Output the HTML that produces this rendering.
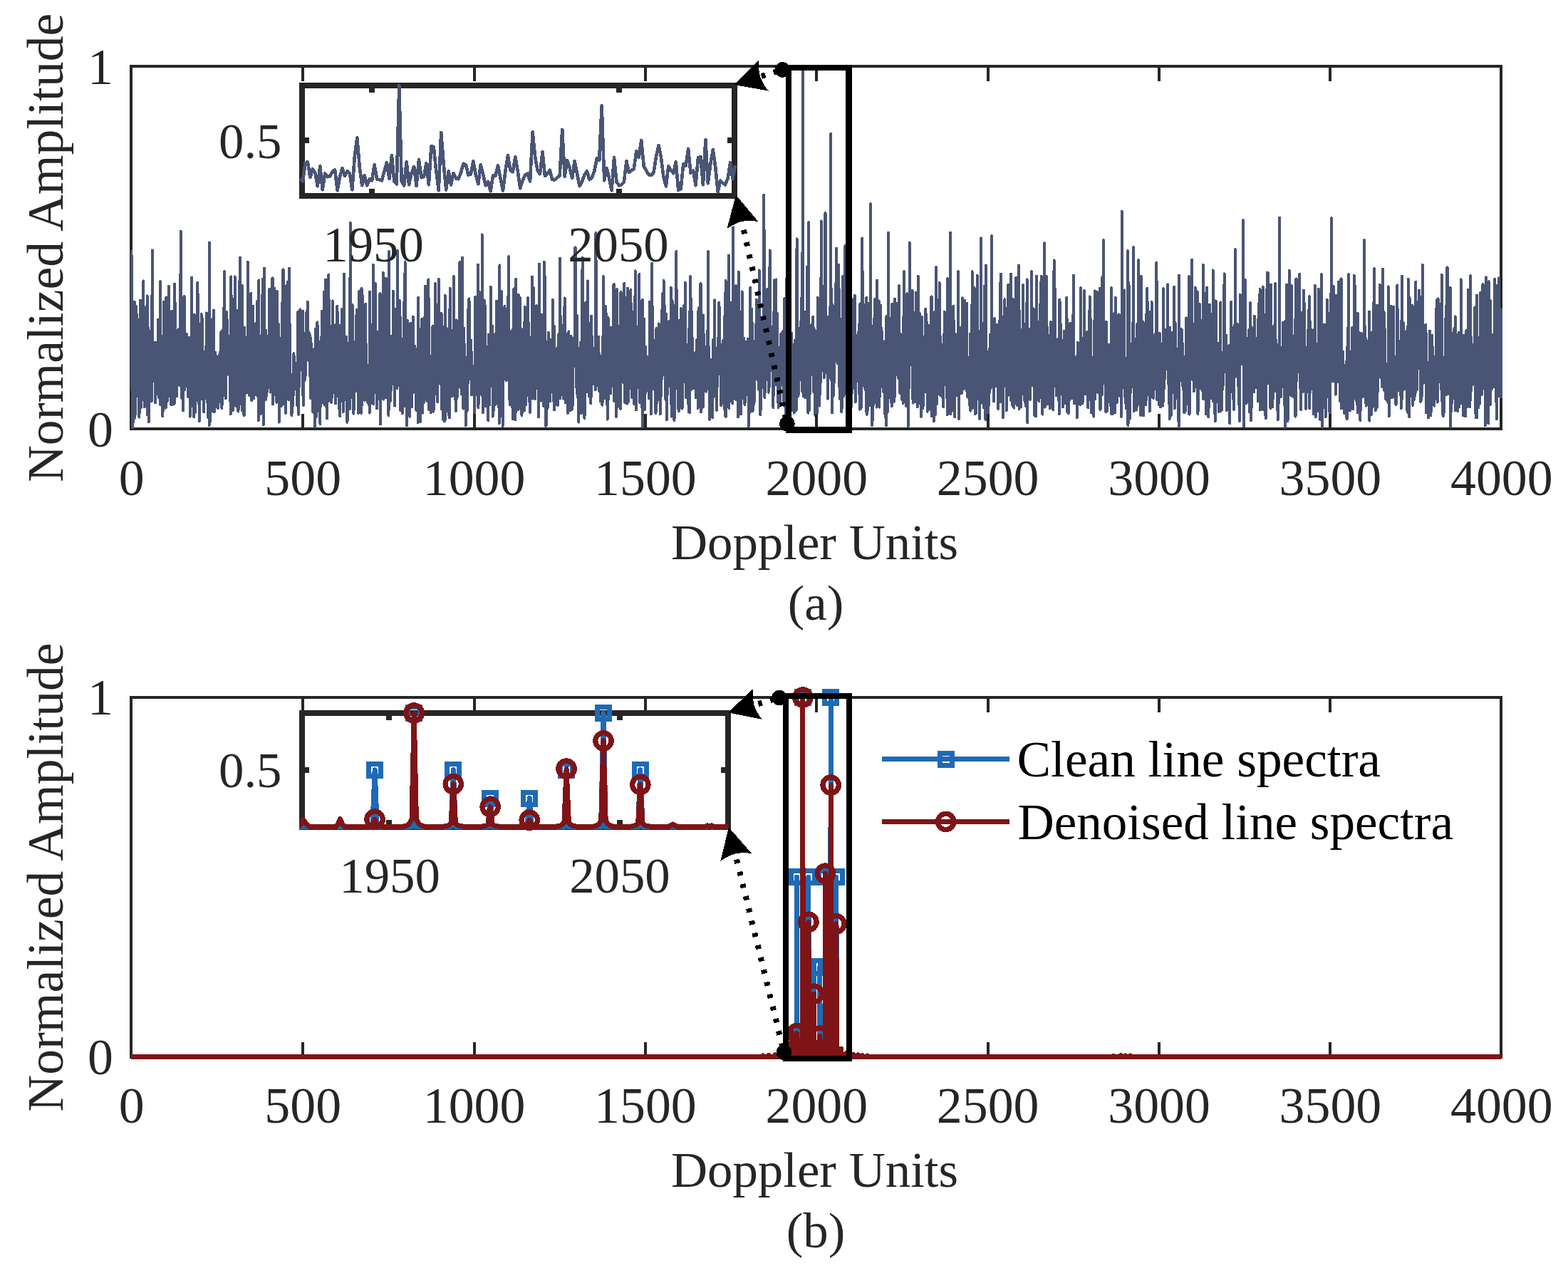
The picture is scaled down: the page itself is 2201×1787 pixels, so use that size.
<!DOCTYPE html>
<html lang="en"><head><meta charset="utf-8"><title>Line spectra denoising</title>
<style>html,body{margin:0;padding:0;background:#fff;overflow:hidden}svg{display:block}</style></head>
<body>
<svg width="2201" height="1787" viewBox="0 0 2201 1787" font-family="'Liberation Serif', 'Times New Roman', serif" font-size="70.8">
<rect x="0" y="0" width="2201" height="1787" fill="#fff"/>
<defs>
<clipPath id="ca"><rect x="182.0" y="71.0" width="1927.0" height="533.0"/></clipPath>
<clipPath id="cb"><rect x="182.0" y="957.0" width="1927.0" height="529.0"/></clipPath>
<clipPath id="cia"><rect x="420.0" y="96.0" width="615.0" height="183.0"/></clipPath>
<clipPath id="cib"><rect x="420.0" y="977.0" width="606.0" height="187.5"/></clipPath>
</defs>
<g id="plot-a" shape-rendering="crispEdges">
<rect x="184.0" y="93.0" width="1923.0" height="509.0" fill="none" stroke="#262626" stroke-width="4"/>
<path d="M184.0 352.2L184.5 352.2L185.0 525.2L185.4 548.9L185.9 519.8L186.4 600.2L186.9 574.4L187.4 473.3L187.8 458.1L188.3 552.5L188.8 423.6L189.3 586.8L189.8 540.0L190.2 581.0L190.7 429.7L191.2 497.9L191.7 548.1L192.2 441.4L192.7 555.7L193.1 456.1L193.6 484.1L194.1 504.6L194.6 569.2L195.1 448.7L195.5 585.7L196.0 495.9L196.5 567.0L197.0 421.6L197.5 526.9L197.9 572.3L198.4 515.7L198.9 459.8L199.4 484.0L199.9 561.7L200.3 453.7L200.8 514.5L201.3 394.3L201.8 480.4L202.3 474.9L202.7 571.4L203.2 539.5L203.7 441.1L204.2 531.7L204.7 547.9L205.2 469.2L205.6 471.5L206.1 498.4L206.6 415.3L207.1 582.5L207.6 551.8L208.0 460.9L208.5 551.0L209.0 592.1L209.5 555.6L210.0 559.2L210.4 542.5L210.9 499.1L211.4 552.7L211.9 464.5L212.4 509.4L212.8 563.0L213.3 461.7L213.8 351.3L214.3 476.3L214.8 488.7L215.2 535.6L215.7 508.3L216.2 510.2L216.7 501.2L217.2 516.7L217.7 480.6L218.1 565.5L218.6 540.4L219.1 480.7L219.6 487.0L220.1 480.7L220.5 553.3L221.0 505.2L221.5 514.1L222.0 448.4L222.5 555.1L222.9 511.1L223.4 558.2L223.9 493.9L224.4 525.7L224.9 395.2L225.3 568.5L225.8 473.0L226.3 479.8L226.8 479.5L227.3 560.3L227.7 549.3L228.2 584.0L228.7 574.3L229.2 553.1L229.7 423.7L230.2 440.3L230.6 539.8L231.1 572.2L231.6 555.7L232.1 521.6L232.6 572.7L233.0 494.5L233.5 417.4L234.0 563.3L234.5 552.7L235.0 462.6L235.4 562.4L235.9 423.6L236.4 481.9L236.9 401.8L237.4 556.1L237.8 514.1L238.3 525.3L238.8 482.0L239.3 549.1L239.8 526.3L240.2 568.2L240.7 554.2L241.2 437.0L241.7 568.2L242.2 477.1L242.7 528.0L243.1 543.2L243.6 515.4L244.1 438.5L244.6 567.2L245.1 398.7L245.5 509.5L246.0 425.5L246.5 537.0L247.0 548.6L247.5 526.2L247.9 556.4L248.4 517.0L248.9 470.5L249.4 492.5L249.9 506.7L250.3 462.4L250.8 519.9L251.3 512.2L251.8 512.6L252.3 541.3L252.7 517.8L253.2 492.9L253.7 324.7L254.2 503.0L254.7 459.4L255.2 559.0L255.6 482.8L256.1 508.5L256.6 444.7L257.1 576.5L257.6 539.5L258.0 461.2L258.5 415.8L259.0 431.9L259.5 547.0L260.0 486.9L260.4 519.8L260.9 535.8L261.4 528.6L261.9 469.1L262.4 480.1L262.8 498.5L263.3 522.2L263.8 548.5L264.3 557.5L264.8 506.7L265.2 540.8L265.7 473.7L266.2 499.8L266.7 584.7L267.2 522.7L267.7 519.5L268.1 550.6L268.6 480.0L269.1 389.6L269.6 474.6L270.1 540.8L270.5 523.8L271.0 570.1L271.5 554.1L272.0 510.9L272.5 585.5L272.9 441.7L273.4 459.6L273.9 452.9L274.4 578.8L274.9 517.8L275.3 458.2L275.8 517.7L276.3 518.5L276.8 543.0L277.3 397.0L277.7 424.0L278.2 462.7L278.7 556.1L279.2 525.8L279.7 591.4L280.1 474.4L280.6 510.0L281.1 492.9L281.6 480.1L282.1 518.3L282.6 441.1L283.0 560.1L283.5 526.9L284.0 447.3L284.5 559.0L285.0 494.8L285.4 527.2L285.9 537.9L286.4 578.3L286.9 509.1L287.4 547.0L287.8 531.8L288.3 496.5L288.8 486.2L289.3 556.7L289.8 439.3L290.2 468.7L290.7 564.2L291.2 507.1L291.7 521.7L292.2 585.9L292.6 535.3L293.1 485.2L293.6 597.2L294.1 340.6L294.6 592.9L295.1 476.0L295.5 527.3L296.0 533.4L296.5 569.4L297.0 493.9L297.5 448.5L297.9 576.9L298.4 452.8L298.9 545.6L299.4 572.7L299.9 435.4L300.3 504.9L300.8 578.3L301.3 511.0L301.8 511.7L302.3 494.5L302.7 553.0L303.2 537.1L303.7 499.5L304.2 516.9L304.7 571.0L305.1 558.4L305.6 508.7L306.1 572.8L306.6 516.6L307.1 565.0L307.6 499.1L308.0 543.5L308.5 548.3L309.0 494.2L309.5 536.1L310.0 467.2L310.4 531.2L310.9 465.5L311.4 572.9L311.9 557.1L312.4 463.8L312.8 478.4L313.3 555.2L313.8 510.7L314.3 469.5L314.8 381.2L315.2 535.6L315.7 549.9L316.2 471.9L316.7 559.5L317.2 505.7L317.6 437.6L318.1 487.3L318.6 448.4L319.1 450.5L319.6 474.2L320.1 476.0L320.5 525.8L321.0 500.6L321.5 519.2L322.0 507.7L322.5 503.2L322.9 475.0L323.4 558.8L323.9 581.3L324.4 388.4L324.9 506.0L325.3 563.0L325.8 521.5L326.3 437.3L326.8 576.3L327.3 478.3L327.7 550.2L328.2 546.2L328.7 522.6L329.2 473.8L329.7 388.3L330.1 528.1L330.6 568.8L331.1 570.1L331.6 490.8L332.1 511.9L332.6 492.7L333.0 521.3L333.5 516.7L334.0 435.6L334.5 577.7L335.0 540.1L335.4 556.1L335.9 395.7L336.4 550.9L336.9 361.6L337.4 567.0L337.8 498.4L338.3 514.6L338.8 415.7L339.3 490.1L339.8 401.0L340.2 576.7L340.7 484.1L341.2 517.6L341.7 535.6L342.2 580.8L342.6 583.3L343.1 459.9L343.6 508.5L344.1 505.0L344.6 552.3L345.1 492.8L345.5 514.8L346.0 475.2L346.5 551.0L347.0 549.9L347.5 474.9L347.9 367.7L348.4 462.4L348.9 543.0L349.4 512.8L349.9 551.9L350.3 555.5L350.8 537.0L351.3 479.4L351.8 547.8L352.3 411.5L352.7 457.0L353.2 562.3L353.7 438.7L354.2 544.8L354.7 473.5L355.1 430.0L355.6 536.7L356.1 559.2L356.6 525.0L357.1 554.0L357.6 489.0L358.0 514.9L358.5 454.4L359.0 554.6L359.5 528.8L360.0 518.7L360.4 485.7L360.9 540.8L361.4 422.7L361.9 556.7L362.4 479.6L362.8 590.5L363.3 393.3L363.8 576.1L364.3 492.0L364.8 487.1L365.2 517.9L365.7 581.2L366.2 555.2L366.7 506.8L367.2 539.2L367.6 558.9L368.1 533.6L368.6 391.5L369.1 472.0L369.6 596.4L370.1 454.6L370.5 544.6L371.0 376.5L371.5 499.9L372.0 502.3L372.5 510.3L372.9 560.9L373.4 463.5L373.9 493.3L374.4 555.7L374.9 534.8L375.3 489.9L375.8 481.8L376.3 494.0L376.8 544.7L377.3 475.4L377.7 533.3L378.2 405.5L378.7 484.6L379.2 488.7L379.7 550.7L380.1 509.5L380.6 512.4L381.1 526.7L381.6 507.4L382.1 473.4L382.5 390.5L383.0 567.2L383.5 467.8L384.0 438.7L384.5 545.8L385.0 548.0L385.4 404.6L385.9 554.3L386.4 503.4L386.9 531.4L387.4 506.6L387.8 496.1L388.3 564.8L388.8 408.8L389.3 480.9L389.8 553.3L390.2 554.7L390.7 454.3L391.2 487.1L391.7 592.7L392.2 515.6L392.6 546.2L393.1 532.0L393.6 559.9L394.1 475.0L394.6 489.1L395.0 569.7L395.5 495.1L396.0 513.6L396.5 423.6L397.0 541.5L397.5 378.4L397.9 566.8L398.4 443.2L398.9 555.7L399.4 525.0L399.9 401.8L400.3 466.3L400.8 526.6L401.3 579.9L401.8 538.0L402.3 551.6L402.7 403.7L403.2 403.9L403.7 395.7L404.2 510.2L404.7 534.1L405.1 526.0L405.6 560.9L406.1 376.5L406.6 471.8L407.1 549.8L407.5 523.9L408.0 529.9L408.5 536.4L409.0 553.0L409.5 583.2L410.0 537.6L410.4 527.6L410.9 555.1L411.4 569.5L411.9 515.1L412.4 496.2L412.8 505.8L413.3 507.3L413.8 529.4L414.3 531.4L414.8 509.9L415.2 531.7L415.7 520.4L416.2 511.8L416.7 568.7L417.2 551.2L417.6 530.4L418.1 438.0L418.6 578.7L419.1 581.8L419.6 536.1L420.0 536.3L420.5 520.0L421.0 502.2L421.5 434.4L422.0 510.4L422.5 482.8L422.9 497.6L423.4 493.7L423.9 519.1L424.4 476.5L424.9 436.6L425.3 547.3L425.8 568.8L426.3 540.9L426.8 467.9L427.3 499.6L427.7 533.9L428.2 497.5L428.7 513.9L429.2 526.2L429.7 439.8L430.1 440.9L430.6 458.8L431.1 487.6L431.6 423.7L432.1 483.3L432.5 473.2L433.0 502.4L433.5 506.7L434.0 470.3L434.5 467.4L435.0 527.8L435.4 489.2L435.9 558.8L436.4 474.6L436.9 504.4L437.4 504.8L437.8 521.1L438.3 544.8L438.8 510.6L439.3 578.7L439.8 512.7L440.2 512.2L440.7 565.5L441.2 490.2L441.7 502.6L442.2 599.0L442.6 461.5L443.1 557.2L443.6 550.6L444.1 584.7L444.6 534.6L445.0 498.7L445.5 452.5L446.0 566.1L446.5 514.7L447.0 536.7L447.5 560.3L447.9 577.9L448.4 537.3L448.9 535.8L449.4 595.0L449.9 502.3L450.3 479.1L450.8 496.5L451.3 499.8L451.8 436.5L452.3 507.0L452.7 565.0L453.2 503.6L453.7 552.6L454.2 566.0L454.7 467.2L455.1 409.6L455.6 568.1L456.1 531.8L456.6 553.1L457.1 392.4L457.5 538.2L458.0 570.5L458.5 505.3L459.0 587.4L459.5 464.8L460.0 526.6L460.4 563.3L460.9 551.9L461.4 385.8L461.9 539.0L462.4 550.0L462.8 555.9L463.3 562.3L463.8 460.4L464.3 537.9L464.8 489.5L465.2 564.8L465.7 554.9L466.2 516.5L466.7 422.3L467.2 503.9L467.6 545.6L468.1 522.6L468.6 470.5L469.1 545.8L469.6 551.2L470.0 519.7L470.5 551.7L471.0 566.6L471.5 455.2L472.0 479.6L472.4 556.7L472.9 475.8L473.4 429.7L473.9 460.6L474.4 488.5L474.9 475.6L475.3 521.5L475.8 484.2L476.3 574.0L476.8 456.9L477.3 584.2L477.7 502.5L478.2 494.3L478.7 524.4L479.2 530.4L479.7 532.2L480.1 434.0L480.6 539.6L481.1 505.9L481.6 578.2L482.1 567.3L482.5 510.6L483.0 384.6L483.5 489.1L484.0 561.1L484.5 533.5L484.9 543.3L485.4 542.3L485.9 507.3L486.4 472.7L486.9 503.0L487.4 592.8L487.8 516.4L488.3 589.9L488.8 554.1L489.3 509.7L489.8 560.8L490.2 497.2L490.7 574.2L491.2 527.3L491.7 312.9L492.2 505.4L492.6 512.0L493.1 493.9L493.6 552.7L494.1 558.2L494.6 427.8L495.0 528.8L495.5 486.8L496.0 551.8L496.5 580.6L497.0 505.0L497.4 554.3L497.9 537.0L498.4 480.1L498.9 543.4L499.4 502.1L499.9 549.0L500.3 447.7L500.8 434.8L501.3 495.0L501.8 525.5L502.3 483.3L502.7 553.2L503.2 579.8L503.7 435.0L504.2 409.1L504.7 432.1L505.1 506.5L505.6 491.4L506.1 507.7L506.6 562.1L507.1 579.7L507.5 404.6L508.0 568.5L508.5 413.0L509.0 437.4L509.5 430.1L509.9 529.5L510.4 560.7L510.9 543.8L511.4 529.0L511.9 524.5L512.4 561.8L512.8 532.2L513.3 427.0L513.8 560.6L514.3 535.5L514.8 518.7L515.2 529.2L515.7 545.2L516.2 564.9L516.7 538.7L517.2 518.1L517.6 512.9L518.1 528.3L518.6 579.8L519.1 409.6L519.6 521.7L520.0 520.1L520.5 566.8L521.0 558.1L521.5 456.3L522.0 480.6L522.4 511.1L522.9 561.4L523.4 533.4L523.9 371.8L524.4 567.3L524.9 508.3L525.3 463.2L525.8 532.1L526.3 450.2L526.8 398.0L527.3 549.7L527.7 512.3L528.2 485.9L528.7 490.6L529.2 573.6L529.7 494.6L530.1 467.0L530.6 560.5L531.1 465.4L531.6 518.5L532.1 518.7L532.5 511.1L533.0 511.4L533.5 411.8L534.0 595.1L534.5 510.1L534.9 505.5L535.4 426.2L535.9 545.4L536.4 490.2L536.9 526.2L537.4 522.6L537.8 382.7L538.3 560.7L538.8 534.9L539.3 558.9L539.8 536.2L540.2 466.2L540.7 535.6L541.2 539.1L541.7 390.8L542.2 558.0L542.6 463.3L543.1 440.0L543.6 541.2L544.1 502.4L544.6 450.2L545.0 507.3L545.5 583.2L546.0 353.1L546.5 529.1L547.0 479.7L547.4 507.7L547.9 492.1L548.4 562.6L548.9 471.5L549.4 547.0L549.9 481.3L550.3 537.5L550.8 503.0L551.3 538.8L551.8 408.6L552.3 487.2L552.7 467.2L553.2 518.3L553.7 482.1L554.2 569.7L554.7 481.1L555.1 434.3L555.6 526.8L556.1 493.5L556.6 511.5L557.1 542.6L557.5 545.5L558.0 352.2L558.5 464.8L559.0 526.3L559.5 541.1L559.9 517.7L560.4 431.5L560.9 421.7L561.4 479.6L561.9 575.8L562.4 445.8L562.8 559.2L563.3 512.5L563.8 565.0L564.3 526.5L564.8 580.0L565.2 559.5L565.7 554.5L566.2 563.6L566.7 424.3L567.2 549.4L567.6 570.0L568.1 461.7L568.6 368.1L569.1 461.7L569.6 448.0L570.0 541.2L570.5 519.7L571.0 597.3L571.5 504.7L572.0 450.3L572.4 570.1L572.9 579.1L573.4 583.2L573.9 554.4L574.4 552.9L574.8 575.9L575.3 584.8L575.8 508.7L576.3 453.6L576.8 536.0L577.3 538.1L577.7 503.0L578.2 571.2L578.7 515.2L579.2 547.7L579.7 444.5L580.1 551.0L580.6 548.3L581.1 524.5L581.6 528.2L582.1 520.5L582.5 485.7L583.0 527.7L583.5 505.3L584.0 534.6L584.5 576.4L584.9 553.0L585.4 522.2L585.9 517.9L586.4 521.5L586.9 593.1L587.3 417.7L587.8 561.5L588.3 525.4L588.8 527.6L589.3 530.0L589.8 592.3L590.2 490.2L590.7 461.7L591.2 464.1L591.7 492.4L592.2 447.6L592.6 558.0L593.1 579.7L593.6 491.2L594.1 513.1L594.6 565.6L595.0 540.5L595.5 445.7L596.0 543.6L596.5 537.9L597.0 401.7L597.4 496.3L597.9 425.8L598.4 541.6L598.9 524.7L599.4 562.9L599.8 524.0L600.3 499.4L600.8 501.8L601.3 392.3L601.8 455.7L602.3 575.1L602.7 528.7L603.2 550.3L603.7 534.1L604.2 521.6L604.7 579.0L605.1 566.8L605.6 499.7L606.1 515.8L606.6 509.8L607.1 552.0L607.5 457.8L608.0 471.9L608.5 577.6L609.0 541.1L609.5 488.8L609.9 514.5L610.4 540.9L610.9 398.1L611.4 514.1L611.9 472.2L612.3 553.4L612.8 514.3L613.3 429.1L613.8 538.7L614.3 564.2L614.8 498.9L615.2 488.8L615.7 391.8L616.2 415.4L616.7 486.7L617.2 483.6L617.6 442.8L618.1 538.8L618.6 524.0L619.1 502.2L619.6 439.8L620.0 574.4L620.5 492.8L621.0 494.3L621.5 458.8L622.0 523.3L622.4 589.7L622.9 544.0L623.4 517.6L623.9 591.6L624.4 489.5L624.8 414.5L625.3 588.2L625.8 565.9L626.3 513.4L626.8 460.4L627.3 466.5L627.7 555.2L628.2 532.2L628.7 497.4L629.2 529.3L629.7 582.7L630.1 552.9L630.6 529.9L631.1 586.6L631.6 404.6L632.1 517.2L632.5 504.1L633.0 479.1L633.5 495.7L634.0 515.2L634.5 523.4L634.9 556.1L635.4 493.5L635.9 463.4L636.4 508.6L636.9 388.3L637.3 524.4L637.8 510.2L638.3 458.8L638.8 464.8L639.3 561.6L639.8 471.4L640.2 576.8L640.7 449.4L641.2 559.6L641.7 557.3L642.2 526.3L642.6 479.6L643.1 472.6L643.6 487.0L644.1 543.5L644.6 503.8L645.0 525.2L645.5 368.1L646.0 510.9L646.5 544.4L647.0 504.7L647.4 519.5L647.9 553.3L648.4 549.3L648.9 361.6L649.4 548.1L649.8 546.2L650.3 573.6L650.8 521.6L651.3 460.6L651.8 511.9L652.3 499.3L652.7 569.8L653.2 534.3L653.7 597.3L654.2 525.9L654.7 515.9L655.1 502.1L655.6 577.0L656.1 521.3L656.6 539.2L657.1 512.6L657.5 433.3L658.0 501.7L658.5 419.2L659.0 499.3L659.5 485.6L659.9 529.3L660.4 532.7L660.9 512.5L661.4 477.6L661.9 554.5L662.3 494.3L662.8 551.5L663.3 530.0L663.8 528.2L664.3 553.7L664.8 538.9L665.2 527.3L665.7 513.9L666.2 595.8L666.7 534.2L667.2 416.6L667.6 554.3L668.1 527.8L668.6 510.6L669.1 473.0L669.6 548.2L670.0 532.5L670.5 463.7L671.0 371.5L671.5 572.1L672.0 439.3L672.4 504.8L672.9 410.2L673.4 508.3L673.9 536.6L674.4 516.5L674.8 469.0L675.3 552.8L675.8 517.2L676.3 494.0L676.8 329.4L677.2 517.6L677.7 579.4L678.2 551.1L678.7 533.8L679.2 471.2L679.7 421.3L680.1 492.8L680.6 570.3L681.1 429.4L681.6 552.6L682.1 570.6L682.5 509.4L683.0 503.3L683.5 498.7L684.0 505.3L684.5 486.9L684.9 529.3L685.4 590.4L685.9 469.5L686.4 538.5L686.9 568.4L687.3 499.5L687.8 481.2L688.3 542.3L688.8 402.7L689.3 482.4L689.7 506.7L690.2 504.6L690.7 468.3L691.2 457.6L691.7 584.7L692.2 559.0L692.6 488.0L693.1 575.6L693.6 545.4L694.1 470.2L694.6 526.2L695.0 503.3L695.5 568.0L696.0 562.0L696.5 468.1L697.0 422.8L697.4 508.2L697.9 470.9L698.4 477.8L698.9 547.7L699.4 542.9L699.8 571.6L700.3 517.6L700.8 594.0L701.3 372.4L701.8 545.4L702.2 469.3L702.7 461.5L703.2 489.8L703.7 408.9L704.2 479.3L704.7 526.8L705.1 527.8L705.6 598.1L706.1 500.3L706.6 494.0L707.1 462.5L707.5 438.0L708.0 532.2L708.5 430.1L709.0 483.5L709.5 525.6L709.9 504.9L710.4 478.8L710.9 534.2L711.4 488.9L711.9 496.7L712.3 481.8L712.8 476.9L713.3 456.9L713.8 360.2L714.3 456.9L714.7 507.7L715.2 551.4L715.7 568.3L716.2 550.1L716.7 473.0L717.2 555.3L717.6 464.5L718.1 522.0L718.6 558.3L719.1 505.0L719.6 588.3L720.0 462.6L720.5 545.3L721.0 544.8L721.5 405.5L722.0 538.2L722.4 516.3L722.9 491.7L723.4 589.5L723.9 546.5L724.4 391.8L724.8 561.1L725.3 533.2L725.8 507.1L726.3 521.5L726.8 568.1L727.2 575.1L727.7 413.8L728.2 546.6L728.7 561.2L729.2 514.5L729.7 417.7L730.1 519.5L730.6 515.4L731.1 552.4L731.6 580.6L732.1 462.2L732.5 583.1L733.0 533.6L733.5 468.6L734.0 478.7L734.5 471.1L734.9 549.2L735.4 477.7L735.9 452.5L736.4 576.5L736.9 430.9L737.3 495.3L737.8 563.9L738.3 568.4L738.8 486.4L739.3 458.3L739.7 486.1L740.2 446.0L740.7 535.4L741.2 418.1L741.7 471.6L742.2 533.3L742.6 563.8L743.1 541.1L743.6 500.9L744.1 578.9L744.6 473.9L745.0 547.4L745.5 549.5L746.0 481.8L746.5 512.8L747.0 388.6L747.4 559.7L747.9 514.5L748.4 526.7L748.9 403.7L749.4 483.0L749.8 468.8L750.3 451.0L750.8 559.9L751.3 533.1L751.8 532.9L752.2 436.4L752.7 527.2L753.2 429.1L753.7 500.1L754.2 482.8L754.7 468.8L755.1 545.6L755.6 514.5L756.1 585.4L756.6 522.8L757.1 370.5L757.5 555.8L758.0 512.9L758.5 557.9L759.0 508.2L759.5 562.6L759.9 441.6L760.4 548.2L760.9 485.0L761.4 548.3L761.9 547.1L762.3 540.7L762.8 569.9L763.3 531.9L763.8 367.7L764.3 525.7L764.7 503.1L765.2 388.8L765.7 546.5L766.2 597.8L766.7 597.3L767.1 483.6L767.6 514.3L768.1 518.4L768.6 572.9L769.1 481.3L769.6 477.9L770.0 467.0L770.5 557.1L771.0 527.0L771.5 501.9L772.0 498.3L772.4 563.0L772.9 516.2L773.4 477.0L773.9 546.4L774.4 523.1L774.8 507.4L775.3 536.8L775.8 420.5L776.3 493.5L776.8 562.7L777.2 493.0L777.7 457.7L778.2 575.6L778.7 509.4L779.2 495.5L779.6 523.6L780.1 518.9L780.6 567.8L781.1 529.7L781.6 494.2L782.1 551.0L782.5 487.6L783.0 568.9L783.5 543.8L784.0 491.5L784.5 469.1L784.9 539.0L785.4 554.5L785.9 362.5L786.4 559.2L786.9 538.8L787.3 444.7L787.8 469.6L788.3 553.8L788.8 546.9L789.3 551.3L789.7 527.3L790.2 476.6L790.7 551.5L791.2 559.7L791.7 431.5L792.1 554.5L792.6 418.3L793.1 495.6L793.6 565.0L794.1 501.5L794.6 475.7L795.0 522.3L795.5 469.2L796.0 480.7L796.5 538.1L797.0 579.8L797.4 537.0L797.9 498.4L798.4 465.4L798.9 568.6L799.4 512.8L799.8 516.0L800.3 576.5L800.8 518.5L801.3 471.7L801.8 486.1L802.2 527.6L802.7 574.9L803.2 476.8L803.7 474.4L804.2 568.6L804.6 502.9L805.1 490.7L805.6 495.8L806.1 485.4L806.6 478.2L807.1 500.1L807.5 347.5L808.0 469.8L808.5 446.3L809.0 543.0L809.5 502.7L809.9 442.9L810.4 554.0L810.9 547.3L811.4 558.8L811.9 546.6L812.3 592.6L812.8 547.8L813.3 553.0L813.8 488.1L814.3 559.1L814.7 480.5L815.2 507.7L815.7 580.4L816.2 543.6L816.7 499.5L817.1 457.7L817.6 361.6L818.1 579.2L818.6 530.0L819.1 577.2L819.6 512.5L820.0 481.1L820.5 586.9L821.0 470.8L821.5 500.3L822.0 536.0L822.4 424.3L822.9 550.5L823.4 506.7L823.9 475.8L824.4 510.6L824.8 394.3L825.3 513.7L825.8 452.8L826.3 538.4L826.8 556.1L827.2 500.5L827.7 504.4L828.2 510.0L828.7 513.0L829.2 566.5L829.6 555.9L830.1 443.4L830.6 477.6L831.1 509.9L831.6 526.1L832.1 500.7L832.5 512.3L833.0 539.2L833.5 489.3L834.0 527.3L834.5 492.5L834.9 534.4L835.4 519.3L835.9 547.2L836.4 326.9L836.9 498.6L837.3 470.0L837.8 540.8L838.3 515.9L838.8 482.1L839.3 487.0L839.7 478.7L840.2 472.8L840.7 507.1L841.2 548.9L841.7 498.1L842.1 534.5L842.6 504.1L843.1 563.4L843.6 520.2L844.1 544.8L844.6 542.2L845.0 550.9L845.5 568.7L846.0 520.8L846.5 473.8L847.0 388.3L847.4 550.2L847.9 450.8L848.4 491.5L848.9 476.1L849.4 558.8L849.8 429.6L850.3 501.4L850.8 440.0L851.3 546.9L851.8 567.8L852.2 463.5L852.7 588.7L853.2 534.7L853.7 446.1L854.2 560.1L854.6 509.5L855.1 489.9L855.6 511.9L856.1 547.6L856.6 511.5L857.0 552.5L857.5 503.5L858.0 459.9L858.5 517.1L859.0 536.0L859.5 474.3L859.9 460.5L860.4 542.7L860.9 445.4L861.4 399.4L861.9 399.2L862.3 563.0L862.8 521.7L863.3 535.8L863.8 551.6L864.3 512.3L864.7 567.7L865.2 584.9L865.7 536.3L866.2 406.1L866.7 487.5L867.1 547.4L867.6 570.7L868.1 458.2L868.6 534.2L869.1 507.2L869.5 462.1L870.0 531.6L870.5 532.2L871.0 573.7L871.5 409.7L872.0 417.7L872.4 492.0L872.9 496.7L873.4 489.5L873.9 432.8L874.4 488.4L874.8 536.9L875.3 500.8L875.8 530.8L876.3 397.6L876.8 440.9L877.2 564.8L877.7 545.5L878.2 505.4L878.7 537.3L879.2 484.1L879.6 506.3L880.1 566.7L880.6 487.8L881.1 404.6L881.6 564.5L882.0 562.0L882.5 447.4L883.0 514.7L883.5 545.0L884.0 502.3L884.5 536.9L884.9 524.0L885.4 407.1L885.9 488.2L886.4 490.5L886.9 557.8L887.3 523.5L887.8 437.4L888.3 551.3L888.8 537.8L889.3 491.5L889.7 566.8L890.2 520.6L890.7 499.8L891.2 479.6L891.7 380.3L892.1 559.5L892.6 530.3L893.1 575.3L893.6 522.4L894.1 539.2L894.5 477.8L895.0 535.8L895.5 458.5L896.0 520.6L896.5 544.4L897.0 471.8L897.4 384.9L897.9 545.5L898.4 565.3L898.9 521.8L899.4 525.5L899.8 484.1L900.3 558.9L900.8 551.2L901.3 572.4L901.8 420.9L902.2 598.9L902.7 530.0L903.2 504.7L903.7 534.1L904.2 447.8L904.6 575.5L905.1 532.9L905.6 553.1L906.1 486.9L906.6 528.8L907.0 536.9L907.5 520.1L908.0 546.1L908.5 517.2L909.0 500.9L909.5 528.7L909.9 548.8L910.4 517.5L910.9 559.0L911.4 557.4L911.9 423.7L912.3 489.3L912.8 554.6L913.3 436.2L913.8 581.0L914.3 532.4L914.7 524.7L915.2 370.0L915.7 462.8L916.2 546.0L916.7 517.5L917.1 508.0L917.6 527.2L918.1 477.8L918.6 540.1L919.1 534.2L919.5 534.6L920.0 549.5L920.5 579.9L921.0 556.4L921.5 461.1L922.0 520.7L922.4 565.0L922.9 523.9L923.4 548.7L923.9 495.3L924.4 561.1L924.8 454.4L925.3 560.7L925.8 537.8L926.3 505.6L926.8 581.2L927.2 563.4L927.7 540.6L928.2 555.5L928.7 520.7L929.2 519.7L929.6 412.5L930.1 519.1L930.6 502.7L931.1 494.2L931.6 393.8L932.0 526.2L932.5 494.2L933.0 429.1L933.5 512.6L934.0 473.3L934.5 561.3L934.9 504.4L935.4 441.0L935.9 589.0L936.4 529.6L936.9 470.4L937.3 553.2L937.8 477.4L938.3 515.9L938.8 451.2L939.3 471.4L939.7 536.0L940.2 541.7L940.7 490.2L941.2 538.4L941.7 403.7L942.1 492.1L942.6 584.8L943.1 566.6L943.6 422.1L944.1 497.4L944.5 518.8L945.0 575.6L945.5 428.7L946.0 480.5L946.5 590.0L947.0 491.7L947.4 471.7L947.9 542.9L948.4 470.6L948.9 516.2L949.4 353.1L949.8 542.9L950.3 448.8L950.8 490.1L951.3 546.5L951.8 457.3L952.2 572.1L952.7 577.2L953.2 567.4L953.7 450.1L954.2 537.9L954.6 555.7L955.1 480.5L955.6 538.3L956.1 433.3L956.6 445.1L957.0 543.0L957.5 573.8L958.0 549.9L958.5 463.2L959.0 526.5L959.4 493.9L959.9 536.3L960.4 428.7L960.9 451.5L961.4 506.5L961.9 397.0L962.3 528.6L962.8 512.3L963.3 558.2L963.8 533.4L964.3 541.6L964.7 534.2L965.2 484.2L965.7 563.4L966.2 549.7L966.7 578.3L967.1 574.2L967.6 437.6L968.1 579.1L968.6 533.4L969.1 388.3L969.5 473.8L970.0 419.5L970.5 546.8L971.0 437.1L971.5 536.2L971.9 474.2L972.4 529.9L972.9 529.4L973.4 545.1L973.9 502.5L974.4 534.1L974.8 506.7L975.3 495.4L975.8 502.3L976.3 535.6L976.8 558.5L977.2 528.6L977.7 477.2L978.2 552.6L978.7 525.5L979.2 513.0L979.6 573.2L980.1 457.3L980.6 432.2L981.1 538.9L981.6 549.2L982.0 554.0L982.5 552.5L983.0 564.1L983.5 398.1L984.0 578.5L984.4 460.4L984.9 524.6L985.4 571.8L985.9 442.3L986.4 571.7L986.9 570.2L987.3 442.9L987.8 502.0L988.3 520.3L988.8 495.4L989.3 521.6L989.7 487.2L990.2 518.9L990.7 543.1L991.2 549.6L991.7 546.6L992.1 534.6L992.6 533.9L993.1 509.9L993.6 454.4L994.1 353.1L994.5 485.9L995.0 500.4L995.5 531.5L996.0 588.7L996.5 516.4L996.9 566.1L997.4 506.1L997.9 561.3L998.4 504.6L998.9 532.8L999.4 517.7L999.8 507.6L1000.3 586.0L1000.8 477.3L1001.3 493.9L1001.8 557.0L1002.2 554.6L1002.7 493.7L1003.2 421.4L1003.7 548.3L1004.2 519.8L1004.6 522.2L1005.1 513.2L1005.6 499.5L1006.1 575.8L1006.6 538.1L1007.0 488.9L1007.5 513.5L1008.0 521.2L1008.5 472.9L1009.0 521.9L1009.4 424.5L1009.9 448.8L1010.4 520.6L1010.9 487.4L1011.4 519.1L1011.9 553.2L1012.3 569.3L1012.8 515.1L1013.3 484.1L1013.8 566.0L1014.3 491.4L1014.7 542.1L1015.2 477.5L1015.7 558.5L1016.2 548.5L1016.7 445.1L1017.1 540.7L1017.6 583.6L1018.1 491.6L1018.6 394.0L1019.1 584.9L1019.5 520.1L1020.0 531.2L1020.5 549.1L1021.0 549.8L1021.5 549.6L1021.9 422.2L1022.4 541.9L1022.9 358.4L1023.4 572.9L1023.9 536.7L1024.4 506.7L1024.8 453.4L1025.3 491.6L1025.8 425.5L1026.3 553.5L1026.8 424.6L1027.2 559.9L1027.7 425.3L1028.2 566.5L1028.7 472.8L1029.2 319.4L1029.6 548.1L1030.1 479.9L1030.6 408.8L1031.1 464.2L1031.6 524.6L1032.0 523.5L1032.5 560.7L1033.0 401.1L1033.5 455.2L1034.0 554.9L1034.4 549.3L1034.9 546.7L1035.4 556.0L1035.9 585.5L1036.4 479.4L1036.9 381.8L1037.3 469.9L1037.8 539.5L1038.3 506.1L1038.8 466.2L1039.3 520.5L1039.7 551.7L1040.2 581.6L1040.7 541.3L1041.2 486.4L1041.7 409.3L1042.1 486.4L1042.6 512.7L1043.1 491.8L1043.6 536.8L1044.1 474.5L1044.5 561.2L1045.0 504.0L1045.5 568.2L1046.0 487.3L1046.5 525.6L1046.9 479.4L1047.4 545.2L1047.9 500.8L1048.4 495.0L1048.9 554.6L1049.3 527.4L1049.8 475.9L1050.3 502.0L1050.8 598.2L1051.3 511.3L1051.8 523.8L1052.2 569.4L1052.7 578.9L1053.2 403.7L1053.7 526.2L1054.2 574.3L1054.6 487.0L1055.1 433.4L1055.6 518.9L1056.1 453.3L1056.6 577.0L1057.0 537.0L1057.5 512.9L1058.0 525.2L1058.5 567.4L1059.0 478.5L1059.4 516.9L1059.9 514.6L1060.4 494.3L1060.9 489.8L1061.4 468.3L1061.8 421.0L1062.3 511.6L1062.8 522.4L1063.3 533.2L1063.8 525.9L1064.3 505.6L1064.7 477.0L1065.2 547.1L1065.7 379.3L1066.2 468.4L1066.7 488.9L1067.1 582.1L1067.6 574.6L1068.1 451.3L1068.6 500.4L1069.1 520.8L1069.5 486.2L1070.0 543.8L1070.5 534.9L1071.0 496.9L1071.5 510.5L1071.9 463.0L1072.4 273.6L1072.9 489.0L1073.4 557.9L1073.9 532.9L1074.3 503.0L1074.8 481.0L1075.3 429.5L1075.8 468.1L1076.3 508.7L1076.8 525.8L1077.2 405.5L1077.7 533.0L1078.2 485.9L1078.7 550.9L1079.2 544.2L1079.6 543.4L1080.1 493.2L1080.6 351.3L1081.1 520.5L1081.6 497.3L1082.0 497.0L1082.5 481.3L1083.0 459.1L1083.5 480.7L1084.0 497.2L1084.4 485.4L1084.9 554.3L1085.4 572.1L1085.9 504.0L1086.4 456.7L1086.8 393.4L1087.3 426.4L1087.8 427.4L1088.3 444.3L1088.8 540.5L1089.3 392.4L1089.7 507.7L1090.2 500.3L1090.7 520.5L1091.2 440.2L1091.7 562.7L1092.1 540.0L1092.6 572.0L1093.1 522.2L1093.6 502.4L1094.1 563.7L1094.5 512.0L1095.0 564.3L1095.5 486.1L1096.0 505.1L1096.5 468.3L1096.9 516.2L1097.4 540.0L1097.9 529.1L1098.4 509.9L1098.9 525.5L1099.3 465.0L1099.8 476.7L1100.3 567.9L1100.8 569.6L1101.3 418.6L1101.8 547.2L1102.2 454.7L1102.7 530.9L1103.2 555.7L1103.7 596.8L1104.2 391.1L1104.6 557.7L1105.1 437.2L1105.6 543.9L1106.1 447.9L1106.6 528.2L1107.0 510.5L1107.5 527.3L1108.0 536.9L1108.5 454.1L1109.0 447.8L1109.4 520.0L1109.9 480.9L1110.4 497.1L1110.9 559.7L1111.4 467.7L1111.8 576.2L1112.3 500.8L1112.8 517.0L1113.3 513.3L1113.8 493.8L1114.3 484.2L1114.7 579.6L1115.2 517.0L1115.7 477.6L1116.2 513.3L1116.7 490.8L1117.1 500.4L1117.6 576.2L1118.1 424.3L1118.6 335.3L1119.1 474.0L1119.5 556.4L1120.0 510.7L1120.5 556.4L1121.0 527.3L1121.5 533.2L1121.9 461.0L1122.4 526.9L1122.9 530.2L1123.4 533.2L1123.9 490.5L1124.3 451.1L1124.8 526.6L1125.3 418.0L1125.8 536.9L1126.3 549.8L1126.8 95.3L1127.2 536.9L1127.7 556.4L1128.2 447.8L1128.7 553.1L1129.2 500.4L1129.6 469.3L1130.1 558.0L1130.6 437.9L1131.1 520.3L1131.6 516.7L1132.0 454.4L1132.5 553.1L1133.0 375.0L1133.5 379.6L1134.0 490.5L1134.4 579.6L1134.9 312.1L1135.4 457.4L1135.9 576.2L1136.4 490.8L1136.8 553.1L1137.3 499.1L1137.8 523.6L1138.3 526.6L1138.8 497.1L1139.3 455.7L1139.7 461.0L1140.2 508.4L1140.7 503.7L1141.2 444.5L1141.7 507.1L1142.1 549.8L1142.6 461.0L1143.1 507.1L1143.6 556.4L1144.1 538.8L1144.5 582.9L1145.0 510.7L1145.5 511.7L1146.0 464.4L1146.5 523.6L1146.9 579.6L1147.4 490.5L1147.9 418.0L1148.4 487.2L1148.9 493.5L1149.3 424.6L1149.8 490.5L1150.3 569.6L1150.8 533.5L1151.3 507.4L1151.7 502.1L1152.2 536.5L1152.7 310.4L1153.2 421.0L1153.7 487.2L1154.2 503.4L1154.6 401.5L1155.1 513.3L1155.6 503.7L1156.1 485.9L1156.6 529.9L1157.0 530.2L1157.5 520.6L1158.0 510.0L1158.5 298.8L1159.0 515.0L1159.4 441.2L1159.9 474.0L1160.4 523.3L1160.9 444.5L1161.4 500.4L1161.8 559.7L1162.3 540.2L1162.8 507.1L1163.3 490.8L1163.8 529.9L1164.2 520.3L1164.7 490.5L1165.2 431.3L1165.7 440.5L1166.2 187.9L1166.7 533.2L1167.1 477.6L1167.6 523.6L1168.1 579.6L1168.6 427.9L1169.1 540.2L1169.5 556.4L1170.0 553.4L1170.5 540.2L1171.0 444.5L1171.5 496.8L1171.9 487.2L1172.4 480.6L1172.9 398.1L1173.4 427.3L1173.9 348.5L1174.3 467.3L1174.8 487.2L1175.3 507.1L1175.8 510.0L1176.3 497.1L1176.7 424.3L1177.2 371.7L1177.7 424.3L1178.2 517.0L1178.7 559.7L1179.2 467.7L1179.6 487.2L1180.1 500.1L1180.6 447.8L1181.1 578.2L1181.6 572.9L1182.0 457.7L1182.5 467.0L1183.0 388.2L1183.5 500.1L1184.0 487.5L1184.4 556.4L1184.9 427.9L1185.4 424.3L1185.9 553.1L1186.4 345.2L1186.8 546.5L1187.3 457.4L1187.8 391.5L1188.3 474.0L1188.8 586.2L1189.2 533.9L1189.7 546.8L1190.2 553.1L1190.7 523.6L1191.2 451.1L1191.7 526.6L1192.1 464.0L1192.6 586.6L1193.1 569.9L1193.6 511.9L1194.1 580.3L1194.5 573.5L1195.0 534.6L1195.5 554.7L1196.0 486.1L1196.5 502.8L1196.9 545.8L1197.4 522.5L1197.9 420.2L1198.4 500.5L1198.9 538.2L1199.3 521.3L1199.8 414.9L1200.3 531.1L1200.8 564.1L1201.3 549.7L1201.7 524.5L1202.2 533.0L1202.7 504.5L1203.2 470.4L1203.7 513.9L1204.2 532.5L1204.6 488.9L1205.1 515.4L1205.6 455.4L1206.1 460.9L1206.6 574.8L1207.0 464.7L1207.5 426.5L1208.0 515.0L1208.5 573.7L1209.0 566.4L1209.4 539.6L1209.9 451.6L1210.4 334.4L1210.9 541.7L1211.4 527.5L1211.8 536.3L1212.3 427.6L1212.8 520.2L1213.3 441.0L1213.8 537.3L1214.2 545.0L1214.7 479.0L1215.2 502.3L1215.7 577.2L1216.2 417.9L1216.7 581.9L1217.1 517.4L1217.6 577.1L1218.1 435.0L1218.6 483.2L1219.1 425.7L1219.5 482.9L1220.0 557.2L1220.5 569.5L1221.0 542.0L1221.5 457.7L1221.9 286.1L1222.4 523.5L1222.9 530.6L1223.4 560.3L1223.9 596.9L1224.3 496.2L1224.8 590.6L1225.3 457.4L1225.8 539.2L1226.3 568.2L1226.7 447.2L1227.2 514.4L1227.7 492.5L1228.2 419.6L1228.7 492.5L1229.2 551.2L1229.6 550.9L1230.1 540.9L1230.6 571.7L1231.1 393.7L1231.6 555.3L1232.0 519.6L1232.5 516.1L1233.0 493.3L1233.5 422.2L1234.0 506.7L1234.4 571.7L1234.9 514.9L1235.4 502.4L1235.9 523.3L1236.4 428.9L1236.8 540.7L1237.3 531.3L1237.8 464.8L1238.3 525.8L1238.8 494.0L1239.2 543.7L1239.7 480.4L1240.2 549.9L1240.7 538.5L1241.2 479.3L1241.7 483.6L1242.1 565.5L1242.6 585.6L1243.1 486.2L1243.6 493.0L1244.1 597.6L1244.5 443.6L1245.0 455.7L1245.5 579.3L1246.0 555.8L1246.5 570.0L1246.9 326.5L1247.4 479.9L1247.9 534.6L1248.4 557.9L1248.9 447.2L1249.3 478.3L1249.8 529.2L1250.3 540.7L1250.8 564.2L1251.3 450.2L1251.7 570.4L1252.2 426.8L1252.7 565.7L1253.2 510.8L1253.7 507.9L1254.1 448.8L1254.6 545.0L1255.1 563.4L1255.6 557.2L1256.1 419.6L1256.6 492.5L1257.0 504.9L1257.5 464.7L1258.0 425.8L1258.5 525.6L1259.0 438.2L1259.4 488.3L1259.9 505.8L1260.4 493.8L1260.9 530.8L1261.4 475.2L1261.8 401.2L1262.3 474.9L1262.8 530.3L1263.3 551.6L1263.8 552.2L1264.2 530.0L1264.7 469.4L1265.2 493.8L1265.7 542.2L1266.2 561.2L1266.6 481.8L1267.1 505.6L1267.6 565.9L1268.1 445.6L1268.6 544.0L1269.1 381.2L1269.5 483.3L1270.0 551.4L1270.5 517.1L1271.0 548.9L1271.5 501.8L1271.9 528.2L1272.4 570.4L1272.9 465.9L1273.4 412.2L1273.9 524.2L1274.3 516.4L1274.8 598.3L1275.3 506.7L1275.8 522.1L1276.3 544.8L1276.7 340.6L1277.2 477.3L1277.7 476.7L1278.2 501.1L1278.7 464.0L1279.1 446.8L1279.6 512.6L1280.1 476.8L1280.6 408.1L1281.1 538.1L1281.6 565.8L1282.0 552.6L1282.5 504.3L1283.0 439.2L1283.5 504.3L1284.0 514.9L1284.4 543.1L1284.9 564.0L1285.4 500.7L1285.9 410.9L1286.4 539.2L1286.8 478.0L1287.3 475.4L1287.8 571.0L1288.3 478.4L1288.8 387.8L1289.2 539.3L1289.7 565.9L1290.2 543.4L1290.7 439.8L1291.2 447.5L1291.6 499.9L1292.1 488.1L1292.6 501.3L1293.1 584.8L1293.6 444.7L1294.1 489.0L1294.5 514.8L1295.0 560.5L1295.5 572.9L1296.0 490.9L1296.5 481.5L1296.9 473.2L1297.4 547.5L1297.9 497.2L1298.4 496.7L1298.9 549.9L1299.3 433.7L1299.8 448.9L1300.3 527.9L1300.8 541.1L1301.3 452.6L1301.7 577.8L1302.2 492.9L1302.7 499.3L1303.2 552.4L1303.7 570.6L1304.1 548.0L1304.6 495.6L1305.1 456.4L1305.6 499.0L1306.1 575.0L1306.6 556.1L1307.0 516.2L1307.5 416.4L1308.0 584.5L1308.5 540.9L1309.0 487.3L1309.4 532.3L1309.9 507.4L1310.4 543.4L1310.9 591.2L1311.4 486.7L1311.8 583.5L1312.3 437.8L1312.8 487.6L1313.3 581.9L1313.8 375.2L1314.2 465.9L1314.7 567.5L1315.2 541.8L1315.7 523.2L1316.2 501.1L1316.6 443.8L1317.1 508.1L1317.6 497.0L1318.1 539.0L1318.6 397.1L1319.1 554.1L1319.5 471.3L1320.0 540.5L1320.5 554.9L1321.0 483.2L1321.5 516.1L1321.9 486.0L1322.4 517.1L1322.9 557.8L1323.4 551.8L1323.9 497.2L1324.3 571.1L1324.8 504.3L1325.3 490.7L1325.8 437.7L1326.3 538.1L1326.7 527.1L1327.2 538.1L1327.7 516.1L1328.2 504.8L1328.7 441.7L1329.1 457.5L1329.6 582.3L1330.1 391.1L1330.6 532.4L1331.1 482.5L1331.6 524.6L1332.0 548.1L1332.5 543.3L1333.0 485.1L1333.5 459.2L1334.0 326.4L1334.4 581.5L1334.9 528.9L1335.4 510.0L1335.9 528.3L1336.4 576.8L1336.8 496.3L1337.3 494.3L1337.8 569.0L1338.3 430.1L1338.8 474.4L1339.2 489.4L1339.7 581.9L1340.2 585.2L1340.7 468.4L1341.2 482.6L1341.6 519.9L1342.1 471.2L1342.6 525.3L1343.1 550.2L1343.6 508.0L1344.0 555.6L1344.5 500.5L1345.0 381.2L1345.5 551.6L1346.0 587.9L1346.5 505.7L1346.9 504.3L1347.4 485.2L1347.9 460.3L1348.4 474.4L1348.9 499.8L1349.3 461.9L1349.8 552.4L1350.3 532.7L1350.8 418.3L1351.3 491.8L1351.7 471.6L1352.2 458.7L1352.7 543.0L1353.2 546.0L1353.7 529.4L1354.1 421.6L1354.6 465.3L1355.1 497.9L1355.6 484.5L1356.1 542.6L1356.5 485.9L1357.0 425.9L1357.5 549.8L1358.0 542.3L1358.5 557.7L1359.0 546.0L1359.4 558.2L1359.9 504.0L1360.4 543.1L1360.9 568.0L1361.4 514.1L1361.8 468.9L1362.3 576.7L1362.8 568.0L1363.3 549.6L1363.8 535.4L1364.2 513.7L1364.7 381.2L1365.2 572.9L1365.7 464.4L1366.2 551.7L1366.6 475.3L1367.1 525.8L1367.6 403.8L1368.1 460.2L1368.6 581.3L1369.0 518.1L1369.5 562.8L1370.0 580.1L1370.5 562.5L1371.0 492.4L1371.5 479.5L1371.9 386.8L1372.4 496.1L1372.9 515.7L1373.4 559.9L1373.9 538.0L1374.3 469.3L1374.8 559.4L1375.3 587.9L1375.8 530.5L1376.3 489.3L1376.7 441.4L1377.2 334.4L1377.7 524.0L1378.2 540.2L1378.7 565.8L1379.1 542.7L1379.6 558.9L1380.1 552.4L1380.6 563.6L1381.1 572.4L1381.5 507.6L1382.0 401.9L1382.5 531.1L1383.0 574.0L1383.5 588.9L1384.0 372.8L1384.4 479.2L1384.9 536.9L1385.4 499.6L1385.9 525.1L1386.4 545.6L1386.8 497.6L1387.3 589.7L1387.8 543.7L1388.3 543.6L1388.8 489.1L1389.2 550.5L1389.7 469.7L1390.2 505.1L1390.7 544.9L1391.2 536.6L1391.6 480.1L1392.1 331.2L1392.6 495.4L1393.1 490.1L1393.6 489.5L1394.0 483.0L1394.5 488.1L1395.0 563.5L1395.5 476.5L1396.0 447.3L1396.5 478.7L1396.9 542.5L1397.4 496.6L1397.9 540.7L1398.4 518.5L1398.9 509.4L1399.3 534.9L1399.8 455.6L1400.3 484.0L1400.8 505.1L1401.3 573.9L1401.7 553.0L1402.2 532.6L1402.7 450.6L1403.2 562.5L1403.7 494.0L1404.1 396.8L1404.6 563.9L1405.1 384.6L1405.6 481.8L1406.1 492.6L1406.5 550.7L1407.0 503.7L1407.5 445.2L1408.0 586.0L1408.5 538.1L1409.0 482.5L1409.4 500.0L1409.9 496.4L1410.4 420.2L1410.9 467.5L1411.4 542.1L1411.8 535.3L1412.3 511.7L1412.8 576.2L1413.3 481.1L1413.8 533.8L1414.2 457.2L1414.7 554.8L1415.2 399.6L1415.7 540.5L1416.2 538.7L1416.6 508.0L1417.1 423.2L1417.6 508.1L1418.1 531.0L1418.6 561.6L1419.0 384.4L1419.5 509.4L1420.0 530.7L1420.5 481.1L1421.0 477.2L1421.5 569.5L1421.9 419.9L1422.4 478.0L1422.9 564.8L1423.4 572.6L1423.9 553.4L1424.3 558.6L1424.8 499.6L1425.3 530.3L1425.8 533.6L1426.3 390.0L1426.7 556.3L1427.2 460.0L1427.7 568.9L1428.2 517.3L1428.7 537.5L1429.1 441.7L1429.6 543.1L1430.1 372.4L1430.6 574.1L1431.1 436.9L1431.5 458.0L1432.0 542.3L1432.5 537.0L1433.0 571.3L1433.5 541.1L1434.0 543.9L1434.4 553.6L1434.9 532.7L1435.4 542.4L1435.9 400.1L1436.4 434.0L1436.8 502.6L1437.3 517.0L1437.8 561.9L1438.3 519.2L1438.8 564.6L1439.2 542.4L1439.7 495.3L1440.2 570.2L1440.7 520.6L1441.2 551.2L1441.6 392.4L1442.1 593.1L1442.6 514.7L1443.1 510.7L1443.6 554.4L1444.0 552.9L1444.5 541.9L1445.0 461.9L1445.5 557.7L1446.0 560.8L1446.4 560.6L1446.9 472.3L1447.4 539.2L1447.9 381.2L1448.4 469.5L1448.9 474.6L1449.3 541.2L1449.8 432.8L1450.3 439.6L1450.8 434.4L1451.3 533.9L1451.7 495.2L1452.2 583.1L1452.7 471.6L1453.2 530.2L1453.7 562.2L1454.1 584.6L1454.6 537.4L1455.1 387.4L1455.6 532.1L1456.1 508.1L1456.5 539.1L1457.0 557.7L1457.5 560.9L1458.0 452.2L1458.5 563.4L1458.9 465.1L1459.4 521.8L1459.9 427.7L1460.4 442.7L1460.9 543.1L1461.4 398.7L1461.8 387.6L1462.3 520.0L1462.8 535.8L1463.3 581.7L1463.8 545.4L1464.2 438.3L1464.7 515.8L1465.2 559.6L1465.7 562.9L1466.2 341.3L1466.6 571.6L1467.1 531.6L1467.6 411.2L1468.1 396.3L1468.6 553.4L1469.0 388.0L1469.5 471.9L1470.0 459.0L1470.5 567.0L1471.0 500.5L1471.4 506.1L1471.9 567.1L1472.4 507.6L1472.9 524.3L1473.4 509.3L1473.9 573.0L1474.3 480.7L1474.8 452.1L1475.3 558.6L1475.8 503.3L1476.3 499.3L1476.7 507.0L1477.2 507.1L1477.7 498.0L1478.2 575.4L1478.7 512.8L1479.1 460.0L1479.6 365.3L1480.1 541.7L1480.6 403.9L1481.1 446.0L1481.5 515.6L1482.0 510.0L1482.5 542.2L1483.0 555.2L1483.5 514.8L1483.9 551.7L1484.4 508.3L1484.9 520.9L1485.4 475.5L1485.9 561.0L1486.4 543.6L1486.8 581.4L1487.3 420.7L1487.8 499.9L1488.3 424.6L1488.8 495.6L1489.2 553.2L1489.7 500.4L1490.2 513.3L1490.7 522.0L1491.2 530.3L1491.6 545.0L1492.1 571.3L1492.6 551.9L1493.1 538.2L1493.6 464.5L1494.0 521.8L1494.5 528.4L1495.0 565.9L1495.5 550.0L1496.0 506.0L1496.4 490.0L1496.9 529.6L1497.4 417.8L1497.9 577.9L1498.4 448.9L1498.9 521.2L1499.3 521.3L1499.8 580.6L1500.3 532.5L1500.8 562.2L1501.3 537.3L1501.7 473.8L1502.2 453.5L1502.7 550.4L1503.2 463.1L1503.7 488.1L1504.1 559.2L1504.6 503.6L1505.1 525.2L1505.6 535.3L1506.1 442.1L1506.5 557.6L1507.0 386.4L1507.5 511.4L1508.0 566.4L1508.5 532.4L1508.9 556.9L1509.4 549.1L1509.9 504.6L1510.4 532.6L1510.9 559.7L1511.4 500.1L1511.8 586.2L1512.3 541.8L1512.8 480.7L1513.3 539.7L1513.8 489.9L1514.2 511.9L1514.7 531.3L1515.2 499.4L1515.7 550.8L1516.2 568.4L1516.6 507.0L1517.1 404.2L1517.6 553.6L1518.1 510.1L1518.6 558.9L1519.0 549.6L1519.5 566.3L1520.0 536.3L1520.5 555.1L1521.0 547.5L1521.4 493.5L1521.9 408.2L1522.4 541.8L1522.9 493.7L1523.4 505.0L1523.9 511.2L1524.3 553.3L1524.8 496.8L1525.3 466.8L1525.8 545.1L1526.3 466.2L1526.7 544.4L1527.2 572.4L1527.7 553.3L1528.2 479.3L1528.7 511.2L1529.1 539.1L1529.6 416.4L1530.1 520.8L1530.6 447.3L1531.1 501.2L1531.5 563.1L1532.0 579.5L1532.5 574.8L1533.0 547.7L1533.5 516.7L1533.9 518.9L1534.4 530.8L1534.9 501.3L1535.4 584.7L1535.9 450.4L1536.3 546.4L1536.8 408.3L1537.3 560.3L1537.8 469.5L1538.3 514.7L1538.8 525.1L1539.2 482.6L1539.7 409.8L1540.2 445.3L1540.7 544.5L1541.2 551.4L1541.6 523.2L1542.1 501.8L1542.6 547.2L1543.1 498.4L1543.6 404.8L1544.0 486.9L1544.5 575.0L1545.0 573.2L1545.5 498.1L1546.0 531.6L1546.4 469.2L1546.9 554.2L1547.4 389.0L1547.9 539.0L1548.4 501.4L1548.8 337.2L1549.3 507.3L1549.8 523.1L1550.3 536.2L1550.8 491.8L1551.3 527.0L1551.7 498.0L1552.2 578.0L1552.7 451.9L1553.2 535.3L1553.7 577.2L1554.1 507.1L1554.6 554.7L1555.1 565.0L1555.6 545.7L1556.1 535.1L1556.5 484.0L1557.0 486.0L1557.5 548.9L1558.0 536.0L1558.5 503.2L1558.9 564.4L1559.4 570.3L1559.9 404.2L1560.4 581.3L1560.9 498.0L1561.3 554.5L1561.8 581.0L1562.3 500.3L1562.8 528.5L1563.3 538.7L1563.8 473.9L1564.2 440.2L1564.7 462.2L1565.2 579.4L1565.7 417.6L1566.2 553.9L1566.6 503.1L1567.1 537.1L1567.6 531.4L1568.1 564.8L1568.6 446.5L1569.0 482.6L1569.5 547.0L1570.0 458.0L1570.5 441.2L1571.0 555.3L1571.4 511.2L1571.9 500.6L1572.4 543.4L1572.9 511.6L1573.4 548.5L1573.8 580.2L1574.3 584.9L1574.8 297.0L1575.3 487.7L1575.8 544.2L1576.3 473.1L1576.7 508.1L1577.2 544.6L1577.7 507.5L1578.2 407.3L1578.7 556.5L1579.1 556.2L1579.6 520.2L1580.1 537.9L1580.6 573.2L1581.1 559.4L1581.5 552.1L1582.0 549.2L1582.5 542.0L1583.0 352.2L1583.5 597.0L1583.9 528.9L1584.4 396.5L1584.9 412.1L1585.4 551.8L1585.9 521.0L1586.3 587.2L1586.8 505.4L1587.3 540.0L1587.8 508.9L1588.3 504.5L1588.8 535.0L1589.2 482.2L1589.7 542.8L1590.2 456.1L1590.7 449.1L1591.2 347.1L1591.6 577.3L1592.1 556.1L1592.6 540.0L1593.1 548.8L1593.6 475.8L1594.0 541.4L1594.5 508.5L1595.0 504.0L1595.5 575.6L1596.0 455.1L1596.4 549.0L1596.9 505.5L1597.4 536.6L1597.9 365.3L1598.4 567.1L1598.8 506.5L1599.3 539.2L1599.8 548.0L1600.3 461.3L1600.8 582.9L1601.3 481.1L1601.7 387.7L1602.2 567.3L1602.7 483.5L1603.2 564.1L1603.7 521.4L1604.1 578.7L1604.6 452.1L1605.1 583.3L1605.6 538.0L1606.1 513.8L1606.5 518.2L1607.0 533.6L1607.5 493.6L1608.0 527.4L1608.5 567.9L1608.9 441.6L1609.4 488.2L1609.9 554.9L1610.4 404.6L1610.9 483.6L1611.3 432.2L1611.8 518.7L1612.3 512.1L1612.8 508.2L1613.3 490.1L1613.8 577.4L1614.2 546.8L1614.7 437.7L1615.2 518.7L1615.7 556.9L1616.2 492.2L1616.6 424.1L1617.1 486.2L1617.6 502.4L1618.1 537.0L1618.6 503.9L1619.0 558.9L1619.5 494.0L1620.0 544.4L1620.5 546.0L1621.0 533.8L1621.4 469.2L1621.9 531.8L1622.4 526.3L1622.9 517.1L1623.4 368.5L1623.8 461.9L1624.3 560.9L1624.8 485.6L1625.3 515.1L1625.8 537.0L1626.2 471.5L1626.7 568.5L1627.2 476.1L1627.7 468.0L1628.2 497.7L1628.7 556.7L1629.1 571.6L1629.6 542.4L1630.1 482.4L1630.6 537.2L1631.1 506.9L1631.5 484.0L1632.0 563.2L1632.5 569.8L1633.0 405.2L1633.5 530.9L1633.9 546.0L1634.4 511.1L1634.9 530.4L1635.4 531.2L1635.9 484.1L1636.3 463.0L1636.8 507.1L1637.3 484.4L1637.8 481.7L1638.3 481.1L1638.7 480.4L1639.2 399.4L1639.7 538.0L1640.2 466.9L1640.7 519.6L1641.2 500.2L1641.6 588.0L1642.1 459.7L1642.6 498.1L1643.1 559.1L1643.6 527.7L1644.0 583.1L1644.5 467.9L1645.0 531.0L1645.5 551.6L1646.0 466.4L1646.4 470.5L1646.9 499.6L1647.4 519.0L1647.9 454.4L1648.4 402.7L1648.8 573.5L1649.3 459.0L1649.8 533.2L1650.3 454.2L1650.8 533.3L1651.2 541.7L1651.7 547.6L1652.2 525.4L1652.7 559.9L1653.2 546.5L1653.7 566.4L1654.1 558.9L1654.6 599.2L1655.1 386.4L1655.6 500.0L1656.1 528.6L1656.5 533.9L1657.0 479.8L1657.5 462.0L1658.0 517.1L1658.5 519.6L1658.9 483.2L1659.4 463.2L1659.9 541.7L1660.4 484.9L1660.9 545.1L1661.3 547.6L1661.8 534.8L1662.3 579.4L1662.8 560.8L1663.3 541.9L1663.7 577.5L1664.2 551.6L1664.7 519.4L1665.2 446.4L1665.7 528.6L1666.2 455.5L1666.6 538.4L1667.1 498.2L1667.6 566.8L1668.1 567.3L1668.6 533.4L1669.0 388.3L1669.5 581.8L1670.0 569.7L1670.5 441.0L1671.0 466.3L1671.4 514.5L1671.9 495.3L1672.4 532.2L1672.9 364.4L1673.4 509.0L1673.8 518.5L1674.3 455.2L1674.8 533.5L1675.3 525.3L1675.8 549.1L1676.2 500.3L1676.7 531.7L1677.2 542.4L1677.7 403.7L1678.2 498.0L1678.7 498.7L1679.1 506.6L1679.6 514.1L1680.1 544.1L1680.6 409.3L1681.1 506.1L1681.5 580.9L1682.0 458.9L1682.5 532.4L1683.0 502.7L1683.5 516.3L1683.9 427.1L1684.4 470.0L1684.9 535.1L1685.4 545.6L1685.9 521.2L1686.3 506.3L1686.8 469.3L1687.3 546.9L1687.8 516.1L1688.3 549.3L1688.7 371.5L1689.2 560.3L1689.7 461.4L1690.2 559.9L1690.7 547.8L1691.2 527.3L1691.6 526.2L1692.1 421.4L1692.6 581.4L1693.1 410.8L1693.6 565.0L1694.0 403.7L1694.5 483.0L1695.0 511.4L1695.5 512.3L1696.0 534.7L1696.4 585.3L1696.9 533.0L1697.4 541.7L1697.9 427.6L1698.4 548.2L1698.8 468.3L1699.3 559.3L1699.8 537.2L1700.3 501.7L1700.8 538.0L1701.2 485.8L1701.7 523.3L1702.2 548.7L1702.7 379.3L1703.2 563.6L1703.7 502.9L1704.1 517.5L1704.6 520.6L1705.1 534.7L1705.6 591.3L1706.1 555.2L1706.5 422.2L1707.0 549.9L1707.5 502.0L1708.0 557.4L1708.5 564.5L1708.9 525.5L1709.4 543.4L1709.9 482.2L1710.4 541.6L1710.9 577.8L1711.3 553.4L1711.8 509.8L1712.3 528.8L1712.8 567.8L1713.3 424.3L1713.7 576.8L1714.2 563.1L1714.7 555.8L1715.2 575.0L1715.7 511.5L1716.2 546.2L1716.6 540.5L1717.1 509.5L1717.6 490.4L1718.1 480.1L1718.6 384.4L1719.0 498.9L1719.5 487.4L1720.0 513.0L1720.5 522.8L1721.0 470.4L1721.4 496.4L1721.9 576.1L1722.4 507.7L1722.9 549.4L1723.4 562.7L1723.8 555.9L1724.3 522.1L1724.8 573.0L1725.3 485.1L1725.8 561.5L1726.2 594.3L1726.7 502.8L1727.2 550.0L1727.7 540.3L1728.2 423.7L1728.6 480.5L1729.1 546.1L1729.6 517.0L1730.1 511.7L1730.6 459.5L1731.1 516.1L1731.5 561.4L1732.0 574.9L1732.5 535.1L1733.0 456.9L1733.5 471.5L1733.9 350.3L1734.4 473.5L1734.9 490.9L1735.4 528.4L1735.9 520.2L1736.3 512.8L1736.8 455.1L1737.3 507.5L1737.8 541.3L1738.3 504.8L1738.7 567.1L1739.2 534.4L1739.7 533.7L1740.2 590.9L1740.7 413.9L1741.1 470.6L1741.6 490.7L1742.1 480.2L1742.6 493.5L1743.1 511.0L1743.6 472.1L1744.0 492.8L1744.5 456.2L1745.0 309.1L1745.5 502.3L1746.0 598.4L1746.4 440.7L1746.9 443.8L1747.4 560.8L1747.9 393.2L1748.4 496.1L1748.8 536.6L1749.3 566.0L1749.8 565.5L1750.3 506.2L1750.8 556.4L1751.2 474.9L1751.7 474.8L1752.2 532.1L1752.7 474.0L1753.2 462.7L1753.6 578.3L1754.1 498.9L1754.6 495.9L1755.1 425.2L1755.6 590.3L1756.1 458.3L1756.5 575.3L1757.0 480.7L1757.5 546.5L1758.0 537.7L1758.5 461.5L1758.9 508.4L1759.4 508.2L1759.9 550.4L1760.4 476.3L1760.9 443.7L1761.3 517.6L1761.8 499.2L1762.3 520.2L1762.8 475.1L1763.3 544.0L1763.7 490.9L1764.2 521.0L1764.7 480.7L1765.2 497.2L1765.7 563.4L1766.1 552.8L1766.6 427.1L1767.1 458.8L1767.6 496.8L1768.1 442.9L1768.6 405.9L1769.0 575.6L1769.5 488.3L1770.0 443.5L1770.5 494.3L1771.0 421.7L1771.4 454.2L1771.9 479.2L1772.4 482.4L1772.9 402.7L1773.4 575.2L1773.8 440.8L1774.3 465.1L1774.8 573.1L1775.3 499.5L1775.8 503.5L1776.2 579.6L1776.7 587.1L1777.2 562.0L1777.7 502.4L1778.2 494.2L1778.6 383.1L1779.1 538.4L1779.6 491.8L1780.1 383.1L1780.6 535.1L1781.1 512.5L1781.5 503.0L1782.0 452.0L1782.5 530.8L1783.0 566.5L1783.5 573.3L1783.9 399.5L1784.4 562.6L1784.9 535.5L1785.4 464.7L1785.9 526.1L1786.3 571.5L1786.8 546.6L1787.3 545.6L1787.8 468.7L1788.3 457.2L1788.7 461.8L1789.2 484.4L1789.7 488.3L1790.2 398.2L1790.7 523.9L1791.1 549.4L1791.6 547.8L1792.1 484.2L1792.6 534.6L1793.1 524.3L1793.6 589.3L1794.0 487.3L1794.5 484.1L1795.0 565.3L1795.5 542.3L1796.0 305.4L1796.4 490.3L1796.9 551.7L1797.4 513.1L1797.9 557.2L1798.4 488.0L1798.8 543.8L1799.3 499.0L1799.8 507.8L1800.3 525.7L1800.8 452.5L1801.2 496.8L1801.7 539.8L1802.2 532.2L1802.7 523.2L1803.2 469.4L1803.6 599.7L1804.1 450.9L1804.6 568.0L1805.1 489.6L1805.6 442.9L1806.1 399.6L1806.5 485.5L1807.0 542.5L1807.5 591.4L1808.0 526.1L1808.5 500.1L1808.9 479.5L1809.4 468.6L1809.9 379.7L1810.4 469.7L1810.9 538.3L1811.3 410.7L1811.8 524.9L1812.3 555.6L1812.8 401.1L1813.3 528.3L1813.7 471.2L1814.2 473.4L1814.7 481.9L1815.2 525.4L1815.7 533.7L1816.1 557.3L1816.6 473.3L1817.1 478.4L1817.6 556.3L1818.1 448.1L1818.5 584.7L1819.0 574.4L1819.5 391.5L1820.0 534.2L1820.5 448.6L1821.0 435.2L1821.4 496.8L1821.9 521.5L1822.4 506.0L1822.9 520.8L1823.4 514.4L1823.8 522.8L1824.3 384.6L1824.8 516.7L1825.3 545.2L1825.8 483.6L1826.2 575.0L1826.7 511.9L1827.2 550.6L1827.7 509.4L1828.2 438.3L1828.6 550.4L1829.1 487.8L1829.6 515.2L1830.1 407.4L1830.6 485.2L1831.0 426.6L1831.5 526.2L1832.0 504.0L1832.5 532.5L1833.0 573.8L1833.5 520.4L1833.9 543.8L1834.4 491.4L1834.9 487.8L1835.4 550.4L1835.9 463.8L1836.3 527.9L1836.8 488.9L1837.3 446.9L1837.8 416.1L1838.3 573.0L1838.7 535.3L1839.2 451.6L1839.7 465.9L1840.2 481.0L1840.7 510.2L1841.1 497.9L1841.6 471.1L1842.1 522.8L1842.6 509.4L1843.1 529.1L1843.5 547.6L1844.0 581.2L1844.5 462.2L1845.0 507.7L1845.5 540.7L1846.0 401.0L1846.4 519.6L1846.9 585.2L1847.4 527.4L1847.9 550.6L1848.4 542.2L1848.8 570.0L1849.3 548.4L1849.8 577.5L1850.3 541.5L1850.8 405.5L1851.2 503.7L1851.7 559.5L1852.2 497.9L1852.7 513.4L1853.2 589.1L1853.6 515.9L1854.1 589.1L1854.6 527.1L1855.1 385.3L1855.6 529.8L1856.0 599.3L1856.5 507.6L1857.0 572.7L1857.5 546.5L1858.0 461.3L1858.5 536.9L1858.9 455.4L1859.4 488.1L1859.9 537.9L1860.4 488.5L1860.9 585.0L1861.3 484.6L1861.8 558.6L1862.3 535.3L1862.8 420.5L1863.3 493.1L1863.7 446.8L1864.2 457.4L1864.7 505.4L1865.2 465.7L1865.7 449.4L1866.1 565.8L1866.6 581.4L1867.1 498.8L1867.6 426.1L1868.1 411.8L1868.5 499.8L1869.0 306.3L1869.5 535.0L1870.0 496.8L1870.5 514.8L1871.0 487.7L1871.4 468.8L1871.9 401.7L1872.4 535.3L1872.9 521.9L1873.4 518.6L1873.8 523.6L1874.3 489.0L1874.8 553.7L1875.3 491.4L1875.8 414.5L1876.2 518.3L1876.7 520.3L1877.2 511.5L1877.7 492.5L1878.2 419.6L1878.6 536.2L1879.1 395.6L1879.6 508.6L1880.1 511.4L1880.6 541.8L1881.0 562.8L1881.5 452.5L1882.0 530.8L1882.5 391.3L1883.0 573.4L1883.5 527.2L1883.9 506.2L1884.4 536.6L1884.9 558.7L1885.4 493.8L1885.9 571.9L1886.3 521.0L1886.8 526.2L1887.3 580.0L1887.8 531.2L1888.3 523.9L1888.7 569.8L1889.2 535.7L1889.7 507.3L1890.2 584.9L1890.7 588.1L1891.1 487.0L1891.6 569.4L1892.1 460.3L1892.6 472.0L1893.1 385.3L1893.5 519.4L1894.0 575.6L1894.5 504.1L1895.0 576.6L1895.5 516.1L1896.0 542.9L1896.4 552.5L1896.9 493.8L1897.4 554.8L1897.9 460.2L1898.4 534.9L1898.8 555.3L1899.3 574.4L1899.8 476.6L1900.3 559.1L1900.8 386.8L1901.2 559.2L1901.7 541.9L1902.2 401.6L1902.7 537.8L1903.2 456.3L1903.6 562.2L1904.1 506.6L1904.6 553.7L1905.1 522.8L1905.6 579.0L1906.0 440.0L1906.5 571.8L1907.0 510.6L1907.5 519.6L1908.0 467.0L1908.5 574.9L1908.9 528.2L1909.4 589.9L1909.9 538.0L1910.4 547.7L1910.9 468.0L1911.3 477.0L1911.8 507.9L1912.3 496.7L1912.8 557.2L1913.3 485.0L1913.7 506.3L1914.2 503.2L1914.7 521.8L1915.2 337.2L1915.7 529.3L1916.1 531.2L1916.6 474.2L1917.1 553.8L1917.6 569.6L1918.1 484.5L1918.5 478.3L1919.0 491.6L1919.5 527.3L1920.0 546.6L1920.5 494.0L1920.9 549.4L1921.4 565.0L1921.9 437.5L1922.4 590.7L1922.9 561.1L1923.4 540.9L1923.8 486.5L1924.3 564.2L1924.8 582.0L1925.3 467.0L1925.8 518.9L1926.2 568.2L1926.7 571.3L1927.2 525.1L1927.7 470.6L1928.2 424.6L1928.6 467.1L1929.1 377.1L1929.6 552.0L1930.1 551.3L1930.6 576.4L1931.0 472.0L1931.5 515.2L1932.0 542.0L1932.5 538.8L1933.0 428.7L1933.4 571.6L1933.9 487.6L1934.4 504.9L1934.9 506.0L1935.4 520.3L1935.9 497.9L1936.3 519.0L1936.8 399.5L1937.3 441.3L1937.8 529.8L1938.3 475.7L1938.7 436.4L1939.2 487.8L1939.7 537.8L1940.2 543.5L1940.7 467.3L1941.1 377.5L1941.6 537.2L1942.1 501.0L1942.6 438.0L1943.1 457.1L1943.5 548.6L1944.0 462.2L1944.5 508.9L1945.0 512.8L1945.5 560.8L1945.9 534.1L1946.4 552.8L1946.9 518.7L1947.4 538.5L1947.9 518.8L1948.4 564.9L1948.8 402.4L1949.3 482.2L1949.8 584.5L1950.3 466.5L1950.8 545.9L1951.2 431.6L1951.7 504.6L1952.2 542.5L1952.7 429.9L1953.2 534.1L1953.6 558.3L1954.1 471.5L1954.6 433.8L1955.1 501.7L1955.6 499.1L1956.0 430.4L1956.5 499.1L1957.0 522.3L1957.5 537.9L1958.0 557.6L1958.4 510.0L1958.9 552.6L1959.4 568.0L1959.9 565.2L1960.4 541.8L1960.9 496.6L1961.3 400.3L1961.8 481.0L1962.3 527.1L1962.8 547.9L1963.3 508.7L1963.7 541.0L1964.2 530.7L1964.7 537.5L1965.2 544.9L1965.7 542.8L1966.1 478.6L1966.6 573.3L1967.1 449.8L1967.6 560.7L1968.1 387.4L1968.5 473.2L1969.0 508.5L1969.5 547.8L1970.0 453.0L1970.5 524.7L1970.9 539.0L1971.4 487.9L1971.9 492.8L1972.4 474.3L1972.9 546.5L1973.4 535.0L1973.8 465.3L1974.3 546.7L1974.8 498.3L1975.3 576.8L1975.8 526.6L1976.2 579.2L1976.7 391.5L1977.2 548.6L1977.7 555.4L1978.2 585.2L1978.6 417.9L1979.1 468.9L1979.6 525.5L1980.1 488.2L1980.6 548.6L1981.0 556.1L1981.5 531.0L1982.0 510.5L1982.5 428.6L1983.0 497.9L1983.4 568.8L1983.9 515.2L1984.4 494.5L1984.9 561.4L1985.4 463.6L1985.9 556.3L1986.3 513.8L1986.8 550.7L1987.3 395.5L1987.8 461.2L1988.3 481.7L1988.7 547.0L1989.2 518.8L1989.7 497.4L1990.2 501.1L1990.7 448.4L1991.1 453.0L1991.6 516.1L1992.1 407.4L1992.6 489.9L1993.1 518.1L1993.5 416.4L1994.0 563.8L1994.5 536.0L1995.0 521.4L1995.5 561.4L1995.9 452.3L1996.4 494.9L1996.9 371.8L1997.4 501.5L1997.9 478.5L1998.4 537.6L1998.8 512.3L1999.3 533.9L1999.8 461.4L2000.3 496.7L2000.8 521.8L2001.2 455.9L2001.7 579.1L2002.2 468.8L2002.7 539.0L2003.2 511.0L2003.6 562.2L2004.1 538.5L2004.6 535.5L2005.1 586.5L2005.6 508.5L2006.0 510.0L2006.5 521.9L2007.0 464.7L2007.5 558.1L2008.0 507.2L2008.4 583.2L2008.9 563.1L2009.4 558.7L2009.9 519.9L2010.4 470.5L2010.8 564.1L2011.3 487.4L2011.8 514.6L2012.3 560.1L2012.8 549.4L2013.3 569.7L2013.7 526.1L2014.2 530.4L2014.7 556.3L2015.2 536.2L2015.7 521.0L2016.1 483.1L2016.6 422.1L2017.1 549.6L2017.6 564.6L2018.1 523.4L2018.5 419.2L2019.0 513.8L2019.5 530.8L2020.0 507.5L2020.5 426.5L2020.9 532.0L2021.4 536.1L2021.9 496.7L2022.4 455.1L2022.9 492.2L2023.3 547.2L2023.8 385.5L2024.3 551.3L2024.8 581.1L2025.3 542.3L2025.8 584.3L2026.2 508.8L2026.7 546.1L2027.2 578.8L2027.7 508.5L2028.2 501.2L2028.6 545.2L2029.1 529.9L2029.6 429.8L2030.1 554.6L2030.6 472.1L2031.0 530.7L2031.5 375.2L2032.0 465.9L2032.5 402.5L2033.0 449.7L2033.4 538.6L2033.9 486.7L2034.4 553.4L2034.9 499.5L2035.4 483.0L2035.8 403.7L2036.3 598.9L2036.8 550.9L2037.3 551.5L2037.8 566.6L2038.3 555.4L2038.7 468.3L2039.2 484.8L2039.7 515.2L2040.2 469.5L2040.7 512.5L2041.1 462.6L2041.6 559.0L2042.1 539.5L2042.6 444.3L2043.1 576.4L2043.5 523.6L2044.0 495.0L2044.5 555.5L2045.0 505.3L2045.5 555.9L2045.9 551.5L2046.4 576.9L2046.9 469.8L2047.4 508.8L2047.9 466.4L2048.3 571.3L2048.8 535.1L2049.3 533.1L2049.8 556.0L2050.3 561.6L2050.8 392.4L2051.2 553.4L2051.7 566.2L2052.2 500.5L2052.7 528.6L2053.2 489.9L2053.6 533.2L2054.1 583.4L2054.6 470.9L2055.1 535.5L2055.6 542.5L2056.0 497.9L2056.5 532.4L2057.0 584.4L2057.5 550.2L2058.0 527.0L2058.4 464.1L2058.9 559.8L2059.4 570.9L2059.9 550.4L2060.4 487.8L2060.8 406.5L2061.3 553.1L2061.8 443.5L2062.3 562.2L2062.8 507.4L2063.3 571.2L2063.7 555.3L2064.2 387.2L2064.7 522.1L2065.2 548.2L2065.7 490.2L2066.1 532.6L2066.6 525.6L2067.1 540.0L2067.6 484.3L2068.1 508.7L2068.5 513.2L2069.0 534.7L2069.5 537.3L2070.0 498.3L2070.5 431.2L2070.9 516.1L2071.4 579.2L2071.9 586.5L2072.4 533.6L2072.9 414.5L2073.3 586.2L2073.8 472.9L2074.3 557.6L2074.8 496.9L2075.3 572.0L2075.8 529.2L2076.2 512.4L2076.7 566.5L2077.2 567.0L2077.7 454.4L2078.2 411.2L2078.6 529.4L2079.1 526.3L2079.6 554.4L2080.1 548.2L2080.6 498.6L2081.0 527.3L2081.5 398.7L2082.0 513.7L2082.5 489.2L2083.0 472.6L2083.4 511.7L2083.9 516.6L2084.4 531.5L2084.9 597.2L2085.4 487.4L2085.8 389.3L2086.3 476.3L2086.8 501.9L2087.3 533.1L2087.8 532.6L2088.3 567.7L2088.7 557.7L2089.2 594.5L2089.7 395.2L2090.2 477.9L2090.7 549.9L2091.1 477.5L2091.6 568.3L2092.1 422.1L2092.6 514.7L2093.1 478.5L2093.5 474.0L2094.0 545.9L2094.5 498.1L2095.0 533.5L2095.5 511.0L2095.9 469.4L2096.4 490.9L2096.9 520.5L2097.4 543.4L2097.9 501.1L2098.3 391.8L2098.8 489.5L2099.3 528.4L2099.8 561.3L2100.3 549.0L2100.8 588.1L2101.2 401.2L2101.7 502.7L2102.2 471.3L2102.7 478.5L2103.2 441.4L2103.6 390.3L2104.1 556.6L2104.6 449.6L2105.1 513.4L2105.6 520.6L2106.0 499.9L2106.5 434.0L2107.0 558.7" stroke="#4a5575" stroke-width="4" fill="none" stroke-linejoin="round"/>
<path d="M425.18 602.0V580.80M425.18 93.0V114.20M665.55 602.0V580.80M665.55 93.0V114.20M905.92 602.0V580.80M905.92 93.0V114.20M1146.30 602.0V580.80M1146.30 93.0V114.20M1386.67 602.0V580.80M1386.67 93.0V114.20M1627.05 602.0V580.80M1627.05 93.0V114.20M1867.42 602.0V580.80M1867.42 93.0V114.20" stroke="#262626" stroke-width="4" fill="none"/>
<rect x="1107" y="95" width="84.5" height="508.5" fill="none" stroke="#000" stroke-width="8.3"/>
<rect x="424.0" y="120.0" width="607.0" height="155.0" fill="#fff"/>
<rect x="424.0" y="120.0" width="607.0" height="155.0" fill="none" stroke="#262626" stroke-width="8"/><path d="M522.12 275.0V265.00M522.12 120.0V130.00M868.98 275.0V265.00M868.98 120.0V130.00M424.0 196.70H434.00M1031.0 196.70H1021.00" stroke="#262626" stroke-width="8" fill="none"/>
<path d="M421.5 251.4L425.0 254.4L428.5 229.2L431.9 227.2L435.4 249.2L438.9 237.3L442.3 242.3L445.8 261.3L449.3 233.3L452.7 266.4L456.2 243.4L459.7 248.3L463.2 247.2L466.6 241.3L470.1 238.3L473.6 267.4L477.0 248.3L480.5 236.3L484.0 247.2L487.4 240.3L490.9 243.3L494.4 266.4L497.8 220.1L501.3 193.0L504.8 235.2L508.2 260.3L511.7 246.4L515.2 260.3L518.7 251.4L522.1 253.3L525.6 231.3L529.1 251.3L532.5 252.3L536.0 253.3L539.5 240.2L542.9 228.3L546.4 251.2L549.9 218.2L553.3 254.4L556.8 258.3L560.3 119.9L563.7 254.4L567.2 260.3L570.7 227.2L574.1 259.3L577.6 243.3L581.1 233.8L584.6 260.8L588.0 224.2L591.5 249.3L595.0 248.2L598.4 229.3L601.9 259.3L605.4 205.1L608.8 206.5L612.3 240.2L615.8 267.4L619.2 185.9L622.7 230.2L626.2 266.4L629.6 240.3L633.1 259.3L636.6 242.9L640.1 250.3L643.5 251.2L647.0 242.3L650.5 229.7L653.9 231.3L657.4 245.7L660.9 244.3L664.3 226.2L667.8 245.3L671.3 258.3L674.7 231.3L678.2 245.3L681.7 260.3L685.1 255.0L688.6 268.4L692.1 246.4L695.5 246.7L699.0 232.3L702.5 250.3L706.0 267.4L709.4 240.2L712.9 218.2L716.4 239.2L719.8 241.2L723.3 220.2L726.8 240.2L730.2 264.3L733.7 253.4L737.2 245.4L740.6 243.8L744.1 254.3L747.6 185.4L751.0 219.1L754.5 239.2L758.0 244.2L761.5 213.1L764.9 247.2L768.4 244.3L771.9 238.8L775.3 252.2L778.8 252.3L782.3 249.4L785.7 246.2L789.2 181.9L792.7 247.7L796.1 225.2L799.6 235.2L803.1 250.2L806.5 226.2L810.0 243.3L813.5 261.3L816.9 255.4L820.4 245.3L823.9 240.3L827.4 252.2L830.8 249.3L834.3 240.2L837.8 222.2L841.2 225.0L844.7 148.1L848.2 253.3L851.6 236.3L855.1 250.3L858.6 267.4L862.0 221.2L865.5 255.4L869.0 260.3L872.4 259.4L875.9 255.4L879.4 226.2L882.9 242.2L886.3 239.2L889.8 237.2L893.3 212.1L896.7 221.0L900.2 197.0L903.7 233.2L907.1 239.2L910.6 245.3L914.1 246.2L917.5 242.3L921.0 220.1L924.5 204.1L927.9 220.1L931.4 248.3L934.9 261.3L938.3 233.3L941.8 239.2L945.3 243.2L948.8 227.2L952.2 267.0L955.7 265.3L959.2 230.3L962.6 233.1L966.1 209.1L969.6 243.2L973.0 239.3L976.5 260.3L980.0 221.2L983.4 220.1L986.9 259.3L990.4 196.0L993.8 257.3L997.3 230.2L1000.8 210.1L1004.3 235.2L1007.7 269.4L1011.2 253.5L1014.7 257.4L1018.1 259.3L1021.6 250.3L1025.1 228.3L1028.5 251.2L1032.0 232.2" stroke="#4a5575" stroke-width="4.6" fill="none" stroke-linejoin="round" clip-path="url(#cia)"/>
<text x="524.12" y="367.20" text-anchor="middle" fill="#262626">1950</text>
<text x="867.98" y="367.20" text-anchor="middle" fill="#262626">2050</text>
<text x="395.50" y="221.50" text-anchor="end" fill="#262626">0.5</text>
<path d="M1098.4 97.9L1067.0 107.6" stroke="#000" stroke-width="8.0" stroke-dasharray="5.6 12.10" stroke-dashoffset="10.10" fill="none"/><path d="M1030.6 118.9L1065.3 84.6Q1064.2 96.7 1067.0 107.6Q1070.9 118.2 1078.6 127.6Z" fill="#000"/><circle cx="1098.4" cy="97.9" r="10.8" fill="#000"/>
<path d="M1104.8 594.8L1041.3 310.9" stroke="#000" stroke-width="8.0" stroke-dasharray="5.6 12.10" stroke-dashoffset="10.10" fill="none"/><path d="M1033.0 273.7L1064.4 311.0Q1052.4 309.0 1041.3 310.9Q1030.5 313.9 1020.5 320.9Z" fill="#000"/><circle cx="1104.8" cy="594.8" r="10.8" fill="#000"/>
<g font-size="71.8"><text x="184.80" y="695.30" text-anchor="middle" fill="#262626">0</text><text x="425.18" y="695.30" text-anchor="middle" fill="#262626">500</text><text x="665.55" y="695.30" text-anchor="middle" fill="#262626">1000</text><text x="905.92" y="695.30" text-anchor="middle" fill="#262626">1500</text><text x="1146.30" y="695.30" text-anchor="middle" fill="#262626">2000</text><text x="1386.67" y="695.30" text-anchor="middle" fill="#262626">2500</text><text x="1627.05" y="695.30" text-anchor="middle" fill="#262626">3000</text><text x="1867.42" y="695.30" text-anchor="middle" fill="#262626">3500</text><text x="2107.80" y="695.30" text-anchor="middle" fill="#262626">4000</text><text x="158.80" y="626.80" text-anchor="end" fill="#262626">0</text><text x="158.80" y="117.80" text-anchor="end" fill="#262626">1</text></g>
<text x="1143.50" y="785.40" text-anchor="middle" fill="#262626">Doppler Units</text>
<text x="1145.00" y="870.00" text-anchor="middle" fill="#262626">(a)</text>
<text transform="translate(88 347.8) rotate(-90)" text-anchor="middle" font-size="71.6" fill="#262626">Normalized Amplitude</text>
</g>
<g id="plot-b" shape-rendering="crispEdges">
<rect x="184.0" y="979.0" width="1923.0" height="505.0" fill="none" stroke="#262626" stroke-width="4"/><path d="M425.18 1484.0V1462.80M425.18 979.0V1000.20M665.55 1484.0V1462.80M665.55 979.0V1000.20M905.92 1484.0V1462.80M905.92 979.0V1000.20M1146.30 1484.0V1462.80M1146.30 979.0V1000.20M1386.67 1484.0V1462.80M1386.67 979.0V1000.20M1627.05 1484.0V1462.80M1627.05 979.0V1000.20M1867.42 1484.0V1462.80M1867.42 979.0V1000.20" stroke="#262626" stroke-width="4" fill="none"/>
<path d="M184.0 1483.5L184.5 1483.5L185.0 1483.5L185.4 1483.5L185.9 1483.5L186.4 1483.5L186.9 1483.5L187.4 1483.5L187.8 1483.5L188.3 1483.5L188.8 1483.5L189.3 1483.5L189.8 1483.5L190.2 1483.5L190.7 1483.5L191.2 1483.5L191.7 1483.5L192.2 1483.5L192.7 1483.5L193.1 1483.5L193.6 1483.5L194.1 1483.5L194.6 1483.5L195.1 1483.5L195.5 1483.5L196.0 1483.5L196.5 1483.5L197.0 1483.5L197.5 1483.5L197.9 1483.5L198.4 1483.5L198.9 1483.5L199.4 1483.5L199.9 1483.5L200.3 1483.5L200.8 1483.5L201.3 1483.5L201.8 1483.5L202.3 1483.5L202.7 1483.5L203.2 1483.5L203.7 1483.5L204.2 1483.5L204.7 1483.5L205.2 1483.5L205.6 1483.5L206.1 1483.5L206.6 1483.5L207.1 1483.5L207.6 1483.5L208.0 1483.5L208.5 1483.5L209.0 1483.5L209.5 1483.5L210.0 1483.5L210.4 1483.5L210.9 1483.5L211.4 1483.5L211.9 1483.5L212.4 1483.5L212.8 1483.5L213.3 1483.5L213.8 1483.5L214.3 1483.5L214.8 1483.5L215.2 1483.5L215.7 1483.5L216.2 1483.5L216.7 1483.5L217.2 1483.5L217.7 1483.5L218.1 1483.5L218.6 1483.5L219.1 1483.5L219.6 1483.5L220.1 1483.5L220.5 1483.5L221.0 1483.5L221.5 1483.5L222.0 1483.5L222.5 1483.5L222.9 1483.5L223.4 1483.5L223.9 1483.5L224.4 1483.5L224.9 1483.5L225.3 1483.5L225.8 1483.5L226.3 1483.5L226.8 1483.5L227.3 1483.5L227.7 1483.5L228.2 1483.5L228.7 1483.5L229.2 1483.5L229.7 1483.5L230.2 1483.5L230.6 1483.5L231.1 1483.5L231.6 1483.5L232.1 1483.5L232.6 1483.5L233.0 1483.5L233.5 1483.5L234.0 1483.5L234.5 1483.5L235.0 1483.5L235.4 1483.5L235.9 1483.5L236.4 1483.5L236.9 1483.5L237.4 1483.5L237.8 1483.5L238.3 1483.5L238.8 1483.5L239.3 1483.5L239.8 1483.5L240.2 1483.5L240.7 1483.5L241.2 1483.5L241.7 1483.5L242.2 1483.5L242.7 1483.5L243.1 1483.5L243.6 1483.5L244.1 1483.5L244.6 1483.5L245.1 1483.5L245.5 1483.5L246.0 1483.5L246.5 1483.5L247.0 1483.5L247.5 1483.5L247.9 1483.5L248.4 1483.5L248.9 1483.5L249.4 1483.5L249.9 1483.5L250.3 1483.5L250.8 1483.5L251.3 1483.5L251.8 1483.5L252.3 1483.5L252.7 1483.5L253.2 1483.5L253.7 1483.5L254.2 1483.5L254.7 1483.5L255.2 1483.5L255.6 1483.5L256.1 1483.5L256.6 1483.5L257.1 1483.5L257.6 1483.5L258.0 1483.5L258.5 1483.5L259.0 1483.5L259.5 1483.5L260.0 1483.5L260.4 1483.5L260.9 1483.5L261.4 1483.5L261.9 1483.5L262.4 1483.5L262.8 1483.5L263.3 1483.5L263.8 1483.5L264.3 1483.5L264.8 1483.5L265.2 1483.5L265.7 1483.5L266.2 1483.5L266.7 1483.5L267.2 1483.5L267.7 1483.5L268.1 1483.5L268.6 1483.5L269.1 1483.5L269.6 1483.5L270.1 1483.5L270.5 1483.5L271.0 1483.5L271.5 1483.5L272.0 1483.5L272.5 1483.5L272.9 1483.5L273.4 1483.5L273.9 1483.5L274.4 1483.5L274.9 1483.5L275.3 1483.5L275.8 1483.5L276.3 1483.5L276.8 1483.5L277.3 1483.5L277.7 1483.5L278.2 1483.5L278.7 1483.5L279.2 1483.5L279.7 1483.5L280.1 1483.5L280.6 1483.5L281.1 1483.5L281.6 1483.5L282.1 1483.5L282.6 1483.5L283.0 1483.5L283.5 1483.5L284.0 1483.5L284.5 1483.5L285.0 1483.5L285.4 1483.5L285.9 1483.5L286.4 1483.5L286.9 1483.5L287.4 1483.5L287.8 1483.5L288.3 1483.5L288.8 1483.5L289.3 1483.5L289.8 1483.5L290.2 1483.5L290.7 1483.5L291.2 1483.5L291.7 1483.5L292.2 1483.5L292.6 1483.5L293.1 1483.5L293.6 1483.5L294.1 1483.5L294.6 1483.5L295.1 1483.5L295.5 1483.5L296.0 1483.5L296.5 1483.5L297.0 1483.5L297.5 1483.5L297.9 1483.5L298.4 1483.5L298.9 1483.5L299.4 1483.5L299.9 1483.5L300.3 1483.5L300.8 1483.5L301.3 1483.5L301.8 1483.5L302.3 1483.5L302.7 1483.5L303.2 1483.5L303.7 1483.5L304.2 1483.5L304.7 1483.5L305.1 1483.5L305.6 1483.5L306.1 1483.5L306.6 1483.5L307.1 1483.5L307.6 1483.5L308.0 1483.5L308.5 1483.5L309.0 1483.5L309.5 1483.5L310.0 1483.5L310.4 1483.5L310.9 1483.5L311.4 1483.5L311.9 1483.5L312.4 1483.5L312.8 1483.5L313.3 1483.5L313.8 1483.5L314.3 1483.5L314.8 1483.5L315.2 1483.5L315.7 1483.5L316.2 1483.5L316.7 1483.5L317.2 1483.5L317.6 1483.5L318.1 1483.5L318.6 1483.5L319.1 1483.5L319.6 1483.5L320.1 1483.5L320.5 1483.5L321.0 1483.5L321.5 1483.5L322.0 1483.5L322.5 1483.5L322.9 1483.5L323.4 1483.5L323.9 1483.5L324.4 1483.5L324.9 1483.5L325.3 1483.5L325.8 1483.5L326.3 1483.5L326.8 1483.5L327.3 1483.5L327.7 1483.5L328.2 1483.5L328.7 1483.5L329.2 1483.5L329.7 1483.5L330.1 1483.5L330.6 1483.5L331.1 1483.5L331.6 1483.5L332.1 1483.5L332.6 1483.5L333.0 1483.5L333.5 1483.5L334.0 1483.5L334.5 1483.5L335.0 1483.5L335.4 1483.5L335.9 1483.5L336.4 1483.5L336.9 1483.5L337.4 1483.5L337.8 1483.5L338.3 1483.5L338.8 1483.5L339.3 1483.5L339.8 1483.5L340.2 1483.5L340.7 1483.5L341.2 1483.5L341.7 1483.5L342.2 1483.5L342.6 1483.5L343.1 1483.5L343.6 1483.5L344.1 1483.5L344.6 1483.5L345.1 1483.5L345.5 1483.5L346.0 1483.5L346.5 1483.5L347.0 1483.5L347.5 1483.5L347.9 1483.5L348.4 1483.5L348.9 1483.5L349.4 1483.5L349.9 1483.5L350.3 1483.5L350.8 1483.5L351.3 1483.5L351.8 1483.5L352.3 1483.5L352.7 1483.5L353.2 1483.5L353.7 1483.5L354.2 1483.5L354.7 1483.5L355.1 1483.5L355.6 1483.5L356.1 1483.5L356.6 1483.5L357.1 1483.5L357.6 1483.5L358.0 1483.5L358.5 1483.5L359.0 1483.5L359.5 1483.5L360.0 1483.5L360.4 1483.5L360.9 1483.5L361.4 1483.5L361.9 1483.5L362.4 1483.5L362.8 1483.5L363.3 1483.5L363.8 1483.5L364.3 1483.5L364.8 1483.5L365.2 1483.5L365.7 1483.5L366.2 1483.5L366.7 1483.5L367.2 1483.5L367.6 1483.5L368.1 1483.5L368.6 1483.5L369.1 1483.5L369.6 1483.5L370.1 1483.5L370.5 1483.5L371.0 1483.5L371.5 1483.5L372.0 1483.5L372.5 1483.5L372.9 1483.5L373.4 1483.5L373.9 1483.5L374.4 1483.5L374.9 1483.5L375.3 1483.5L375.8 1483.5L376.3 1483.5L376.8 1483.5L377.3 1483.5L377.7 1483.5L378.2 1483.5L378.7 1483.5L379.2 1483.5L379.7 1483.5L380.1 1483.5L380.6 1483.5L381.1 1483.5L381.6 1483.5L382.1 1483.5L382.5 1483.5L383.0 1483.5L383.5 1483.5L384.0 1483.5L384.5 1483.5L385.0 1483.5L385.4 1483.5L385.9 1483.5L386.4 1483.5L386.9 1483.5L387.4 1483.5L387.8 1483.5L388.3 1483.5L388.8 1483.5L389.3 1483.5L389.8 1483.5L390.2 1483.5L390.7 1483.5L391.2 1483.5L391.7 1483.5L392.2 1483.5L392.6 1483.5L393.1 1483.5L393.6 1483.5L394.1 1483.5L394.6 1483.5L395.0 1483.5L395.5 1483.5L396.0 1483.5L396.5 1483.5L397.0 1483.5L397.5 1483.5L397.9 1483.5L398.4 1483.5L398.9 1483.5L399.4 1483.5L399.9 1483.5L400.3 1483.5L400.8 1483.5L401.3 1483.5L401.8 1483.5L402.3 1483.5L402.7 1483.5L403.2 1483.5L403.7 1483.5L404.2 1483.5L404.7 1483.5L405.1 1483.5L405.6 1483.5L406.1 1483.5L406.6 1483.5L407.1 1483.5L407.5 1483.5L408.0 1483.5L408.5 1483.5L409.0 1483.5L409.5 1483.5L410.0 1483.5L410.4 1483.5L410.9 1483.5L411.4 1483.5L411.9 1483.5L412.4 1483.5L412.8 1483.5L413.3 1483.5L413.8 1483.5L414.3 1483.5L414.8 1483.5L415.2 1483.5L415.7 1483.5L416.2 1483.5L416.7 1483.5L417.2 1483.5L417.6 1483.5L418.1 1483.5L418.6 1483.5L419.1 1483.5L419.6 1483.5L420.0 1483.5L420.5 1483.5L421.0 1483.5L421.5 1483.5L422.0 1483.5L422.5 1483.5L422.9 1483.5L423.4 1483.5L423.9 1483.5L424.4 1483.5L424.9 1483.5L425.3 1483.5L425.8 1483.5L426.3 1483.5L426.8 1483.5L427.3 1483.5L427.7 1483.5L428.2 1483.5L428.7 1483.5L429.2 1483.5L429.7 1483.5L430.1 1483.5L430.6 1483.5L431.1 1483.5L431.6 1483.5L432.1 1483.5L432.5 1483.5L433.0 1483.5L433.5 1483.5L434.0 1483.5L434.5 1483.5L435.0 1483.5L435.4 1483.5L435.9 1483.5L436.4 1483.5L436.9 1483.5L437.4 1483.5L437.8 1483.5L438.3 1483.5L438.8 1483.5L439.3 1483.5L439.8 1483.5L440.2 1483.5L440.7 1483.5L441.2 1483.5L441.7 1483.5L442.2 1483.5L442.6 1483.5L443.1 1483.5L443.6 1483.5L444.1 1483.5L444.6 1483.5L445.0 1483.5L445.5 1483.5L446.0 1483.5L446.5 1483.5L447.0 1483.5L447.5 1483.5L447.9 1483.5L448.4 1483.5L448.9 1483.5L449.4 1483.5L449.9 1483.5L450.3 1483.5L450.8 1483.5L451.3 1483.5L451.8 1483.5L452.3 1483.5L452.7 1483.5L453.2 1483.5L453.7 1483.5L454.2 1483.5L454.7 1483.5L455.1 1483.5L455.6 1483.5L456.1 1483.5L456.6 1483.5L457.1 1483.5L457.5 1483.5L458.0 1483.5L458.5 1483.5L459.0 1483.5L459.5 1483.5L460.0 1483.5L460.4 1483.5L460.9 1483.5L461.4 1483.5L461.9 1483.5L462.4 1483.5L462.8 1483.5L463.3 1483.5L463.8 1483.5L464.3 1483.5L464.8 1483.5L465.2 1483.5L465.7 1483.5L466.2 1483.5L466.7 1483.5L467.2 1483.5L467.6 1483.5L468.1 1483.5L468.6 1483.5L469.1 1483.5L469.6 1483.5L470.0 1483.5L470.5 1483.5L471.0 1483.5L471.5 1483.5L472.0 1483.5L472.4 1483.5L472.9 1483.5L473.4 1483.5L473.9 1483.5L474.4 1483.5L474.9 1483.5L475.3 1483.5L475.8 1483.5L476.3 1483.5L476.8 1483.5L477.3 1483.5L477.7 1483.5L478.2 1483.5L478.7 1483.5L479.2 1483.5L479.7 1483.5L480.1 1483.5L480.6 1483.5L481.1 1483.5L481.6 1483.5L482.1 1483.5L482.5 1483.5L483.0 1483.5L483.5 1483.5L484.0 1483.5L484.5 1483.5L484.9 1483.5L485.4 1483.5L485.9 1483.5L486.4 1483.5L486.9 1483.5L487.4 1483.5L487.8 1483.5L488.3 1483.5L488.8 1483.5L489.3 1483.5L489.8 1483.5L490.2 1483.5L490.7 1483.5L491.2 1483.5L491.7 1483.5L492.2 1483.5L492.6 1483.5L493.1 1483.5L493.6 1483.5L494.1 1483.5L494.6 1483.5L495.0 1483.5L495.5 1483.5L496.0 1483.5L496.5 1483.5L497.0 1483.5L497.4 1483.5L497.9 1483.5L498.4 1483.5L498.9 1483.5L499.4 1483.5L499.9 1483.5L500.3 1483.5L500.8 1483.5L501.3 1483.5L501.8 1483.5L502.3 1483.5L502.7 1483.5L503.2 1483.5L503.7 1483.5L504.2 1483.5L504.7 1483.5L505.1 1483.5L505.6 1483.5L506.1 1483.5L506.6 1483.5L507.1 1483.5L507.5 1483.5L508.0 1483.5L508.5 1483.5L509.0 1483.5L509.5 1483.5L509.9 1483.5L510.4 1483.5L510.9 1483.5L511.4 1483.5L511.9 1483.5L512.4 1483.5L512.8 1483.5L513.3 1483.5L513.8 1483.5L514.3 1483.5L514.8 1483.5L515.2 1483.5L515.7 1483.5L516.2 1483.5L516.7 1483.5L517.2 1483.5L517.6 1483.5L518.1 1483.5L518.6 1483.5L519.1 1483.5L519.6 1483.5L520.0 1483.5L520.5 1483.5L521.0 1483.5L521.5 1483.5L522.0 1483.5L522.4 1483.5L522.9 1483.5L523.4 1483.5L523.9 1483.5L524.4 1483.5L524.9 1483.5L525.3 1483.5L525.8 1483.5L526.3 1483.5L526.8 1483.5L527.3 1483.5L527.7 1483.5L528.2 1483.5L528.7 1483.5L529.2 1483.5L529.7 1483.5L530.1 1483.5L530.6 1483.5L531.1 1483.5L531.6 1483.5L532.1 1483.5L532.5 1483.5L533.0 1483.5L533.5 1483.5L534.0 1483.5L534.5 1483.5L534.9 1483.5L535.4 1483.5L535.9 1483.5L536.4 1483.5L536.9 1483.5L537.4 1483.5L537.8 1483.5L538.3 1483.5L538.8 1483.5L539.3 1483.5L539.8 1483.5L540.2 1483.5L540.7 1483.5L541.2 1483.5L541.7 1483.5L542.2 1483.5L542.6 1483.5L543.1 1483.5L543.6 1483.5L544.1 1483.5L544.6 1483.5L545.0 1483.5L545.5 1483.5L546.0 1483.5L546.5 1483.5L547.0 1483.5L547.4 1483.5L547.9 1483.5L548.4 1483.5L548.9 1483.5L549.4 1483.5L549.9 1483.5L550.3 1483.5L550.8 1483.5L551.3 1483.5L551.8 1483.5L552.3 1483.5L552.7 1483.5L553.2 1483.5L553.7 1483.5L554.2 1483.5L554.7 1483.5L555.1 1483.5L555.6 1483.5L556.1 1483.5L556.6 1483.5L557.1 1483.5L557.5 1483.5L558.0 1483.5L558.5 1483.5L559.0 1483.5L559.5 1483.5L559.9 1483.5L560.4 1483.5L560.9 1483.5L561.4 1483.5L561.9 1483.5L562.4 1483.5L562.8 1483.5L563.3 1483.5L563.8 1483.5L564.3 1483.5L564.8 1483.5L565.2 1483.5L565.7 1483.5L566.2 1483.5L566.7 1483.5L567.2 1483.5L567.6 1483.5L568.1 1483.5L568.6 1483.5L569.1 1483.5L569.6 1483.5L570.0 1483.5L570.5 1483.5L571.0 1483.5L571.5 1483.5L572.0 1483.5L572.4 1483.5L572.9 1483.5L573.4 1483.5L573.9 1483.5L574.4 1483.5L574.8 1483.5L575.3 1483.5L575.8 1483.5L576.3 1483.5L576.8 1483.5L577.3 1483.5L577.7 1483.5L578.2 1483.5L578.7 1483.5L579.2 1483.5L579.7 1483.5L580.1 1483.5L580.6 1483.5L581.1 1483.5L581.6 1483.5L582.1 1483.5L582.5 1483.5L583.0 1483.5L583.5 1483.5L584.0 1483.5L584.5 1483.5L584.9 1483.5L585.4 1483.5L585.9 1483.5L586.4 1483.5L586.9 1483.5L587.3 1483.5L587.8 1483.5L588.3 1483.5L588.8 1483.5L589.3 1483.5L589.8 1483.5L590.2 1483.5L590.7 1483.5L591.2 1483.5L591.7 1483.5L592.2 1483.5L592.6 1483.5L593.1 1483.5L593.6 1483.5L594.1 1483.5L594.6 1483.5L595.0 1483.5L595.5 1483.5L596.0 1483.5L596.5 1483.5L597.0 1483.5L597.4 1483.5L597.9 1483.5L598.4 1483.5L598.9 1483.5L599.4 1483.5L599.8 1483.5L600.3 1483.5L600.8 1483.5L601.3 1483.5L601.8 1483.5L602.3 1483.5L602.7 1483.5L603.2 1483.5L603.7 1483.5L604.2 1483.5L604.7 1483.5L605.1 1483.5L605.6 1483.5L606.1 1483.5L606.6 1483.5L607.1 1483.5L607.5 1483.5L608.0 1483.5L608.5 1483.5L609.0 1483.5L609.5 1483.5L609.9 1483.5L610.4 1483.5L610.9 1483.5L611.4 1483.5L611.9 1483.5L612.3 1483.5L612.8 1483.5L613.3 1483.5L613.8 1483.5L614.3 1483.5L614.8 1483.5L615.2 1483.5L615.7 1483.5L616.2 1483.5L616.7 1483.5L617.2 1483.5L617.6 1483.5L618.1 1483.5L618.6 1483.5L619.1 1483.5L619.6 1483.5L620.0 1483.5L620.5 1483.5L621.0 1483.5L621.5 1483.5L622.0 1483.5L622.4 1483.5L622.9 1483.5L623.4 1483.5L623.9 1483.5L624.4 1483.5L624.8 1483.5L625.3 1483.5L625.8 1483.5L626.3 1483.5L626.8 1483.5L627.3 1483.5L627.7 1483.5L628.2 1483.5L628.7 1483.5L629.2 1483.5L629.7 1483.5L630.1 1483.5L630.6 1483.5L631.1 1483.5L631.6 1483.5L632.1 1483.5L632.5 1483.5L633.0 1483.5L633.5 1483.5L634.0 1483.5L634.5 1483.5L634.9 1483.5L635.4 1483.5L635.9 1483.5L636.4 1483.5L636.9 1483.5L637.3 1483.5L637.8 1483.5L638.3 1483.5L638.8 1483.5L639.3 1483.5L639.8 1483.5L640.2 1483.5L640.7 1483.5L641.2 1483.5L641.7 1483.5L642.2 1483.5L642.6 1483.5L643.1 1483.5L643.6 1483.5L644.1 1483.5L644.6 1483.5L645.0 1483.5L645.5 1483.5L646.0 1483.5L646.5 1483.5L647.0 1483.5L647.4 1483.5L647.9 1483.5L648.4 1483.5L648.9 1483.5L649.4 1483.5L649.8 1483.5L650.3 1483.5L650.8 1483.5L651.3 1483.5L651.8 1483.5L652.3 1483.5L652.7 1483.5L653.2 1483.5L653.7 1483.5L654.2 1483.5L654.7 1483.5L655.1 1483.5L655.6 1483.5L656.1 1483.5L656.6 1483.5L657.1 1483.5L657.5 1483.5L658.0 1483.5L658.5 1483.5L659.0 1483.5L659.5 1483.5L659.9 1483.5L660.4 1483.5L660.9 1483.5L661.4 1483.5L661.9 1483.5L662.3 1483.5L662.8 1483.5L663.3 1483.5L663.8 1483.5L664.3 1483.5L664.8 1483.5L665.2 1483.5L665.7 1483.5L666.2 1483.5L666.7 1483.5L667.2 1483.5L667.6 1483.5L668.1 1483.5L668.6 1483.5L669.1 1483.5L669.6 1483.5L670.0 1483.5L670.5 1483.5L671.0 1483.5L671.5 1483.5L672.0 1483.5L672.4 1483.5L672.9 1483.5L673.4 1483.5L673.9 1483.5L674.4 1483.5L674.8 1483.5L675.3 1483.5L675.8 1483.5L676.3 1483.5L676.8 1483.5L677.2 1483.5L677.7 1483.5L678.2 1483.5L678.7 1483.5L679.2 1483.5L679.7 1483.5L680.1 1483.5L680.6 1483.5L681.1 1483.5L681.6 1483.5L682.1 1483.5L682.5 1483.5L683.0 1483.5L683.5 1483.5L684.0 1483.5L684.5 1483.5L684.9 1483.5L685.4 1483.5L685.9 1483.5L686.4 1483.5L686.9 1483.5L687.3 1483.5L687.8 1483.5L688.3 1483.5L688.8 1483.5L689.3 1483.5L689.7 1483.5L690.2 1483.5L690.7 1483.5L691.2 1483.5L691.7 1483.5L692.2 1483.5L692.6 1483.5L693.1 1483.5L693.6 1483.5L694.1 1483.5L694.6 1483.5L695.0 1483.5L695.5 1483.5L696.0 1483.5L696.5 1483.5L697.0 1483.5L697.4 1483.5L697.9 1483.5L698.4 1483.5L698.9 1483.5L699.4 1483.5L699.8 1483.5L700.3 1483.5L700.8 1483.5L701.3 1483.5L701.8 1483.5L702.2 1483.5L702.7 1483.5L703.2 1483.5L703.7 1483.5L704.2 1483.5L704.7 1483.5L705.1 1483.5L705.6 1483.5L706.1 1483.5L706.6 1483.5L707.1 1483.5L707.5 1483.5L708.0 1483.5L708.5 1483.5L709.0 1483.5L709.5 1483.5L709.9 1483.5L710.4 1483.5L710.9 1483.5L711.4 1483.5L711.9 1483.5L712.3 1483.5L712.8 1483.5L713.3 1483.5L713.8 1483.5L714.3 1483.5L714.7 1483.5L715.2 1483.5L715.7 1483.5L716.2 1483.5L716.7 1483.5L717.2 1483.5L717.6 1483.5L718.1 1483.5L718.6 1483.5L719.1 1483.5L719.6 1483.5L720.0 1483.5L720.5 1483.5L721.0 1483.5L721.5 1483.5L722.0 1483.5L722.4 1483.5L722.9 1483.5L723.4 1483.5L723.9 1483.5L724.4 1483.5L724.8 1483.5L725.3 1483.5L725.8 1483.5L726.3 1483.5L726.8 1483.5L727.2 1483.5L727.7 1483.5L728.2 1483.5L728.7 1483.5L729.2 1483.5L729.7 1483.5L730.1 1483.5L730.6 1483.5L731.1 1483.5L731.6 1483.5L732.1 1483.5L732.5 1483.5L733.0 1483.5L733.5 1483.5L734.0 1483.5L734.5 1483.5L734.9 1483.5L735.4 1483.5L735.9 1483.5L736.4 1483.5L736.9 1483.5L737.3 1483.5L737.8 1483.5L738.3 1483.5L738.8 1483.5L739.3 1483.5L739.7 1483.5L740.2 1483.5L740.7 1483.5L741.2 1483.5L741.7 1483.5L742.2 1483.5L742.6 1483.5L743.1 1483.5L743.6 1483.5L744.1 1483.5L744.6 1483.5L745.0 1483.5L745.5 1483.5L746.0 1483.5L746.5 1483.5L747.0 1483.5L747.4 1483.5L747.9 1483.5L748.4 1483.5L748.9 1483.5L749.4 1483.5L749.8 1483.5L750.3 1483.5L750.8 1483.5L751.3 1483.5L751.8 1483.5L752.2 1483.5L752.7 1483.5L753.2 1483.5L753.7 1483.5L754.2 1483.5L754.7 1483.5L755.1 1483.5L755.6 1483.5L756.1 1483.5L756.6 1483.5L757.1 1483.5L757.5 1483.5L758.0 1483.5L758.5 1483.5L759.0 1483.5L759.5 1483.5L759.9 1483.5L760.4 1483.5L760.9 1483.5L761.4 1483.5L761.9 1483.5L762.3 1483.5L762.8 1483.5L763.3 1483.5L763.8 1483.5L764.3 1483.5L764.7 1483.5L765.2 1483.5L765.7 1483.5L766.2 1483.5L766.7 1483.5L767.1 1483.5L767.6 1483.5L768.1 1483.5L768.6 1483.5L769.1 1483.5L769.6 1483.5L770.0 1483.5L770.5 1483.5L771.0 1483.5L771.5 1483.5L772.0 1483.5L772.4 1483.5L772.9 1483.5L773.4 1483.5L773.9 1483.5L774.4 1483.5L774.8 1483.5L775.3 1483.5L775.8 1483.5L776.3 1483.5L776.8 1483.5L777.2 1483.5L777.7 1483.5L778.2 1483.5L778.7 1483.5L779.2 1483.5L779.6 1483.5L780.1 1483.5L780.6 1483.5L781.1 1483.5L781.6 1483.5L782.1 1483.5L782.5 1483.5L783.0 1483.5L783.5 1483.5L784.0 1483.5L784.5 1483.5L784.9 1483.5L785.4 1483.5L785.9 1483.5L786.4 1483.5L786.9 1483.5L787.3 1483.5L787.8 1483.5L788.3 1483.5L788.8 1483.5L789.3 1483.5L789.7 1483.5L790.2 1483.5L790.7 1483.5L791.2 1483.5L791.7 1483.5L792.1 1483.5L792.6 1483.5L793.1 1483.5L793.6 1483.5L794.1 1483.5L794.6 1483.5L795.0 1483.5L795.5 1483.5L796.0 1483.5L796.5 1483.5L797.0 1483.5L797.4 1483.5L797.9 1483.5L798.4 1483.5L798.9 1483.5L799.4 1483.5L799.8 1483.5L800.3 1483.5L800.8 1483.5L801.3 1483.5L801.8 1483.5L802.2 1483.5L802.7 1483.5L803.2 1483.5L803.7 1483.5L804.2 1483.5L804.6 1483.5L805.1 1483.5L805.6 1483.5L806.1 1483.5L806.6 1483.5L807.1 1483.5L807.5 1483.5L808.0 1483.5L808.5 1483.5L809.0 1483.5L809.5 1483.5L809.9 1483.5L810.4 1483.5L810.9 1483.5L811.4 1483.5L811.9 1483.5L812.3 1483.5L812.8 1483.5L813.3 1483.5L813.8 1483.5L814.3 1483.5L814.7 1483.5L815.2 1483.5L815.7 1483.5L816.2 1483.5L816.7 1483.5L817.1 1483.5L817.6 1483.5L818.1 1483.5L818.6 1483.5L819.1 1483.5L819.6 1483.5L820.0 1483.5L820.5 1483.5L821.0 1483.5L821.5 1483.5L822.0 1483.5L822.4 1483.5L822.9 1483.5L823.4 1483.5L823.9 1483.5L824.4 1483.5L824.8 1483.5L825.3 1483.5L825.8 1483.5L826.3 1483.5L826.8 1483.5L827.2 1483.5L827.7 1483.5L828.2 1483.5L828.7 1483.5L829.2 1483.5L829.6 1483.5L830.1 1483.5L830.6 1483.5L831.1 1483.5L831.6 1483.5L832.1 1483.5L832.5 1483.5L833.0 1483.5L833.5 1483.5L834.0 1483.5L834.5 1483.5L834.9 1483.5L835.4 1483.5L835.9 1483.5L836.4 1483.5L836.9 1483.5L837.3 1483.5L837.8 1483.5L838.3 1483.5L838.8 1483.5L839.3 1483.5L839.7 1483.5L840.2 1483.5L840.7 1483.5L841.2 1483.5L841.7 1483.5L842.1 1483.5L842.6 1483.5L843.1 1483.5L843.6 1483.5L844.1 1483.5L844.6 1483.5L845.0 1483.5L845.5 1483.5L846.0 1483.5L846.5 1483.5L847.0 1483.5L847.4 1483.5L847.9 1483.5L848.4 1483.5L848.9 1483.5L849.4 1483.5L849.8 1483.5L850.3 1483.5L850.8 1483.5L851.3 1483.5L851.8 1483.5L852.2 1483.5L852.7 1483.5L853.2 1483.5L853.7 1483.5L854.2 1483.5L854.6 1483.5L855.1 1483.5L855.6 1483.5L856.1 1483.5L856.6 1483.5L857.0 1483.5L857.5 1483.5L858.0 1483.5L858.5 1483.5L859.0 1483.5L859.5 1483.5L859.9 1483.5L860.4 1483.5L860.9 1483.5L861.4 1483.5L861.9 1483.5L862.3 1483.5L862.8 1483.5L863.3 1483.5L863.8 1483.5L864.3 1483.5L864.7 1483.5L865.2 1483.5L865.7 1483.5L866.2 1483.5L866.7 1483.5L867.1 1483.5L867.6 1483.5L868.1 1483.5L868.6 1483.5L869.1 1483.5L869.5 1483.5L870.0 1483.5L870.5 1483.5L871.0 1483.5L871.5 1483.5L872.0 1483.5L872.4 1483.5L872.9 1483.5L873.4 1483.5L873.9 1483.5L874.4 1483.5L874.8 1483.5L875.3 1483.5L875.8 1483.5L876.3 1483.5L876.8 1483.5L877.2 1483.5L877.7 1483.5L878.2 1483.5L878.7 1483.5L879.2 1483.5L879.6 1483.5L880.1 1483.5L880.6 1483.5L881.1 1483.5L881.6 1483.5L882.0 1483.5L882.5 1483.5L883.0 1483.5L883.5 1483.5L884.0 1483.5L884.5 1483.5L884.9 1483.5L885.4 1483.5L885.9 1483.5L886.4 1483.5L886.9 1483.5L887.3 1483.5L887.8 1483.5L888.3 1483.5L888.8 1483.5L889.3 1483.5L889.7 1483.5L890.2 1483.5L890.7 1483.5L891.2 1483.5L891.7 1483.5L892.1 1483.5L892.6 1483.5L893.1 1483.5L893.6 1483.5L894.1 1483.5L894.5 1483.5L895.0 1483.5L895.5 1483.5L896.0 1483.5L896.5 1483.5L897.0 1483.5L897.4 1483.5L897.9 1483.5L898.4 1483.5L898.9 1483.5L899.4 1483.5L899.8 1483.5L900.3 1483.5L900.8 1483.5L901.3 1483.5L901.8 1483.5L902.2 1483.5L902.7 1483.5L903.2 1483.5L903.7 1483.5L904.2 1483.5L904.6 1483.5L905.1 1483.5L905.6 1483.5L906.1 1483.5L906.6 1483.5L907.0 1483.5L907.5 1483.5L908.0 1483.5L908.5 1483.5L909.0 1483.5L909.5 1483.5L909.9 1483.5L910.4 1483.5L910.9 1483.5L911.4 1483.5L911.9 1483.5L912.3 1483.5L912.8 1483.5L913.3 1483.5L913.8 1483.5L914.3 1483.5L914.7 1483.5L915.2 1483.5L915.7 1483.5L916.2 1483.5L916.7 1483.5L917.1 1483.5L917.6 1483.5L918.1 1483.5L918.6 1483.5L919.1 1483.5L919.5 1483.5L920.0 1483.5L920.5 1483.5L921.0 1483.5L921.5 1483.5L922.0 1483.5L922.4 1483.5L922.9 1483.5L923.4 1483.5L923.9 1483.5L924.4 1483.5L924.8 1483.5L925.3 1483.5L925.8 1483.5L926.3 1483.5L926.8 1483.5L927.2 1483.5L927.7 1483.5L928.2 1483.5L928.7 1483.5L929.2 1483.5L929.6 1483.5L930.1 1483.5L930.6 1483.5L931.1 1483.5L931.6 1483.5L932.0 1483.5L932.5 1483.5L933.0 1483.5L933.5 1483.5L934.0 1483.5L934.5 1483.5L934.9 1483.5L935.4 1483.5L935.9 1483.5L936.4 1483.5L936.9 1483.5L937.3 1483.5L937.8 1483.5L938.3 1483.5L938.8 1483.5L939.3 1483.5L939.7 1483.5L940.2 1483.5L940.7 1483.5L941.2 1483.5L941.7 1483.5L942.1 1483.5L942.6 1483.5L943.1 1483.5L943.6 1483.5L944.1 1483.5L944.5 1483.5L945.0 1483.5L945.5 1483.5L946.0 1483.5L946.5 1483.5L947.0 1483.5L947.4 1483.5L947.9 1483.5L948.4 1483.5L948.9 1483.5L949.4 1483.5L949.8 1483.5L950.3 1483.5L950.8 1483.5L951.3 1483.5L951.8 1483.5L952.2 1483.5L952.7 1483.5L953.2 1483.5L953.7 1483.5L954.2 1483.5L954.6 1483.5L955.1 1483.5L955.6 1483.5L956.1 1483.5L956.6 1483.5L957.0 1483.5L957.5 1483.5L958.0 1483.5L958.5 1483.5L959.0 1483.5L959.4 1483.5L959.9 1483.5L960.4 1483.5L960.9 1483.5L961.4 1483.5L961.9 1483.5L962.3 1483.5L962.8 1483.5L963.3 1483.5L963.8 1483.5L964.3 1483.5L964.7 1483.5L965.2 1483.5L965.7 1483.5L966.2 1483.5L966.7 1483.5L967.1 1483.5L967.6 1483.5L968.1 1483.5L968.6 1483.5L969.1 1483.5L969.5 1483.5L970.0 1483.5L970.5 1483.5L971.0 1483.5L971.5 1483.5L971.9 1483.5L972.4 1483.5L972.9 1483.5L973.4 1483.5L973.9 1483.5L974.4 1483.5L974.8 1483.5L975.3 1483.5L975.8 1483.5L976.3 1483.5L976.8 1483.5L977.2 1483.5L977.7 1483.5L978.2 1483.5L978.7 1483.5L979.2 1483.5L979.6 1483.5L980.1 1483.5L980.6 1483.5L981.1 1483.5L981.6 1483.5L982.0 1483.5L982.5 1483.5L983.0 1483.5L983.5 1483.5L984.0 1483.5L984.4 1483.5L984.9 1483.5L985.4 1483.5L985.9 1483.5L986.4 1483.5L986.9 1483.5L987.3 1483.5L987.8 1483.5L988.3 1483.5L988.8 1483.5L989.3 1483.5L989.7 1483.5L990.2 1483.5L990.7 1483.5L991.2 1483.5L991.7 1483.5L992.1 1483.5L992.6 1483.5L993.1 1483.5L993.6 1483.5L994.1 1483.5L994.5 1483.5L995.0 1483.5L995.5 1483.5L996.0 1483.5L996.5 1483.5L996.9 1483.5L997.4 1483.5L997.9 1483.5L998.4 1483.5L998.9 1483.5L999.4 1483.5L999.8 1483.5L1000.3 1483.5L1000.8 1483.5L1001.3 1483.5L1001.8 1483.5L1002.2 1483.5L1002.7 1483.5L1003.2 1483.5L1003.7 1483.5L1004.2 1483.5L1004.6 1483.5L1005.1 1483.5L1005.6 1483.5L1006.1 1483.5L1006.6 1483.5L1007.0 1483.5L1007.5 1483.5L1008.0 1483.5L1008.5 1483.5L1009.0 1483.5L1009.4 1483.5L1009.9 1483.5L1010.4 1483.5L1010.9 1483.5L1011.4 1483.5L1011.9 1483.5L1012.3 1483.5L1012.8 1483.5L1013.3 1483.5L1013.8 1483.5L1014.3 1483.5L1014.7 1483.5L1015.2 1483.5L1015.7 1483.5L1016.2 1483.5L1016.7 1483.5L1017.1 1483.5L1017.6 1483.5L1018.1 1483.5L1018.6 1483.5L1019.1 1483.5L1019.5 1483.5L1020.0 1483.5L1020.5 1483.5L1021.0 1483.5L1021.5 1483.5L1021.9 1483.5L1022.4 1483.5L1022.9 1483.5L1023.4 1483.5L1023.9 1483.5L1024.4 1483.5L1024.8 1483.5L1025.3 1483.5L1025.8 1483.5L1026.3 1483.5L1026.8 1483.5L1027.2 1483.5L1027.7 1483.5L1028.2 1483.5L1028.7 1483.5L1029.2 1483.5L1029.6 1483.5L1030.1 1483.5L1030.6 1483.5L1031.1 1483.5L1031.6 1483.5L1032.0 1483.5L1032.5 1483.5L1033.0 1483.5L1033.5 1483.5L1034.0 1483.5L1034.4 1483.5L1034.9 1483.5L1035.4 1483.5L1035.9 1483.5L1036.4 1483.5L1036.9 1483.5L1037.3 1483.5L1037.8 1483.5L1038.3 1483.5L1038.8 1483.5L1039.3 1483.5L1039.7 1483.5L1040.2 1483.5L1040.7 1483.5L1041.2 1483.5L1041.7 1483.5L1042.1 1483.5L1042.6 1483.5L1043.1 1483.5L1043.6 1483.5L1044.1 1483.5L1044.5 1483.5L1045.0 1483.5L1045.5 1483.5L1046.0 1483.5L1046.5 1483.5L1046.9 1483.5L1047.4 1483.5L1047.9 1483.5L1048.4 1483.5L1048.9 1483.5L1049.3 1483.5L1049.8 1483.5L1050.3 1483.5L1050.8 1483.5L1051.3 1483.5L1051.8 1483.5L1052.2 1483.5L1052.7 1483.5L1053.2 1483.5L1053.7 1483.5L1054.2 1483.5L1054.6 1483.5L1055.1 1483.5L1055.6 1483.5L1056.1 1483.5L1056.6 1483.5L1057.0 1483.5L1057.5 1483.5L1058.0 1483.5L1058.5 1483.5L1059.0 1483.5L1059.4 1483.5L1059.9 1483.5L1060.4 1483.5L1060.9 1483.5L1061.4 1483.5L1061.8 1483.5L1062.3 1483.5L1062.8 1483.5L1063.3 1483.5L1063.8 1483.5L1064.3 1483.5L1064.7 1483.5L1065.2 1483.5L1065.7 1483.5L1066.2 1483.5L1066.7 1483.5L1067.1 1483.5L1067.6 1483.5L1068.1 1483.5L1068.6 1483.5L1069.1 1483.5L1069.5 1483.5L1070.0 1483.5L1070.5 1483.5L1071.0 1483.5L1071.5 1483.5L1071.9 1483.5L1072.4 1483.5L1072.9 1483.5L1073.4 1483.5L1073.9 1483.5L1074.3 1483.5L1074.8 1483.5L1075.3 1483.5L1075.8 1483.5L1076.3 1483.5L1076.8 1483.5L1077.2 1483.5L1077.7 1483.5L1078.2 1483.5L1078.7 1483.5L1079.2 1483.5L1079.6 1483.5L1080.1 1483.5L1080.6 1483.5L1081.1 1483.5L1081.6 1483.5L1082.0 1483.5L1082.5 1483.5L1083.0 1483.5L1083.5 1483.5L1084.0 1483.5L1084.4 1483.5L1084.9 1483.5L1085.4 1483.5L1085.9 1483.5L1086.4 1483.5L1086.8 1483.5L1087.3 1483.5L1087.8 1483.5L1088.3 1483.5L1088.8 1483.5L1089.3 1483.5L1089.7 1483.5L1090.2 1483.5L1090.7 1483.5L1091.2 1483.5L1091.7 1483.5L1092.1 1483.5L1092.6 1483.5L1093.1 1483.5L1093.6 1483.5L1094.1 1483.5L1094.5 1483.5L1095.0 1483.5L1095.5 1483.5L1096.0 1483.5L1096.5 1483.5L1096.9 1483.5L1097.4 1483.5L1097.9 1483.5L1098.4 1483.5L1098.9 1483.5L1099.3 1483.5L1099.8 1483.5L1100.3 1483.5L1100.8 1483.5L1101.3 1483.5L1101.8 1483.5L1102.2 1483.5L1102.7 1483.5L1103.2 1483.5L1103.7 1483.5L1104.2 1483.5L1104.6 1483.5L1105.1 1483.5L1105.6 1483.5L1106.1 1483.5L1106.6 1483.5L1107.0 1483.5L1107.5 1483.5L1108.0 1483.5L1108.5 1483.5L1109.0 1483.5L1109.4 1483.5L1109.9 1483.5L1110.4 1483.5L1110.9 1483.5L1111.4 1483.5L1111.8 1483.5L1112.3 1483.5L1112.8 1483.5L1113.3 1483.5L1113.8 1483.5L1114.3 1483.5L1114.7 1483.5L1115.2 1483.5L1115.7 1483.5L1116.2 1483.5L1116.7 1483.5L1117.1 1483.5L1117.6 1483.5L1118.1 1483.5L1118.6 1231.2L1119.1 1483.5L1119.5 1483.5L1120.0 1483.5L1120.5 1483.5L1121.0 1483.5L1121.5 1483.5L1121.9 1483.5L1122.4 1483.5L1122.9 1483.5L1123.4 1483.5L1123.9 1483.5L1124.3 1483.5L1124.8 1483.5L1125.3 1483.5L1125.8 1483.5L1126.3 1483.5L1126.8 979.0L1127.2 1483.5L1127.7 1483.5L1128.2 1483.5L1128.7 1483.5L1129.2 1483.5L1129.6 1483.5L1130.1 1483.5L1130.6 1483.5L1131.1 1483.5L1131.6 1483.5L1132.0 1483.5L1132.5 1483.5L1133.0 1483.5L1133.5 1483.5L1134.0 1483.5L1134.4 1483.5L1134.9 1231.2L1135.4 1483.5L1135.9 1483.5L1136.4 1483.5L1136.8 1483.5L1137.3 1483.5L1137.8 1483.5L1138.3 1483.5L1138.8 1483.5L1139.3 1483.5L1139.7 1483.5L1140.2 1483.5L1140.7 1483.5L1141.2 1483.5L1141.7 1483.5L1142.1 1483.5L1142.6 1357.4L1143.1 1483.5L1143.6 1483.5L1144.1 1483.5L1144.5 1483.5L1145.0 1483.5L1145.5 1483.5L1146.0 1483.5L1146.5 1483.5L1146.9 1483.5L1147.4 1483.5L1147.9 1483.5L1148.4 1483.5L1148.9 1483.5L1149.3 1483.5L1149.8 1483.5L1150.3 1483.5L1150.8 1357.4L1151.3 1483.5L1151.7 1483.5L1152.2 1483.5L1152.7 1483.5L1153.2 1483.5L1153.7 1483.5L1154.2 1483.5L1154.6 1483.5L1155.1 1483.5L1155.6 1483.5L1156.1 1483.5L1156.6 1483.5L1157.0 1483.5L1157.5 1483.5L1158.0 1483.5L1158.5 1231.2L1159.0 1483.5L1159.4 1483.5L1159.9 1483.5L1160.4 1483.5L1160.9 1483.5L1161.4 1483.5L1161.8 1483.5L1162.3 1483.5L1162.8 1483.5L1163.3 1483.5L1163.8 1483.5L1164.2 1483.5L1164.7 1483.5L1165.2 1483.5L1165.7 1483.5L1166.2 979.0L1166.7 1483.5L1167.1 1483.5L1167.6 1483.5L1168.1 1483.5L1168.6 1483.5L1169.1 1483.5L1169.5 1483.5L1170.0 1483.5L1170.5 1483.5L1171.0 1483.5L1171.5 1483.5L1171.9 1483.5L1172.4 1483.5L1172.9 1483.5L1173.4 1483.5L1173.9 1231.2L1174.3 1483.5L1174.8 1483.5L1175.3 1483.5L1175.8 1483.5L1176.3 1483.5L1176.7 1483.5L1177.2 1483.5L1177.7 1483.5L1178.2 1483.5L1178.7 1483.5L1179.2 1483.5L1179.6 1483.5L1180.1 1483.5L1180.6 1483.5L1181.1 1483.5L1181.6 1483.5L1182.0 1483.5L1182.5 1483.5L1183.0 1483.5L1183.5 1483.5L1184.0 1483.5L1184.4 1483.5L1184.9 1483.5L1185.4 1483.5L1185.9 1483.5L1186.4 1483.5L1186.8 1483.5L1187.3 1483.5L1187.8 1483.5L1188.3 1483.5L1188.8 1483.5L1189.2 1483.5L1189.7 1483.5L1190.2 1483.5L1190.7 1483.5L1191.2 1483.5L1191.7 1483.5L1192.1 1483.5L1192.6 1483.5L1193.1 1483.5L1193.6 1483.5L1194.1 1483.5L1194.5 1483.5L1195.0 1483.5L1195.5 1483.5L1196.0 1483.5L1196.5 1483.5L1196.9 1483.5L1197.4 1483.5L1197.9 1483.5L1198.4 1483.5L1198.9 1483.5L1199.3 1483.5L1199.8 1483.5L1200.3 1483.5L1200.8 1483.5L1201.3 1483.5L1201.7 1483.5L1202.2 1483.5L1202.7 1483.5L1203.2 1483.5L1203.7 1483.5L1204.2 1483.5L1204.6 1483.5L1205.1 1483.5L1205.6 1483.5L1206.1 1483.5L1206.6 1483.5L1207.0 1483.5L1207.5 1483.5L1208.0 1483.5L1208.5 1483.5L1209.0 1483.5L1209.4 1483.5L1209.9 1483.5L1210.4 1483.5L1210.9 1483.5L1211.4 1483.5L1211.8 1483.5L1212.3 1483.5L1212.8 1483.5L1213.3 1483.5L1213.8 1483.5L1214.2 1483.5L1214.7 1483.5L1215.2 1483.5L1215.7 1483.5L1216.2 1483.5L1216.7 1483.5L1217.1 1483.5L1217.6 1483.5L1218.1 1483.5L1218.6 1483.5L1219.1 1483.5L1219.5 1483.5L1220.0 1483.5L1220.5 1483.5L1221.0 1483.5L1221.5 1483.5L1221.9 1483.5L1222.4 1483.5L1222.9 1483.5L1223.4 1483.5L1223.9 1483.5L1224.3 1483.5L1224.8 1483.5L1225.3 1483.5L1225.8 1483.5L1226.3 1483.5L1226.7 1483.5L1227.2 1483.5L1227.7 1483.5L1228.2 1483.5L1228.7 1483.5L1229.2 1483.5L1229.6 1483.5L1230.1 1483.5L1230.6 1483.5L1231.1 1483.5L1231.6 1483.5L1232.0 1483.5L1232.5 1483.5L1233.0 1483.5L1233.5 1483.5L1234.0 1483.5L1234.4 1483.5L1234.9 1483.5L1235.4 1483.5L1235.9 1483.5L1236.4 1483.5L1236.8 1483.5L1237.3 1483.5L1237.8 1483.5L1238.3 1483.5L1238.8 1483.5L1239.2 1483.5L1239.7 1483.5L1240.2 1483.5L1240.7 1483.5L1241.2 1483.5L1241.7 1483.5L1242.1 1483.5L1242.6 1483.5L1243.1 1483.5L1243.6 1483.5L1244.1 1483.5L1244.5 1483.5L1245.0 1483.5L1245.5 1483.5L1246.0 1483.5L1246.5 1483.5L1246.9 1483.5L1247.4 1483.5L1247.9 1483.5L1248.4 1483.5L1248.9 1483.5L1249.3 1483.5L1249.8 1483.5L1250.3 1483.5L1250.8 1483.5L1251.3 1483.5L1251.7 1483.5L1252.2 1483.5L1252.7 1483.5L1253.2 1483.5L1253.7 1483.5L1254.1 1483.5L1254.6 1483.5L1255.1 1483.5L1255.6 1483.5L1256.1 1483.5L1256.6 1483.5L1257.0 1483.5L1257.5 1483.5L1258.0 1483.5L1258.5 1483.5L1259.0 1483.5L1259.4 1483.5L1259.9 1483.5L1260.4 1483.5L1260.9 1483.5L1261.4 1483.5L1261.8 1483.5L1262.3 1483.5L1262.8 1483.5L1263.3 1483.5L1263.8 1483.5L1264.2 1483.5L1264.7 1483.5L1265.2 1483.5L1265.7 1483.5L1266.2 1483.5L1266.6 1483.5L1267.1 1483.5L1267.6 1483.5L1268.1 1483.5L1268.6 1483.5L1269.1 1483.5L1269.5 1483.5L1270.0 1483.5L1270.5 1483.5L1271.0 1483.5L1271.5 1483.5L1271.9 1483.5L1272.4 1483.5L1272.9 1483.5L1273.4 1483.5L1273.9 1483.5L1274.3 1483.5L1274.8 1483.5L1275.3 1483.5L1275.8 1483.5L1276.3 1483.5L1276.7 1483.5L1277.2 1483.5L1277.7 1483.5L1278.2 1483.5L1278.7 1483.5L1279.1 1483.5L1279.6 1483.5L1280.1 1483.5L1280.6 1483.5L1281.1 1483.5L1281.6 1483.5L1282.0 1483.5L1282.5 1483.5L1283.0 1483.5L1283.5 1483.5L1284.0 1483.5L1284.4 1483.5L1284.9 1483.5L1285.4 1483.5L1285.9 1483.5L1286.4 1483.5L1286.8 1483.5L1287.3 1483.5L1287.8 1483.5L1288.3 1483.5L1288.8 1483.5L1289.2 1483.5L1289.7 1483.5L1290.2 1483.5L1290.7 1483.5L1291.2 1483.5L1291.6 1483.5L1292.1 1483.5L1292.6 1483.5L1293.1 1483.5L1293.6 1483.5L1294.1 1483.5L1294.5 1483.5L1295.0 1483.5L1295.5 1483.5L1296.0 1483.5L1296.5 1483.5L1296.9 1483.5L1297.4 1483.5L1297.9 1483.5L1298.4 1483.5L1298.9 1483.5L1299.3 1483.5L1299.8 1483.5L1300.3 1483.5L1300.8 1483.5L1301.3 1483.5L1301.7 1483.5L1302.2 1483.5L1302.7 1483.5L1303.2 1483.5L1303.7 1483.5L1304.1 1483.5L1304.6 1483.5L1305.1 1483.5L1305.6 1483.5L1306.1 1483.5L1306.6 1483.5L1307.0 1483.5L1307.5 1483.5L1308.0 1483.5L1308.5 1483.5L1309.0 1483.5L1309.4 1483.5L1309.9 1483.5L1310.4 1483.5L1310.9 1483.5L1311.4 1483.5L1311.8 1483.5L1312.3 1483.5L1312.8 1483.5L1313.3 1483.5L1313.8 1483.5L1314.2 1483.5L1314.7 1483.5L1315.2 1483.5L1315.7 1483.5L1316.2 1483.5L1316.6 1483.5L1317.1 1483.5L1317.6 1483.5L1318.1 1483.5L1318.6 1483.5L1319.1 1483.5L1319.5 1483.5L1320.0 1483.5L1320.5 1483.5L1321.0 1483.5L1321.5 1483.5L1321.9 1483.5L1322.4 1483.5L1322.9 1483.5L1323.4 1483.5L1323.9 1483.5L1324.3 1483.5L1324.8 1483.5L1325.3 1483.5L1325.8 1483.5L1326.3 1483.5L1326.7 1483.5L1327.2 1483.5L1327.7 1483.5L1328.2 1483.5L1328.7 1483.5L1329.1 1483.5L1329.6 1483.5L1330.1 1483.5L1330.6 1483.5L1331.1 1483.5L1331.6 1483.5L1332.0 1483.5L1332.5 1483.5L1333.0 1483.5L1333.5 1483.5L1334.0 1483.5L1334.4 1483.5L1334.9 1483.5L1335.4 1483.5L1335.9 1483.5L1336.4 1483.5L1336.8 1483.5L1337.3 1483.5L1337.8 1483.5L1338.3 1483.5L1338.8 1483.5L1339.2 1483.5L1339.7 1483.5L1340.2 1483.5L1340.7 1483.5L1341.2 1483.5L1341.6 1483.5L1342.1 1483.5L1342.6 1483.5L1343.1 1483.5L1343.6 1483.5L1344.0 1483.5L1344.5 1483.5L1345.0 1483.5L1345.5 1483.5L1346.0 1483.5L1346.5 1483.5L1346.9 1483.5L1347.4 1483.5L1347.9 1483.5L1348.4 1483.5L1348.9 1483.5L1349.3 1483.5L1349.8 1483.5L1350.3 1483.5L1350.8 1483.5L1351.3 1483.5L1351.7 1483.5L1352.2 1483.5L1352.7 1483.5L1353.2 1483.5L1353.7 1483.5L1354.1 1483.5L1354.6 1483.5L1355.1 1483.5L1355.6 1483.5L1356.1 1483.5L1356.5 1483.5L1357.0 1483.5L1357.5 1483.5L1358.0 1483.5L1358.5 1483.5L1359.0 1483.5L1359.4 1483.5L1359.9 1483.5L1360.4 1483.5L1360.9 1483.5L1361.4 1483.5L1361.8 1483.5L1362.3 1483.5L1362.8 1483.5L1363.3 1483.5L1363.8 1483.5L1364.2 1483.5L1364.7 1483.5L1365.2 1483.5L1365.7 1483.5L1366.2 1483.5L1366.6 1483.5L1367.1 1483.5L1367.6 1483.5L1368.1 1483.5L1368.6 1483.5L1369.0 1483.5L1369.5 1483.5L1370.0 1483.5L1370.5 1483.5L1371.0 1483.5L1371.5 1483.5L1371.9 1483.5L1372.4 1483.5L1372.9 1483.5L1373.4 1483.5L1373.9 1483.5L1374.3 1483.5L1374.8 1483.5L1375.3 1483.5L1375.8 1483.5L1376.3 1483.5L1376.7 1483.5L1377.2 1483.5L1377.7 1483.5L1378.2 1483.5L1378.7 1483.5L1379.1 1483.5L1379.6 1483.5L1380.1 1483.5L1380.6 1483.5L1381.1 1483.5L1381.5 1483.5L1382.0 1483.5L1382.5 1483.5L1383.0 1483.5L1383.5 1483.5L1384.0 1483.5L1384.4 1483.5L1384.9 1483.5L1385.4 1483.5L1385.9 1483.5L1386.4 1483.5L1386.8 1483.5L1387.3 1483.5L1387.8 1483.5L1388.3 1483.5L1388.8 1483.5L1389.2 1483.5L1389.7 1483.5L1390.2 1483.5L1390.7 1483.5L1391.2 1483.5L1391.6 1483.5L1392.1 1483.5L1392.6 1483.5L1393.1 1483.5L1393.6 1483.5L1394.0 1483.5L1394.5 1483.5L1395.0 1483.5L1395.5 1483.5L1396.0 1483.5L1396.5 1483.5L1396.9 1483.5L1397.4 1483.5L1397.9 1483.5L1398.4 1483.5L1398.9 1483.5L1399.3 1483.5L1399.8 1483.5L1400.3 1483.5L1400.8 1483.5L1401.3 1483.5L1401.7 1483.5L1402.2 1483.5L1402.7 1483.5L1403.2 1483.5L1403.7 1483.5L1404.1 1483.5L1404.6 1483.5L1405.1 1483.5L1405.6 1483.5L1406.1 1483.5L1406.5 1483.5L1407.0 1483.5L1407.5 1483.5L1408.0 1483.5L1408.5 1483.5L1409.0 1483.5L1409.4 1483.5L1409.9 1483.5L1410.4 1483.5L1410.9 1483.5L1411.4 1483.5L1411.8 1483.5L1412.3 1483.5L1412.8 1483.5L1413.3 1483.5L1413.8 1483.5L1414.2 1483.5L1414.7 1483.5L1415.2 1483.5L1415.7 1483.5L1416.2 1483.5L1416.6 1483.5L1417.1 1483.5L1417.6 1483.5L1418.1 1483.5L1418.6 1483.5L1419.0 1483.5L1419.5 1483.5L1420.0 1483.5L1420.5 1483.5L1421.0 1483.5L1421.5 1483.5L1421.9 1483.5L1422.4 1483.5L1422.9 1483.5L1423.4 1483.5L1423.9 1483.5L1424.3 1483.5L1424.8 1483.5L1425.3 1483.5L1425.8 1483.5L1426.3 1483.5L1426.7 1483.5L1427.2 1483.5L1427.7 1483.5L1428.2 1483.5L1428.7 1483.5L1429.1 1483.5L1429.6 1483.5L1430.1 1483.5L1430.6 1483.5L1431.1 1483.5L1431.5 1483.5L1432.0 1483.5L1432.5 1483.5L1433.0 1483.5L1433.5 1483.5L1434.0 1483.5L1434.4 1483.5L1434.9 1483.5L1435.4 1483.5L1435.9 1483.5L1436.4 1483.5L1436.8 1483.5L1437.3 1483.5L1437.8 1483.5L1438.3 1483.5L1438.8 1483.5L1439.2 1483.5L1439.7 1483.5L1440.2 1483.5L1440.7 1483.5L1441.2 1483.5L1441.6 1483.5L1442.1 1483.5L1442.6 1483.5L1443.1 1483.5L1443.6 1483.5L1444.0 1483.5L1444.5 1483.5L1445.0 1483.5L1445.5 1483.5L1446.0 1483.5L1446.4 1483.5L1446.9 1483.5L1447.4 1483.5L1447.9 1483.5L1448.4 1483.5L1448.9 1483.5L1449.3 1483.5L1449.8 1483.5L1450.3 1483.5L1450.8 1483.5L1451.3 1483.5L1451.7 1483.5L1452.2 1483.5L1452.7 1483.5L1453.2 1483.5L1453.7 1483.5L1454.1 1483.5L1454.6 1483.5L1455.1 1483.5L1455.6 1483.5L1456.1 1483.5L1456.5 1483.5L1457.0 1483.5L1457.5 1483.5L1458.0 1483.5L1458.5 1483.5L1458.9 1483.5L1459.4 1483.5L1459.9 1483.5L1460.4 1483.5L1460.9 1483.5L1461.4 1483.5L1461.8 1483.5L1462.3 1483.5L1462.8 1483.5L1463.3 1483.5L1463.8 1483.5L1464.2 1483.5L1464.7 1483.5L1465.2 1483.5L1465.7 1483.5L1466.2 1483.5L1466.6 1483.5L1467.1 1483.5L1467.6 1483.5L1468.1 1483.5L1468.6 1483.5L1469.0 1483.5L1469.5 1483.5L1470.0 1483.5L1470.5 1483.5L1471.0 1483.5L1471.4 1483.5L1471.9 1483.5L1472.4 1483.5L1472.9 1483.5L1473.4 1483.5L1473.9 1483.5L1474.3 1483.5L1474.8 1483.5L1475.3 1483.5L1475.8 1483.5L1476.3 1483.5L1476.7 1483.5L1477.2 1483.5L1477.7 1483.5L1478.2 1483.5L1478.7 1483.5L1479.1 1483.5L1479.6 1483.5L1480.1 1483.5L1480.6 1483.5L1481.1 1483.5L1481.5 1483.5L1482.0 1483.5L1482.5 1483.5L1483.0 1483.5L1483.5 1483.5L1483.9 1483.5L1484.4 1483.5L1484.9 1483.5L1485.4 1483.5L1485.9 1483.5L1486.4 1483.5L1486.8 1483.5L1487.3 1483.5L1487.8 1483.5L1488.3 1483.5L1488.8 1483.5L1489.2 1483.5L1489.7 1483.5L1490.2 1483.5L1490.7 1483.5L1491.2 1483.5L1491.6 1483.5L1492.1 1483.5L1492.6 1483.5L1493.1 1483.5L1493.6 1483.5L1494.0 1483.5L1494.5 1483.5L1495.0 1483.5L1495.5 1483.5L1496.0 1483.5L1496.4 1483.5L1496.9 1483.5L1497.4 1483.5L1497.9 1483.5L1498.4 1483.5L1498.9 1483.5L1499.3 1483.5L1499.8 1483.5L1500.3 1483.5L1500.8 1483.5L1501.3 1483.5L1501.7 1483.5L1502.2 1483.5L1502.7 1483.5L1503.2 1483.5L1503.7 1483.5L1504.1 1483.5L1504.6 1483.5L1505.1 1483.5L1505.6 1483.5L1506.1 1483.5L1506.5 1483.5L1507.0 1483.5L1507.5 1483.5L1508.0 1483.5L1508.5 1483.5L1508.9 1483.5L1509.4 1483.5L1509.9 1483.5L1510.4 1483.5L1510.9 1483.5L1511.4 1483.5L1511.8 1483.5L1512.3 1483.5L1512.8 1483.5L1513.3 1483.5L1513.8 1483.5L1514.2 1483.5L1514.7 1483.5L1515.2 1483.5L1515.7 1483.5L1516.2 1483.5L1516.6 1483.5L1517.1 1483.5L1517.6 1483.5L1518.1 1483.5L1518.6 1483.5L1519.0 1483.5L1519.5 1483.5L1520.0 1483.5L1520.5 1483.5L1521.0 1483.5L1521.4 1483.5L1521.9 1483.5L1522.4 1483.5L1522.9 1483.5L1523.4 1483.5L1523.9 1483.5L1524.3 1483.5L1524.8 1483.5L1525.3 1483.5L1525.8 1483.5L1526.3 1483.5L1526.7 1483.5L1527.2 1483.5L1527.7 1483.5L1528.2 1483.5L1528.7 1483.5L1529.1 1483.5L1529.6 1483.5L1530.1 1483.5L1530.6 1483.5L1531.1 1483.5L1531.5 1483.5L1532.0 1483.5L1532.5 1483.5L1533.0 1483.5L1533.5 1483.5L1533.9 1483.5L1534.4 1483.5L1534.9 1483.5L1535.4 1483.5L1535.9 1483.5L1536.3 1483.5L1536.8 1483.5L1537.3 1483.5L1537.8 1483.5L1538.3 1483.5L1538.8 1483.5L1539.2 1483.5L1539.7 1483.5L1540.2 1483.5L1540.7 1483.5L1541.2 1483.5L1541.6 1483.5L1542.1 1483.5L1542.6 1483.5L1543.1 1483.5L1543.6 1483.5L1544.0 1483.5L1544.5 1483.5L1545.0 1483.5L1545.5 1483.5L1546.0 1483.5L1546.4 1483.5L1546.9 1483.5L1547.4 1483.5L1547.9 1483.5L1548.4 1483.5L1548.8 1483.5L1549.3 1483.5L1549.8 1483.5L1550.3 1483.5L1550.8 1483.5L1551.3 1483.5L1551.7 1483.5L1552.2 1483.5L1552.7 1483.5L1553.2 1483.5L1553.7 1483.5L1554.1 1483.5L1554.6 1483.5L1555.1 1483.5L1555.6 1483.5L1556.1 1483.5L1556.5 1483.5L1557.0 1483.5L1557.5 1483.5L1558.0 1483.5L1558.5 1483.5L1558.9 1483.5L1559.4 1483.5L1559.9 1483.5L1560.4 1483.5L1560.9 1483.5L1561.3 1483.5L1561.8 1483.5L1562.3 1483.5L1562.8 1483.5L1563.3 1483.5L1563.8 1483.5L1564.2 1483.5L1564.7 1483.5L1565.2 1483.5L1565.7 1483.5L1566.2 1483.5L1566.6 1483.5L1567.1 1483.5L1567.6 1483.5L1568.1 1483.5L1568.6 1483.5L1569.0 1483.5L1569.5 1483.5L1570.0 1483.5L1570.5 1483.5L1571.0 1483.5L1571.4 1483.5L1571.9 1483.5L1572.4 1483.5L1572.9 1483.5L1573.4 1483.5L1573.8 1483.5L1574.3 1483.5L1574.8 1483.5L1575.3 1483.5L1575.8 1483.5L1576.3 1483.5L1576.7 1483.5L1577.2 1483.5L1577.7 1483.5L1578.2 1483.5L1578.7 1483.5L1579.1 1483.5L1579.6 1483.5L1580.1 1483.5L1580.6 1483.5L1581.1 1483.5L1581.5 1483.5L1582.0 1483.5L1582.5 1483.5L1583.0 1483.5L1583.5 1483.5L1583.9 1483.5L1584.4 1483.5L1584.9 1483.5L1585.4 1483.5L1585.9 1483.5L1586.3 1483.5L1586.8 1483.5L1587.3 1483.5L1587.8 1483.5L1588.3 1483.5L1588.8 1483.5L1589.2 1483.5L1589.7 1483.5L1590.2 1483.5L1590.7 1483.5L1591.2 1483.5L1591.6 1483.5L1592.1 1483.5L1592.6 1483.5L1593.1 1483.5L1593.6 1483.5L1594.0 1483.5L1594.5 1483.5L1595.0 1483.5L1595.5 1483.5L1596.0 1483.5L1596.4 1483.5L1596.9 1483.5L1597.4 1483.5L1597.9 1483.5L1598.4 1483.5L1598.8 1483.5L1599.3 1483.5L1599.8 1483.5L1600.3 1483.5L1600.8 1483.5L1601.3 1483.5L1601.7 1483.5L1602.2 1483.5L1602.7 1483.5L1603.2 1483.5L1603.7 1483.5L1604.1 1483.5L1604.6 1483.5L1605.1 1483.5L1605.6 1483.5L1606.1 1483.5L1606.5 1483.5L1607.0 1483.5L1607.5 1483.5L1608.0 1483.5L1608.5 1483.5L1608.9 1483.5L1609.4 1483.5L1609.9 1483.5L1610.4 1483.5L1610.9 1483.5L1611.3 1483.5L1611.8 1483.5L1612.3 1483.5L1612.8 1483.5L1613.3 1483.5L1613.8 1483.5L1614.2 1483.5L1614.7 1483.5L1615.2 1483.5L1615.7 1483.5L1616.2 1483.5L1616.6 1483.5L1617.1 1483.5L1617.6 1483.5L1618.1 1483.5L1618.6 1483.5L1619.0 1483.5L1619.5 1483.5L1620.0 1483.5L1620.5 1483.5L1621.0 1483.5L1621.4 1483.5L1621.9 1483.5L1622.4 1483.5L1622.9 1483.5L1623.4 1483.5L1623.8 1483.5L1624.3 1483.5L1624.8 1483.5L1625.3 1483.5L1625.8 1483.5L1626.2 1483.5L1626.7 1483.5L1627.2 1483.5L1627.7 1483.5L1628.2 1483.5L1628.7 1483.5L1629.1 1483.5L1629.6 1483.5L1630.1 1483.5L1630.6 1483.5L1631.1 1483.5L1631.5 1483.5L1632.0 1483.5L1632.5 1483.5L1633.0 1483.5L1633.5 1483.5L1633.9 1483.5L1634.4 1483.5L1634.9 1483.5L1635.4 1483.5L1635.9 1483.5L1636.3 1483.5L1636.8 1483.5L1637.3 1483.5L1637.8 1483.5L1638.3 1483.5L1638.7 1483.5L1639.2 1483.5L1639.7 1483.5L1640.2 1483.5L1640.7 1483.5L1641.2 1483.5L1641.6 1483.5L1642.1 1483.5L1642.6 1483.5L1643.1 1483.5L1643.6 1483.5L1644.0 1483.5L1644.5 1483.5L1645.0 1483.5L1645.5 1483.5L1646.0 1483.5L1646.4 1483.5L1646.9 1483.5L1647.4 1483.5L1647.9 1483.5L1648.4 1483.5L1648.8 1483.5L1649.3 1483.5L1649.8 1483.5L1650.3 1483.5L1650.8 1483.5L1651.2 1483.5L1651.7 1483.5L1652.2 1483.5L1652.7 1483.5L1653.2 1483.5L1653.7 1483.5L1654.1 1483.5L1654.6 1483.5L1655.1 1483.5L1655.6 1483.5L1656.1 1483.5L1656.5 1483.5L1657.0 1483.5L1657.5 1483.5L1658.0 1483.5L1658.5 1483.5L1658.9 1483.5L1659.4 1483.5L1659.9 1483.5L1660.4 1483.5L1660.9 1483.5L1661.3 1483.5L1661.8 1483.5L1662.3 1483.5L1662.8 1483.5L1663.3 1483.5L1663.7 1483.5L1664.2 1483.5L1664.7 1483.5L1665.2 1483.5L1665.7 1483.5L1666.2 1483.5L1666.6 1483.5L1667.1 1483.5L1667.6 1483.5L1668.1 1483.5L1668.6 1483.5L1669.0 1483.5L1669.5 1483.5L1670.0 1483.5L1670.5 1483.5L1671.0 1483.5L1671.4 1483.5L1671.9 1483.5L1672.4 1483.5L1672.9 1483.5L1673.4 1483.5L1673.8 1483.5L1674.3 1483.5L1674.8 1483.5L1675.3 1483.5L1675.8 1483.5L1676.2 1483.5L1676.7 1483.5L1677.2 1483.5L1677.7 1483.5L1678.2 1483.5L1678.7 1483.5L1679.1 1483.5L1679.6 1483.5L1680.1 1483.5L1680.6 1483.5L1681.1 1483.5L1681.5 1483.5L1682.0 1483.5L1682.5 1483.5L1683.0 1483.5L1683.5 1483.5L1683.9 1483.5L1684.4 1483.5L1684.9 1483.5L1685.4 1483.5L1685.9 1483.5L1686.3 1483.5L1686.8 1483.5L1687.3 1483.5L1687.8 1483.5L1688.3 1483.5L1688.7 1483.5L1689.2 1483.5L1689.7 1483.5L1690.2 1483.5L1690.7 1483.5L1691.2 1483.5L1691.6 1483.5L1692.1 1483.5L1692.6 1483.5L1693.1 1483.5L1693.6 1483.5L1694.0 1483.5L1694.5 1483.5L1695.0 1483.5L1695.5 1483.5L1696.0 1483.5L1696.4 1483.5L1696.9 1483.5L1697.4 1483.5L1697.9 1483.5L1698.4 1483.5L1698.8 1483.5L1699.3 1483.5L1699.8 1483.5L1700.3 1483.5L1700.8 1483.5L1701.2 1483.5L1701.7 1483.5L1702.2 1483.5L1702.7 1483.5L1703.2 1483.5L1703.7 1483.5L1704.1 1483.5L1704.6 1483.5L1705.1 1483.5L1705.6 1483.5L1706.1 1483.5L1706.5 1483.5L1707.0 1483.5L1707.5 1483.5L1708.0 1483.5L1708.5 1483.5L1708.9 1483.5L1709.4 1483.5L1709.9 1483.5L1710.4 1483.5L1710.9 1483.5L1711.3 1483.5L1711.8 1483.5L1712.3 1483.5L1712.8 1483.5L1713.3 1483.5L1713.7 1483.5L1714.2 1483.5L1714.7 1483.5L1715.2 1483.5L1715.7 1483.5L1716.2 1483.5L1716.6 1483.5L1717.1 1483.5L1717.6 1483.5L1718.1 1483.5L1718.6 1483.5L1719.0 1483.5L1719.5 1483.5L1720.0 1483.5L1720.5 1483.5L1721.0 1483.5L1721.4 1483.5L1721.9 1483.5L1722.4 1483.5L1722.9 1483.5L1723.4 1483.5L1723.8 1483.5L1724.3 1483.5L1724.8 1483.5L1725.3 1483.5L1725.8 1483.5L1726.2 1483.5L1726.7 1483.5L1727.2 1483.5L1727.7 1483.5L1728.2 1483.5L1728.6 1483.5L1729.1 1483.5L1729.6 1483.5L1730.1 1483.5L1730.6 1483.5L1731.1 1483.5L1731.5 1483.5L1732.0 1483.5L1732.5 1483.5L1733.0 1483.5L1733.5 1483.5L1733.9 1483.5L1734.4 1483.5L1734.9 1483.5L1735.4 1483.5L1735.9 1483.5L1736.3 1483.5L1736.8 1483.5L1737.3 1483.5L1737.8 1483.5L1738.3 1483.5L1738.7 1483.5L1739.2 1483.5L1739.7 1483.5L1740.2 1483.5L1740.7 1483.5L1741.1 1483.5L1741.6 1483.5L1742.1 1483.5L1742.6 1483.5L1743.1 1483.5L1743.6 1483.5L1744.0 1483.5L1744.5 1483.5L1745.0 1483.5L1745.5 1483.5L1746.0 1483.5L1746.4 1483.5L1746.9 1483.5L1747.4 1483.5L1747.9 1483.5L1748.4 1483.5L1748.8 1483.5L1749.3 1483.5L1749.8 1483.5L1750.3 1483.5L1750.8 1483.5L1751.2 1483.5L1751.7 1483.5L1752.2 1483.5L1752.7 1483.5L1753.2 1483.5L1753.6 1483.5L1754.1 1483.5L1754.6 1483.5L1755.1 1483.5L1755.6 1483.5L1756.1 1483.5L1756.5 1483.5L1757.0 1483.5L1757.5 1483.5L1758.0 1483.5L1758.5 1483.5L1758.9 1483.5L1759.4 1483.5L1759.9 1483.5L1760.4 1483.5L1760.9 1483.5L1761.3 1483.5L1761.8 1483.5L1762.3 1483.5L1762.8 1483.5L1763.3 1483.5L1763.7 1483.5L1764.2 1483.5L1764.7 1483.5L1765.2 1483.5L1765.7 1483.5L1766.1 1483.5L1766.6 1483.5L1767.1 1483.5L1767.6 1483.5L1768.1 1483.5L1768.6 1483.5L1769.0 1483.5L1769.5 1483.5L1770.0 1483.5L1770.5 1483.5L1771.0 1483.5L1771.4 1483.5L1771.9 1483.5L1772.4 1483.5L1772.9 1483.5L1773.4 1483.5L1773.8 1483.5L1774.3 1483.5L1774.8 1483.5L1775.3 1483.5L1775.8 1483.5L1776.2 1483.5L1776.7 1483.5L1777.2 1483.5L1777.7 1483.5L1778.2 1483.5L1778.6 1483.5L1779.1 1483.5L1779.6 1483.5L1780.1 1483.5L1780.6 1483.5L1781.1 1483.5L1781.5 1483.5L1782.0 1483.5L1782.5 1483.5L1783.0 1483.5L1783.5 1483.5L1783.9 1483.5L1784.4 1483.5L1784.9 1483.5L1785.4 1483.5L1785.9 1483.5L1786.3 1483.5L1786.8 1483.5L1787.3 1483.5L1787.8 1483.5L1788.3 1483.5L1788.7 1483.5L1789.2 1483.5L1789.7 1483.5L1790.2 1483.5L1790.7 1483.5L1791.1 1483.5L1791.6 1483.5L1792.1 1483.5L1792.6 1483.5L1793.1 1483.5L1793.6 1483.5L1794.0 1483.5L1794.5 1483.5L1795.0 1483.5L1795.5 1483.5L1796.0 1483.5L1796.4 1483.5L1796.9 1483.5L1797.4 1483.5L1797.9 1483.5L1798.4 1483.5L1798.8 1483.5L1799.3 1483.5L1799.8 1483.5L1800.3 1483.5L1800.8 1483.5L1801.2 1483.5L1801.7 1483.5L1802.2 1483.5L1802.7 1483.5L1803.2 1483.5L1803.6 1483.5L1804.1 1483.5L1804.6 1483.5L1805.1 1483.5L1805.6 1483.5L1806.1 1483.5L1806.5 1483.5L1807.0 1483.5L1807.5 1483.5L1808.0 1483.5L1808.5 1483.5L1808.9 1483.5L1809.4 1483.5L1809.9 1483.5L1810.4 1483.5L1810.9 1483.5L1811.3 1483.5L1811.8 1483.5L1812.3 1483.5L1812.8 1483.5L1813.3 1483.5L1813.7 1483.5L1814.2 1483.5L1814.7 1483.5L1815.2 1483.5L1815.7 1483.5L1816.1 1483.5L1816.6 1483.5L1817.1 1483.5L1817.6 1483.5L1818.1 1483.5L1818.5 1483.5L1819.0 1483.5L1819.5 1483.5L1820.0 1483.5L1820.5 1483.5L1821.0 1483.5L1821.4 1483.5L1821.9 1483.5L1822.4 1483.5L1822.9 1483.5L1823.4 1483.5L1823.8 1483.5L1824.3 1483.5L1824.8 1483.5L1825.3 1483.5L1825.8 1483.5L1826.2 1483.5L1826.7 1483.5L1827.2 1483.5L1827.7 1483.5L1828.2 1483.5L1828.6 1483.5L1829.1 1483.5L1829.6 1483.5L1830.1 1483.5L1830.6 1483.5L1831.0 1483.5L1831.5 1483.5L1832.0 1483.5L1832.5 1483.5L1833.0 1483.5L1833.5 1483.5L1833.9 1483.5L1834.4 1483.5L1834.9 1483.5L1835.4 1483.5L1835.9 1483.5L1836.3 1483.5L1836.8 1483.5L1837.3 1483.5L1837.8 1483.5L1838.3 1483.5L1838.7 1483.5L1839.2 1483.5L1839.7 1483.5L1840.2 1483.5L1840.7 1483.5L1841.1 1483.5L1841.6 1483.5L1842.1 1483.5L1842.6 1483.5L1843.1 1483.5L1843.5 1483.5L1844.0 1483.5L1844.5 1483.5L1845.0 1483.5L1845.5 1483.5L1846.0 1483.5L1846.4 1483.5L1846.9 1483.5L1847.4 1483.5L1847.9 1483.5L1848.4 1483.5L1848.8 1483.5L1849.3 1483.5L1849.8 1483.5L1850.3 1483.5L1850.8 1483.5L1851.2 1483.5L1851.7 1483.5L1852.2 1483.5L1852.7 1483.5L1853.2 1483.5L1853.6 1483.5L1854.1 1483.5L1854.6 1483.5L1855.1 1483.5L1855.6 1483.5L1856.0 1483.5L1856.5 1483.5L1857.0 1483.5L1857.5 1483.5L1858.0 1483.5L1858.5 1483.5L1858.9 1483.5L1859.4 1483.5L1859.9 1483.5L1860.4 1483.5L1860.9 1483.5L1861.3 1483.5L1861.8 1483.5L1862.3 1483.5L1862.8 1483.5L1863.3 1483.5L1863.7 1483.5L1864.2 1483.5L1864.7 1483.5L1865.2 1483.5L1865.7 1483.5L1866.1 1483.5L1866.6 1483.5L1867.1 1483.5L1867.6 1483.5L1868.1 1483.5L1868.5 1483.5L1869.0 1483.5L1869.5 1483.5L1870.0 1483.5L1870.5 1483.5L1871.0 1483.5L1871.4 1483.5L1871.9 1483.5L1872.4 1483.5L1872.9 1483.5L1873.4 1483.5L1873.8 1483.5L1874.3 1483.5L1874.8 1483.5L1875.3 1483.5L1875.8 1483.5L1876.2 1483.5L1876.7 1483.5L1877.2 1483.5L1877.7 1483.5L1878.2 1483.5L1878.6 1483.5L1879.1 1483.5L1879.6 1483.5L1880.1 1483.5L1880.6 1483.5L1881.0 1483.5L1881.5 1483.5L1882.0 1483.5L1882.5 1483.5L1883.0 1483.5L1883.5 1483.5L1883.9 1483.5L1884.4 1483.5L1884.9 1483.5L1885.4 1483.5L1885.9 1483.5L1886.3 1483.5L1886.8 1483.5L1887.3 1483.5L1887.8 1483.5L1888.3 1483.5L1888.7 1483.5L1889.2 1483.5L1889.7 1483.5L1890.2 1483.5L1890.7 1483.5L1891.1 1483.5L1891.6 1483.5L1892.1 1483.5L1892.6 1483.5L1893.1 1483.5L1893.5 1483.5L1894.0 1483.5L1894.5 1483.5L1895.0 1483.5L1895.5 1483.5L1896.0 1483.5L1896.4 1483.5L1896.9 1483.5L1897.4 1483.5L1897.9 1483.5L1898.4 1483.5L1898.8 1483.5L1899.3 1483.5L1899.8 1483.5L1900.3 1483.5L1900.8 1483.5L1901.2 1483.5L1901.7 1483.5L1902.2 1483.5L1902.7 1483.5L1903.2 1483.5L1903.6 1483.5L1904.1 1483.5L1904.6 1483.5L1905.1 1483.5L1905.6 1483.5L1906.0 1483.5L1906.5 1483.5L1907.0 1483.5L1907.5 1483.5L1908.0 1483.5L1908.5 1483.5L1908.9 1483.5L1909.4 1483.5L1909.9 1483.5L1910.4 1483.5L1910.9 1483.5L1911.3 1483.5L1911.8 1483.5L1912.3 1483.5L1912.8 1483.5L1913.3 1483.5L1913.7 1483.5L1914.2 1483.5L1914.7 1483.5L1915.2 1483.5L1915.7 1483.5L1916.1 1483.5L1916.6 1483.5L1917.1 1483.5L1917.6 1483.5L1918.1 1483.5L1918.5 1483.5L1919.0 1483.5L1919.5 1483.5L1920.0 1483.5L1920.5 1483.5L1920.9 1483.5L1921.4 1483.5L1921.9 1483.5L1922.4 1483.5L1922.9 1483.5L1923.4 1483.5L1923.8 1483.5L1924.3 1483.5L1924.8 1483.5L1925.3 1483.5L1925.8 1483.5L1926.2 1483.5L1926.7 1483.5L1927.2 1483.5L1927.7 1483.5L1928.2 1483.5L1928.6 1483.5L1929.1 1483.5L1929.6 1483.5L1930.1 1483.5L1930.6 1483.5L1931.0 1483.5L1931.5 1483.5L1932.0 1483.5L1932.5 1483.5L1933.0 1483.5L1933.4 1483.5L1933.9 1483.5L1934.4 1483.5L1934.9 1483.5L1935.4 1483.5L1935.9 1483.5L1936.3 1483.5L1936.8 1483.5L1937.3 1483.5L1937.8 1483.5L1938.3 1483.5L1938.7 1483.5L1939.2 1483.5L1939.7 1483.5L1940.2 1483.5L1940.7 1483.5L1941.1 1483.5L1941.6 1483.5L1942.1 1483.5L1942.6 1483.5L1943.1 1483.5L1943.5 1483.5L1944.0 1483.5L1944.5 1483.5L1945.0 1483.5L1945.5 1483.5L1945.9 1483.5L1946.4 1483.5L1946.9 1483.5L1947.4 1483.5L1947.9 1483.5L1948.4 1483.5L1948.8 1483.5L1949.3 1483.5L1949.8 1483.5L1950.3 1483.5L1950.8 1483.5L1951.2 1483.5L1951.7 1483.5L1952.2 1483.5L1952.7 1483.5L1953.2 1483.5L1953.6 1483.5L1954.1 1483.5L1954.6 1483.5L1955.1 1483.5L1955.6 1483.5L1956.0 1483.5L1956.5 1483.5L1957.0 1483.5L1957.5 1483.5L1958.0 1483.5L1958.4 1483.5L1958.9 1483.5L1959.4 1483.5L1959.9 1483.5L1960.4 1483.5L1960.9 1483.5L1961.3 1483.5L1961.8 1483.5L1962.3 1483.5L1962.8 1483.5L1963.3 1483.5L1963.7 1483.5L1964.2 1483.5L1964.7 1483.5L1965.2 1483.5L1965.7 1483.5L1966.1 1483.5L1966.6 1483.5L1967.1 1483.5L1967.6 1483.5L1968.1 1483.5L1968.5 1483.5L1969.0 1483.5L1969.5 1483.5L1970.0 1483.5L1970.5 1483.5L1970.9 1483.5L1971.4 1483.5L1971.9 1483.5L1972.4 1483.5L1972.9 1483.5L1973.4 1483.5L1973.8 1483.5L1974.3 1483.5L1974.8 1483.5L1975.3 1483.5L1975.8 1483.5L1976.2 1483.5L1976.7 1483.5L1977.2 1483.5L1977.7 1483.5L1978.2 1483.5L1978.6 1483.5L1979.1 1483.5L1979.6 1483.5L1980.1 1483.5L1980.6 1483.5L1981.0 1483.5L1981.5 1483.5L1982.0 1483.5L1982.5 1483.5L1983.0 1483.5L1983.4 1483.5L1983.9 1483.5L1984.4 1483.5L1984.9 1483.5L1985.4 1483.5L1985.9 1483.5L1986.3 1483.5L1986.8 1483.5L1987.3 1483.5L1987.8 1483.5L1988.3 1483.5L1988.7 1483.5L1989.2 1483.5L1989.7 1483.5L1990.2 1483.5L1990.7 1483.5L1991.1 1483.5L1991.6 1483.5L1992.1 1483.5L1992.6 1483.5L1993.1 1483.5L1993.5 1483.5L1994.0 1483.5L1994.5 1483.5L1995.0 1483.5L1995.5 1483.5L1995.9 1483.5L1996.4 1483.5L1996.9 1483.5L1997.4 1483.5L1997.9 1483.5L1998.4 1483.5L1998.8 1483.5L1999.3 1483.5L1999.8 1483.5L2000.3 1483.5L2000.8 1483.5L2001.2 1483.5L2001.7 1483.5L2002.2 1483.5L2002.7 1483.5L2003.2 1483.5L2003.6 1483.5L2004.1 1483.5L2004.6 1483.5L2005.1 1483.5L2005.6 1483.5L2006.0 1483.5L2006.5 1483.5L2007.0 1483.5L2007.5 1483.5L2008.0 1483.5L2008.4 1483.5L2008.9 1483.5L2009.4 1483.5L2009.9 1483.5L2010.4 1483.5L2010.8 1483.5L2011.3 1483.5L2011.8 1483.5L2012.3 1483.5L2012.8 1483.5L2013.3 1483.5L2013.7 1483.5L2014.2 1483.5L2014.7 1483.5L2015.2 1483.5L2015.7 1483.5L2016.1 1483.5L2016.6 1483.5L2017.1 1483.5L2017.6 1483.5L2018.1 1483.5L2018.5 1483.5L2019.0 1483.5L2019.5 1483.5L2020.0 1483.5L2020.5 1483.5L2020.9 1483.5L2021.4 1483.5L2021.9 1483.5L2022.4 1483.5L2022.9 1483.5L2023.3 1483.5L2023.8 1483.5L2024.3 1483.5L2024.8 1483.5L2025.3 1483.5L2025.8 1483.5L2026.2 1483.5L2026.7 1483.5L2027.2 1483.5L2027.7 1483.5L2028.2 1483.5L2028.6 1483.5L2029.1 1483.5L2029.6 1483.5L2030.1 1483.5L2030.6 1483.5L2031.0 1483.5L2031.5 1483.5L2032.0 1483.5L2032.5 1483.5L2033.0 1483.5L2033.4 1483.5L2033.9 1483.5L2034.4 1483.5L2034.9 1483.5L2035.4 1483.5L2035.8 1483.5L2036.3 1483.5L2036.8 1483.5L2037.3 1483.5L2037.8 1483.5L2038.3 1483.5L2038.7 1483.5L2039.2 1483.5L2039.7 1483.5L2040.2 1483.5L2040.7 1483.5L2041.1 1483.5L2041.6 1483.5L2042.1 1483.5L2042.6 1483.5L2043.1 1483.5L2043.5 1483.5L2044.0 1483.5L2044.5 1483.5L2045.0 1483.5L2045.5 1483.5L2045.9 1483.5L2046.4 1483.5L2046.9 1483.5L2047.4 1483.5L2047.9 1483.5L2048.3 1483.5L2048.8 1483.5L2049.3 1483.5L2049.8 1483.5L2050.3 1483.5L2050.8 1483.5L2051.2 1483.5L2051.7 1483.5L2052.2 1483.5L2052.7 1483.5L2053.2 1483.5L2053.6 1483.5L2054.1 1483.5L2054.6 1483.5L2055.1 1483.5L2055.6 1483.5L2056.0 1483.5L2056.5 1483.5L2057.0 1483.5L2057.5 1483.5L2058.0 1483.5L2058.4 1483.5L2058.9 1483.5L2059.4 1483.5L2059.9 1483.5L2060.4 1483.5L2060.8 1483.5L2061.3 1483.5L2061.8 1483.5L2062.3 1483.5L2062.8 1483.5L2063.3 1483.5L2063.7 1483.5L2064.2 1483.5L2064.7 1483.5L2065.2 1483.5L2065.7 1483.5L2066.1 1483.5L2066.6 1483.5L2067.1 1483.5L2067.6 1483.5L2068.1 1483.5L2068.5 1483.5L2069.0 1483.5L2069.5 1483.5L2070.0 1483.5L2070.5 1483.5L2070.9 1483.5L2071.4 1483.5L2071.9 1483.5L2072.4 1483.5L2072.9 1483.5L2073.3 1483.5L2073.8 1483.5L2074.3 1483.5L2074.8 1483.5L2075.3 1483.5L2075.8 1483.5L2076.2 1483.5L2076.7 1483.5L2077.2 1483.5L2077.7 1483.5L2078.2 1483.5L2078.6 1483.5L2079.1 1483.5L2079.6 1483.5L2080.1 1483.5L2080.6 1483.5L2081.0 1483.5L2081.5 1483.5L2082.0 1483.5L2082.5 1483.5L2083.0 1483.5L2083.4 1483.5L2083.9 1483.5L2084.4 1483.5L2084.9 1483.5L2085.4 1483.5L2085.8 1483.5L2086.3 1483.5L2086.8 1483.5L2087.3 1483.5L2087.8 1483.5L2088.3 1483.5L2088.7 1483.5L2089.2 1483.5L2089.7 1483.5L2090.2 1483.5L2090.7 1483.5L2091.1 1483.5L2091.6 1483.5L2092.1 1483.5L2092.6 1483.5L2093.1 1483.5L2093.5 1483.5L2094.0 1483.5L2094.5 1483.5L2095.0 1483.5L2095.5 1483.5L2095.9 1483.5L2096.4 1483.5L2096.9 1483.5L2097.4 1483.5L2097.9 1483.5L2098.3 1483.5L2098.8 1483.5L2099.3 1483.5L2099.8 1483.5L2100.3 1483.5L2100.8 1483.5L2101.2 1483.5L2101.7 1483.5L2102.2 1483.5L2102.7 1483.5L2103.2 1483.5L2103.6 1483.5L2104.1 1483.5L2104.6 1483.5L2105.1 1483.5L2105.6 1483.5L2106.0 1483.5L2106.5 1483.5L2107.0 1483.5" stroke="#1f6ab5" stroke-width="7" fill="none" stroke-linejoin="round"/>
<rect x="1110.0" y="1222.7" width="17.2" height="17.2" fill="none" stroke="#1f6ab5" stroke-width="7.0"/>
<rect x="1118.2" y="970.4" width="17.2" height="17.2" fill="none" stroke="#1f6ab5" stroke-width="7.0"/>
<rect x="1126.3" y="1222.7" width="17.2" height="17.2" fill="none" stroke="#1f6ab5" stroke-width="7.0"/>
<rect x="1134.0" y="1348.8" width="17.2" height="17.2" fill="none" stroke="#1f6ab5" stroke-width="7.0"/>
<rect x="1142.2" y="1348.8" width="17.2" height="17.2" fill="none" stroke="#1f6ab5" stroke-width="7.0"/>
<rect x="1149.9" y="1222.7" width="17.2" height="17.2" fill="none" stroke="#1f6ab5" stroke-width="7.0"/>
<rect x="1157.6" y="970.4" width="17.2" height="17.2" fill="none" stroke="#1f6ab5" stroke-width="7.0"/>
<rect x="1165.3" y="1222.7" width="17.2" height="17.2" fill="none" stroke="#1f6ab5" stroke-width="7.0"/>
<path d="M184.0 1483.5L184.5 1483.5L185.0 1483.5L185.4 1483.5L185.9 1483.5L186.4 1483.5L186.9 1483.5L187.4 1483.5L187.8 1483.5L188.3 1483.5L188.8 1483.5L189.3 1483.5L189.8 1483.5L190.2 1483.5L190.7 1483.5L191.2 1483.5L191.7 1483.5L192.2 1483.5L192.7 1483.5L193.1 1483.5L193.6 1483.5L194.1 1483.5L194.6 1483.5L195.1 1483.5L195.5 1483.5L196.0 1483.5L196.5 1483.5L197.0 1483.5L197.5 1483.5L197.9 1483.5L198.4 1483.5L198.9 1483.5L199.4 1483.5L199.9 1483.5L200.3 1483.5L200.8 1483.5L201.3 1483.5L201.8 1483.5L202.3 1483.5L202.7 1483.5L203.2 1483.5L203.7 1483.5L204.2 1483.5L204.7 1483.5L205.2 1483.5L205.6 1483.5L206.1 1483.5L206.6 1483.5L207.1 1483.5L207.6 1483.5L208.0 1483.5L208.5 1483.5L209.0 1483.5L209.5 1483.5L210.0 1483.5L210.4 1483.5L210.9 1483.5L211.4 1483.5L211.9 1483.5L212.4 1483.5L212.8 1483.5L213.3 1483.5L213.8 1483.5L214.3 1483.5L214.8 1483.5L215.2 1483.5L215.7 1483.5L216.2 1483.5L216.7 1483.5L217.2 1483.5L217.7 1483.5L218.1 1483.5L218.6 1483.5L219.1 1483.5L219.6 1483.5L220.1 1483.5L220.5 1483.5L221.0 1483.5L221.5 1483.5L222.0 1483.5L222.5 1483.5L222.9 1483.5L223.4 1483.5L223.9 1483.5L224.4 1483.5L224.9 1483.5L225.3 1483.5L225.8 1483.5L226.3 1483.5L226.8 1483.5L227.3 1483.5L227.7 1483.5L228.2 1483.5L228.7 1483.5L229.2 1483.5L229.7 1483.5L230.2 1483.5L230.6 1483.5L231.1 1483.5L231.6 1483.5L232.1 1483.5L232.6 1483.5L233.0 1483.5L233.5 1483.5L234.0 1483.5L234.5 1483.5L235.0 1483.5L235.4 1483.5L235.9 1483.5L236.4 1483.5L236.9 1483.5L237.4 1483.5L237.8 1483.5L238.3 1483.5L238.8 1483.5L239.3 1483.5L239.8 1483.5L240.2 1483.5L240.7 1483.5L241.2 1483.5L241.7 1483.5L242.2 1483.5L242.7 1483.5L243.1 1483.5L243.6 1483.5L244.1 1483.5L244.6 1483.5L245.1 1483.5L245.5 1483.5L246.0 1483.5L246.5 1483.5L247.0 1483.5L247.5 1483.5L247.9 1483.5L248.4 1483.5L248.9 1483.5L249.4 1483.5L249.9 1483.5L250.3 1483.5L250.8 1483.5L251.3 1483.5L251.8 1483.5L252.3 1483.5L252.7 1483.5L253.2 1483.5L253.7 1483.5L254.2 1483.5L254.7 1483.5L255.2 1483.5L255.6 1483.5L256.1 1483.5L256.6 1483.5L257.1 1483.5L257.6 1483.5L258.0 1483.5L258.5 1483.5L259.0 1483.5L259.5 1483.5L260.0 1483.5L260.4 1483.5L260.9 1483.5L261.4 1483.5L261.9 1483.5L262.4 1483.5L262.8 1483.5L263.3 1483.5L263.8 1483.5L264.3 1483.5L264.8 1483.5L265.2 1483.5L265.7 1483.5L266.2 1483.5L266.7 1483.5L267.2 1483.5L267.7 1483.5L268.1 1483.5L268.6 1483.5L269.1 1483.5L269.6 1483.5L270.1 1483.5L270.5 1483.5L271.0 1483.5L271.5 1483.5L272.0 1483.5L272.5 1483.5L272.9 1483.5L273.4 1483.5L273.9 1483.5L274.4 1483.5L274.9 1483.5L275.3 1483.5L275.8 1483.5L276.3 1483.5L276.8 1483.5L277.3 1483.5L277.7 1483.5L278.2 1483.5L278.7 1483.5L279.2 1483.5L279.7 1483.5L280.1 1483.5L280.6 1483.5L281.1 1483.5L281.6 1483.5L282.1 1483.5L282.6 1483.5L283.0 1483.5L283.5 1483.5L284.0 1483.5L284.5 1483.5L285.0 1483.5L285.4 1483.5L285.9 1483.5L286.4 1483.5L286.9 1483.5L287.4 1483.5L287.8 1483.5L288.3 1483.5L288.8 1483.5L289.3 1483.5L289.8 1483.5L290.2 1483.5L290.7 1483.5L291.2 1483.5L291.7 1483.5L292.2 1483.5L292.6 1483.5L293.1 1483.5L293.6 1483.5L294.1 1483.5L294.6 1483.5L295.1 1483.5L295.5 1483.5L296.0 1483.5L296.5 1483.5L297.0 1483.5L297.5 1483.5L297.9 1483.5L298.4 1483.5L298.9 1483.5L299.4 1483.5L299.9 1483.5L300.3 1483.5L300.8 1483.5L301.3 1483.5L301.8 1483.5L302.3 1483.5L302.7 1483.5L303.2 1483.5L303.7 1483.5L304.2 1483.5L304.7 1483.5L305.1 1483.5L305.6 1483.5L306.1 1483.5L306.6 1483.5L307.1 1483.5L307.6 1483.5L308.0 1483.5L308.5 1483.5L309.0 1483.5L309.5 1483.5L310.0 1483.5L310.4 1483.5L310.9 1483.5L311.4 1483.5L311.9 1483.5L312.4 1483.5L312.8 1483.5L313.3 1483.5L313.8 1483.5L314.3 1483.5L314.8 1483.5L315.2 1483.5L315.7 1483.5L316.2 1483.5L316.7 1483.5L317.2 1483.5L317.6 1483.5L318.1 1483.5L318.6 1483.5L319.1 1483.5L319.6 1483.5L320.1 1483.5L320.5 1483.5L321.0 1483.5L321.5 1483.5L322.0 1483.5L322.5 1483.5L322.9 1483.5L323.4 1483.5L323.9 1483.5L324.4 1483.5L324.9 1483.5L325.3 1483.5L325.8 1483.5L326.3 1483.5L326.8 1483.5L327.3 1483.5L327.7 1483.5L328.2 1483.5L328.7 1483.5L329.2 1483.5L329.7 1483.5L330.1 1483.5L330.6 1483.5L331.1 1483.5L331.6 1483.5L332.1 1483.5L332.6 1483.5L333.0 1483.5L333.5 1483.5L334.0 1483.5L334.5 1483.5L335.0 1483.5L335.4 1483.5L335.9 1483.5L336.4 1483.5L336.9 1483.5L337.4 1483.5L337.8 1483.5L338.3 1483.5L338.8 1483.5L339.3 1483.5L339.8 1483.5L340.2 1483.5L340.7 1483.5L341.2 1483.5L341.7 1483.5L342.2 1483.5L342.6 1483.5L343.1 1483.5L343.6 1483.5L344.1 1483.5L344.6 1483.5L345.1 1483.5L345.5 1483.5L346.0 1483.5L346.5 1483.5L347.0 1483.5L347.5 1483.5L347.9 1483.5L348.4 1483.5L348.9 1483.5L349.4 1483.5L349.9 1483.5L350.3 1483.5L350.8 1483.5L351.3 1483.5L351.8 1483.5L352.3 1483.5L352.7 1483.5L353.2 1483.5L353.7 1483.5L354.2 1483.5L354.7 1483.5L355.1 1483.5L355.6 1483.5L356.1 1483.5L356.6 1483.5L357.1 1483.5L357.6 1483.5L358.0 1483.5L358.5 1483.5L359.0 1483.5L359.5 1483.5L360.0 1483.5L360.4 1483.5L360.9 1483.5L361.4 1483.5L361.9 1483.5L362.4 1483.5L362.8 1483.5L363.3 1483.5L363.8 1483.5L364.3 1483.5L364.8 1483.5L365.2 1483.5L365.7 1483.5L366.2 1483.5L366.7 1483.5L367.2 1483.5L367.6 1483.5L368.1 1483.5L368.6 1483.5L369.1 1483.5L369.6 1483.5L370.1 1483.5L370.5 1483.5L371.0 1483.5L371.5 1483.5L372.0 1483.5L372.5 1483.5L372.9 1483.5L373.4 1483.5L373.9 1483.5L374.4 1483.5L374.9 1483.5L375.3 1483.5L375.8 1483.5L376.3 1483.5L376.8 1483.5L377.3 1483.5L377.7 1483.5L378.2 1483.5L378.7 1483.5L379.2 1483.5L379.7 1483.5L380.1 1483.5L380.6 1483.5L381.1 1483.5L381.6 1483.5L382.1 1483.5L382.5 1483.5L383.0 1483.5L383.5 1483.5L384.0 1483.5L384.5 1483.5L385.0 1483.5L385.4 1483.5L385.9 1483.5L386.4 1483.5L386.9 1483.5L387.4 1483.5L387.8 1483.5L388.3 1483.5L388.8 1483.5L389.3 1483.5L389.8 1483.5L390.2 1483.5L390.7 1483.5L391.2 1483.5L391.7 1483.5L392.2 1483.5L392.6 1483.5L393.1 1483.5L393.6 1483.5L394.1 1483.5L394.6 1483.5L395.0 1483.5L395.5 1483.5L396.0 1483.5L396.5 1483.5L397.0 1483.5L397.5 1483.5L397.9 1483.5L398.4 1483.5L398.9 1483.5L399.4 1483.5L399.9 1483.5L400.3 1483.5L400.8 1483.5L401.3 1483.5L401.8 1483.5L402.3 1483.5L402.7 1483.5L403.2 1483.5L403.7 1483.5L404.2 1483.5L404.7 1483.5L405.1 1483.5L405.6 1483.5L406.1 1483.5L406.6 1483.5L407.1 1483.5L407.5 1483.5L408.0 1483.5L408.5 1483.5L409.0 1483.5L409.5 1483.5L410.0 1483.5L410.4 1483.5L410.9 1483.5L411.4 1483.5L411.9 1483.5L412.4 1483.5L412.8 1483.5L413.3 1483.5L413.8 1483.5L414.3 1483.5L414.8 1483.5L415.2 1483.5L415.7 1483.5L416.2 1483.5L416.7 1483.5L417.2 1483.5L417.6 1483.5L418.1 1483.5L418.6 1483.5L419.1 1483.5L419.6 1483.5L420.0 1483.5L420.5 1483.5L421.0 1483.5L421.5 1483.5L422.0 1483.5L422.5 1483.5L422.9 1483.5L423.4 1483.5L423.9 1483.5L424.4 1483.5L424.9 1483.5L425.3 1483.5L425.8 1483.5L426.3 1483.5L426.8 1483.5L427.3 1483.5L427.7 1483.5L428.2 1483.5L428.7 1483.5L429.2 1483.5L429.7 1483.5L430.1 1483.5L430.6 1483.5L431.1 1483.5L431.6 1483.5L432.1 1483.5L432.5 1483.5L433.0 1483.5L433.5 1483.5L434.0 1483.5L434.5 1483.5L435.0 1483.5L435.4 1483.5L435.9 1483.5L436.4 1483.5L436.9 1483.5L437.4 1483.5L437.8 1483.5L438.3 1483.5L438.8 1483.5L439.3 1483.5L439.8 1483.5L440.2 1483.5L440.7 1483.5L441.2 1483.5L441.7 1483.5L442.2 1483.5L442.6 1483.5L443.1 1483.5L443.6 1483.5L444.1 1483.5L444.6 1483.5L445.0 1483.5L445.5 1483.5L446.0 1483.5L446.5 1483.5L447.0 1483.5L447.5 1483.5L447.9 1483.5L448.4 1483.5L448.9 1483.5L449.4 1483.5L449.9 1483.5L450.3 1483.5L450.8 1483.5L451.3 1483.5L451.8 1483.5L452.3 1483.5L452.7 1483.5L453.2 1483.5L453.7 1483.5L454.2 1483.5L454.7 1483.5L455.1 1483.5L455.6 1483.5L456.1 1483.5L456.6 1483.5L457.1 1483.5L457.5 1483.5L458.0 1483.5L458.5 1483.5L459.0 1483.5L459.5 1483.5L460.0 1483.5L460.4 1483.5L460.9 1483.5L461.4 1483.5L461.9 1483.5L462.4 1483.5L462.8 1483.5L463.3 1483.5L463.8 1483.5L464.3 1483.5L464.8 1483.5L465.2 1483.5L465.7 1483.5L466.2 1483.5L466.7 1483.5L467.2 1483.5L467.6 1483.5L468.1 1483.5L468.6 1483.5L469.1 1483.5L469.6 1483.5L470.0 1483.5L470.5 1483.5L471.0 1483.5L471.5 1483.5L472.0 1483.5L472.4 1483.5L472.9 1483.5L473.4 1483.5L473.9 1483.5L474.4 1483.5L474.9 1483.5L475.3 1483.5L475.8 1483.5L476.3 1483.5L476.8 1483.5L477.3 1483.5L477.7 1483.5L478.2 1483.5L478.7 1483.5L479.2 1483.5L479.7 1483.5L480.1 1483.5L480.6 1483.5L481.1 1483.5L481.6 1483.5L482.1 1483.5L482.5 1483.5L483.0 1483.5L483.5 1483.5L484.0 1483.5L484.5 1483.5L484.9 1483.5L485.4 1483.5L485.9 1483.5L486.4 1483.5L486.9 1483.5L487.4 1483.5L487.8 1483.5L488.3 1483.5L488.8 1483.5L489.3 1483.5L489.8 1483.5L490.2 1483.5L490.7 1483.5L491.2 1483.5L491.7 1483.5L492.2 1483.5L492.6 1483.5L493.1 1483.5L493.6 1483.5L494.1 1483.5L494.6 1483.5L495.0 1483.5L495.5 1483.5L496.0 1483.5L496.5 1483.5L497.0 1483.5L497.4 1483.5L497.9 1483.5L498.4 1483.5L498.9 1483.5L499.4 1483.5L499.9 1483.5L500.3 1483.5L500.8 1483.5L501.3 1483.5L501.8 1483.5L502.3 1483.5L502.7 1483.5L503.2 1483.5L503.7 1483.5L504.2 1483.5L504.7 1483.5L505.1 1483.5L505.6 1483.5L506.1 1483.5L506.6 1483.5L507.1 1483.5L507.5 1483.5L508.0 1483.5L508.5 1483.5L509.0 1483.5L509.5 1483.5L509.9 1483.5L510.4 1483.5L510.9 1483.5L511.4 1483.5L511.9 1483.5L512.4 1483.5L512.8 1483.5L513.3 1483.5L513.8 1483.5L514.3 1483.5L514.8 1483.5L515.2 1483.5L515.7 1483.5L516.2 1483.5L516.7 1483.5L517.2 1483.5L517.6 1483.5L518.1 1483.5L518.6 1483.5L519.1 1483.5L519.6 1483.5L520.0 1483.5L520.5 1483.5L521.0 1483.5L521.5 1483.5L522.0 1483.5L522.4 1483.5L522.9 1483.5L523.4 1483.5L523.9 1483.5L524.4 1483.5L524.9 1483.5L525.3 1483.5L525.8 1483.5L526.3 1483.5L526.8 1483.5L527.3 1483.5L527.7 1483.5L528.2 1483.5L528.7 1483.5L529.2 1483.5L529.7 1483.5L530.1 1483.5L530.6 1483.5L531.1 1483.5L531.6 1483.5L532.1 1483.5L532.5 1483.5L533.0 1483.5L533.5 1483.5L534.0 1483.5L534.5 1483.5L534.9 1483.5L535.4 1483.5L535.9 1483.5L536.4 1483.5L536.9 1483.5L537.4 1483.5L537.8 1483.5L538.3 1483.5L538.8 1483.5L539.3 1483.5L539.8 1483.5L540.2 1483.5L540.7 1483.5L541.2 1483.5L541.7 1483.5L542.2 1483.5L542.6 1483.5L543.1 1483.5L543.6 1483.5L544.1 1483.5L544.6 1483.5L545.0 1483.5L545.5 1483.5L546.0 1483.5L546.5 1483.5L547.0 1483.5L547.4 1483.5L547.9 1483.5L548.4 1483.5L548.9 1483.5L549.4 1483.5L549.9 1483.5L550.3 1483.5L550.8 1483.5L551.3 1483.5L551.8 1483.5L552.3 1483.5L552.7 1483.5L553.2 1483.5L553.7 1483.5L554.2 1483.5L554.7 1483.5L555.1 1483.5L555.6 1483.5L556.1 1483.5L556.6 1483.5L557.1 1483.5L557.5 1483.5L558.0 1483.5L558.5 1483.5L559.0 1483.5L559.5 1483.5L559.9 1483.5L560.4 1483.5L560.9 1483.5L561.4 1483.5L561.9 1483.5L562.4 1483.5L562.8 1483.5L563.3 1483.5L563.8 1483.5L564.3 1483.5L564.8 1483.5L565.2 1483.5L565.7 1483.5L566.2 1483.5L566.7 1483.5L567.2 1483.5L567.6 1483.5L568.1 1483.5L568.6 1483.5L569.1 1483.5L569.6 1483.5L570.0 1483.5L570.5 1483.5L571.0 1483.5L571.5 1483.5L572.0 1483.5L572.4 1483.5L572.9 1483.5L573.4 1483.5L573.9 1483.5L574.4 1483.5L574.8 1483.5L575.3 1483.5L575.8 1483.5L576.3 1483.5L576.8 1483.5L577.3 1483.5L577.7 1483.5L578.2 1483.5L578.7 1483.5L579.2 1483.5L579.7 1483.5L580.1 1483.5L580.6 1483.5L581.1 1483.5L581.6 1483.5L582.1 1483.5L582.5 1483.5L583.0 1483.5L583.5 1483.5L584.0 1483.5L584.5 1483.5L584.9 1483.5L585.4 1483.5L585.9 1483.5L586.4 1483.5L586.9 1483.5L587.3 1483.5L587.8 1483.5L588.3 1483.5L588.8 1483.5L589.3 1483.5L589.8 1483.5L590.2 1483.5L590.7 1483.5L591.2 1483.5L591.7 1483.5L592.2 1483.5L592.6 1483.5L593.1 1483.5L593.6 1483.5L594.1 1483.5L594.6 1483.5L595.0 1483.5L595.5 1483.5L596.0 1483.5L596.5 1483.5L597.0 1483.5L597.4 1483.5L597.9 1483.5L598.4 1483.5L598.9 1483.5L599.4 1483.5L599.8 1483.5L600.3 1483.5L600.8 1483.5L601.3 1483.5L601.8 1483.5L602.3 1483.5L602.7 1483.5L603.2 1483.5L603.7 1483.5L604.2 1483.5L604.7 1483.5L605.1 1483.5L605.6 1483.5L606.1 1483.5L606.6 1483.5L607.1 1483.5L607.5 1483.5L608.0 1483.5L608.5 1483.5L609.0 1483.5L609.5 1483.5L609.9 1483.5L610.4 1483.5L610.9 1483.5L611.4 1483.5L611.9 1483.5L612.3 1483.5L612.8 1483.5L613.3 1483.5L613.8 1483.5L614.3 1483.5L614.8 1483.5L615.2 1483.5L615.7 1483.5L616.2 1483.5L616.7 1483.5L617.2 1483.5L617.6 1483.5L618.1 1483.5L618.6 1483.5L619.1 1483.5L619.6 1483.5L620.0 1483.5L620.5 1483.5L621.0 1483.5L621.5 1483.5L622.0 1483.5L622.4 1483.5L622.9 1483.5L623.4 1483.5L623.9 1483.5L624.4 1483.5L624.8 1483.5L625.3 1483.5L625.8 1483.5L626.3 1483.5L626.8 1483.5L627.3 1483.5L627.7 1483.5L628.2 1483.5L628.7 1483.5L629.2 1483.5L629.7 1483.5L630.1 1483.5L630.6 1483.5L631.1 1483.5L631.6 1483.5L632.1 1483.5L632.5 1483.5L633.0 1483.5L633.5 1483.5L634.0 1483.5L634.5 1483.5L634.9 1483.5L635.4 1483.5L635.9 1483.5L636.4 1483.5L636.9 1483.5L637.3 1483.5L637.8 1483.5L638.3 1483.5L638.8 1483.5L639.3 1483.5L639.8 1483.5L640.2 1483.5L640.7 1483.5L641.2 1483.5L641.7 1483.5L642.2 1483.5L642.6 1483.5L643.1 1483.5L643.6 1483.5L644.1 1483.5L644.6 1483.5L645.0 1483.5L645.5 1483.5L646.0 1483.5L646.5 1483.5L647.0 1483.5L647.4 1483.5L647.9 1483.5L648.4 1483.5L648.9 1483.5L649.4 1483.5L649.8 1483.5L650.3 1483.5L650.8 1483.5L651.3 1483.5L651.8 1483.5L652.3 1483.5L652.7 1483.5L653.2 1483.5L653.7 1483.5L654.2 1483.5L654.7 1483.5L655.1 1483.5L655.6 1483.5L656.1 1483.5L656.6 1483.5L657.1 1483.5L657.5 1483.5L658.0 1483.5L658.5 1483.5L659.0 1483.5L659.5 1483.5L659.9 1483.5L660.4 1483.5L660.9 1483.5L661.4 1483.5L661.9 1483.5L662.3 1483.5L662.8 1483.5L663.3 1483.5L663.8 1483.5L664.3 1483.5L664.8 1483.5L665.2 1483.5L665.7 1483.5L666.2 1483.5L666.7 1483.5L667.2 1483.5L667.6 1483.5L668.1 1483.5L668.6 1483.5L669.1 1483.5L669.6 1483.5L670.0 1483.5L670.5 1483.5L671.0 1483.5L671.5 1483.5L672.0 1483.5L672.4 1483.5L672.9 1483.5L673.4 1483.5L673.9 1483.5L674.4 1483.5L674.8 1483.5L675.3 1483.5L675.8 1483.5L676.3 1483.5L676.8 1483.5L677.2 1483.5L677.7 1483.5L678.2 1483.5L678.7 1483.5L679.2 1483.5L679.7 1483.5L680.1 1483.5L680.6 1483.5L681.1 1483.5L681.6 1483.5L682.1 1483.5L682.5 1483.5L683.0 1483.5L683.5 1483.5L684.0 1483.5L684.5 1483.5L684.9 1483.5L685.4 1483.5L685.9 1483.5L686.4 1483.5L686.9 1483.5L687.3 1483.5L687.8 1483.5L688.3 1483.5L688.8 1483.5L689.3 1483.5L689.7 1483.5L690.2 1483.5L690.7 1483.5L691.2 1483.5L691.7 1483.5L692.2 1483.5L692.6 1483.5L693.1 1483.5L693.6 1483.5L694.1 1483.5L694.6 1483.5L695.0 1483.5L695.5 1483.5L696.0 1483.5L696.5 1483.5L697.0 1483.5L697.4 1483.5L697.9 1483.5L698.4 1483.5L698.9 1483.5L699.4 1483.5L699.8 1483.5L700.3 1483.5L700.8 1483.5L701.3 1483.5L701.8 1483.5L702.2 1483.5L702.7 1483.5L703.2 1483.5L703.7 1483.5L704.2 1483.5L704.7 1483.5L705.1 1483.5L705.6 1483.5L706.1 1483.5L706.6 1483.5L707.1 1483.5L707.5 1483.5L708.0 1483.5L708.5 1483.5L709.0 1483.5L709.5 1483.5L709.9 1483.5L710.4 1483.5L710.9 1483.5L711.4 1483.5L711.9 1483.5L712.3 1483.5L712.8 1483.5L713.3 1483.5L713.8 1483.5L714.3 1483.5L714.7 1483.5L715.2 1483.5L715.7 1483.5L716.2 1483.5L716.7 1483.5L717.2 1483.5L717.6 1483.5L718.1 1483.5L718.6 1483.5L719.1 1483.5L719.6 1483.5L720.0 1483.5L720.5 1483.5L721.0 1483.5L721.5 1483.5L722.0 1483.5L722.4 1483.5L722.9 1483.5L723.4 1483.5L723.9 1483.5L724.4 1483.5L724.8 1483.5L725.3 1483.5L725.8 1483.5L726.3 1483.5L726.8 1483.5L727.2 1483.5L727.7 1483.5L728.2 1483.5L728.7 1483.5L729.2 1483.5L729.7 1483.5L730.1 1483.5L730.6 1483.5L731.1 1483.5L731.6 1483.5L732.1 1483.5L732.5 1483.5L733.0 1483.5L733.5 1483.5L734.0 1483.5L734.5 1483.5L734.9 1483.5L735.4 1483.5L735.9 1483.5L736.4 1483.5L736.9 1483.5L737.3 1483.5L737.8 1483.5L738.3 1483.5L738.8 1483.5L739.3 1483.5L739.7 1483.5L740.2 1483.5L740.7 1483.5L741.2 1483.5L741.7 1483.5L742.2 1483.5L742.6 1483.5L743.1 1483.5L743.6 1483.5L744.1 1483.5L744.6 1483.5L745.0 1483.5L745.5 1483.5L746.0 1483.5L746.5 1483.5L747.0 1483.5L747.4 1483.5L747.9 1483.5L748.4 1483.5L748.9 1483.5L749.4 1483.5L749.8 1483.5L750.3 1483.5L750.8 1483.5L751.3 1483.5L751.8 1483.5L752.2 1483.5L752.7 1483.5L753.2 1483.5L753.7 1483.5L754.2 1483.5L754.7 1483.5L755.1 1483.5L755.6 1483.5L756.1 1483.5L756.6 1483.5L757.1 1483.5L757.5 1483.5L758.0 1483.5L758.5 1483.5L759.0 1483.5L759.5 1483.5L759.9 1483.5L760.4 1483.5L760.9 1483.5L761.4 1483.5L761.9 1483.5L762.3 1483.5L762.8 1483.5L763.3 1483.5L763.8 1483.5L764.3 1483.5L764.7 1483.5L765.2 1483.5L765.7 1483.5L766.2 1483.5L766.7 1483.5L767.1 1483.5L767.6 1483.5L768.1 1483.5L768.6 1483.5L769.1 1483.5L769.6 1483.5L770.0 1483.5L770.5 1483.5L771.0 1483.5L771.5 1483.5L772.0 1483.5L772.4 1483.5L772.9 1483.5L773.4 1483.5L773.9 1483.5L774.4 1483.5L774.8 1483.5L775.3 1483.5L775.8 1483.5L776.3 1483.5L776.8 1483.5L777.2 1483.5L777.7 1483.5L778.2 1483.5L778.7 1483.5L779.2 1483.5L779.6 1483.5L780.1 1483.5L780.6 1483.5L781.1 1483.5L781.6 1483.5L782.1 1483.5L782.5 1483.5L783.0 1483.5L783.5 1483.5L784.0 1483.5L784.5 1483.5L784.9 1483.5L785.4 1483.5L785.9 1483.5L786.4 1483.5L786.9 1483.5L787.3 1483.5L787.8 1483.5L788.3 1483.5L788.8 1483.5L789.3 1483.5L789.7 1483.5L790.2 1483.5L790.7 1483.5L791.2 1483.5L791.7 1483.5L792.1 1483.5L792.6 1483.5L793.1 1483.5L793.6 1483.5L794.1 1483.5L794.6 1483.5L795.0 1483.5L795.5 1483.5L796.0 1483.5L796.5 1483.5L797.0 1483.5L797.4 1483.5L797.9 1483.5L798.4 1483.5L798.9 1483.5L799.4 1483.5L799.8 1483.5L800.3 1483.5L800.8 1483.5L801.3 1483.5L801.8 1483.5L802.2 1483.5L802.7 1483.5L803.2 1483.5L803.7 1483.5L804.2 1483.5L804.6 1483.5L805.1 1483.5L805.6 1483.5L806.1 1483.5L806.6 1483.5L807.1 1483.5L807.5 1483.5L808.0 1483.5L808.5 1483.5L809.0 1483.5L809.5 1483.5L809.9 1483.5L810.4 1483.5L810.9 1483.5L811.4 1483.5L811.9 1483.5L812.3 1483.5L812.8 1483.5L813.3 1483.5L813.8 1483.5L814.3 1483.5L814.7 1483.5L815.2 1483.5L815.7 1483.5L816.2 1483.5L816.7 1483.5L817.1 1483.5L817.6 1483.5L818.1 1483.5L818.6 1483.5L819.1 1483.5L819.6 1483.5L820.0 1483.5L820.5 1483.5L821.0 1483.5L821.5 1483.5L822.0 1483.5L822.4 1483.5L822.9 1483.5L823.4 1483.5L823.9 1483.5L824.4 1483.5L824.8 1483.5L825.3 1483.5L825.8 1483.5L826.3 1483.5L826.8 1483.5L827.2 1483.5L827.7 1483.5L828.2 1483.5L828.7 1483.5L829.2 1483.5L829.6 1483.5L830.1 1483.5L830.6 1483.5L831.1 1483.5L831.6 1483.5L832.1 1483.5L832.5 1483.5L833.0 1483.5L833.5 1483.5L834.0 1483.5L834.5 1483.5L834.9 1483.5L835.4 1483.5L835.9 1483.5L836.4 1483.5L836.9 1483.5L837.3 1483.5L837.8 1483.5L838.3 1483.5L838.8 1483.5L839.3 1483.5L839.7 1483.5L840.2 1483.5L840.7 1483.5L841.2 1483.5L841.7 1483.5L842.1 1483.5L842.6 1483.5L843.1 1483.5L843.6 1483.5L844.1 1483.5L844.6 1483.5L845.0 1483.5L845.5 1483.5L846.0 1483.5L846.5 1483.5L847.0 1483.5L847.4 1483.5L847.9 1483.5L848.4 1483.5L848.9 1483.5L849.4 1483.5L849.8 1483.5L850.3 1483.5L850.8 1483.5L851.3 1483.5L851.8 1483.5L852.2 1483.5L852.7 1483.5L853.2 1483.5L853.7 1483.5L854.2 1483.5L854.6 1483.5L855.1 1483.5L855.6 1483.5L856.1 1483.5L856.6 1483.5L857.0 1483.5L857.5 1483.5L858.0 1483.5L858.5 1483.5L859.0 1483.5L859.5 1483.5L859.9 1483.5L860.4 1483.5L860.9 1483.5L861.4 1483.5L861.9 1483.5L862.3 1483.5L862.8 1483.5L863.3 1483.5L863.8 1483.5L864.3 1483.5L864.7 1483.5L865.2 1483.5L865.7 1483.5L866.2 1483.5L866.7 1483.5L867.1 1483.5L867.6 1483.5L868.1 1483.5L868.6 1483.5L869.1 1483.5L869.5 1483.5L870.0 1483.5L870.5 1483.5L871.0 1483.5L871.5 1483.5L872.0 1483.5L872.4 1483.5L872.9 1483.5L873.4 1483.5L873.9 1483.5L874.4 1483.5L874.8 1483.5L875.3 1483.5L875.8 1483.5L876.3 1483.5L876.8 1483.5L877.2 1483.5L877.7 1483.5L878.2 1483.5L878.7 1483.5L879.2 1483.5L879.6 1483.5L880.1 1483.5L880.6 1483.5L881.1 1483.5L881.6 1483.5L882.0 1483.5L882.5 1483.5L883.0 1483.5L883.5 1483.5L884.0 1483.5L884.5 1483.5L884.9 1483.5L885.4 1483.5L885.9 1483.5L886.4 1483.5L886.9 1483.5L887.3 1483.5L887.8 1483.5L888.3 1483.5L888.8 1483.5L889.3 1483.5L889.7 1483.5L890.2 1483.5L890.7 1483.5L891.2 1483.5L891.7 1483.5L892.1 1483.5L892.6 1483.5L893.1 1483.5L893.6 1483.5L894.1 1483.5L894.5 1483.5L895.0 1483.5L895.5 1483.5L896.0 1483.5L896.5 1483.5L897.0 1483.5L897.4 1483.5L897.9 1483.5L898.4 1483.5L898.9 1483.5L899.4 1483.5L899.8 1483.5L900.3 1483.5L900.8 1483.5L901.3 1483.5L901.8 1483.5L902.2 1483.5L902.7 1483.5L903.2 1483.5L903.7 1483.5L904.2 1483.5L904.6 1483.5L905.1 1483.5L905.6 1483.5L906.1 1483.5L906.6 1483.5L907.0 1483.5L907.5 1483.5L908.0 1483.5L908.5 1483.5L909.0 1483.5L909.5 1483.5L909.9 1483.5L910.4 1483.5L910.9 1483.5L911.4 1483.5L911.9 1483.5L912.3 1483.5L912.8 1483.5L913.3 1483.5L913.8 1483.5L914.3 1483.5L914.7 1483.5L915.2 1483.5L915.7 1483.5L916.2 1483.5L916.7 1483.5L917.1 1483.5L917.6 1483.5L918.1 1483.5L918.6 1483.5L919.1 1483.5L919.5 1483.5L920.0 1483.5L920.5 1483.5L921.0 1483.5L921.5 1483.5L922.0 1483.5L922.4 1483.5L922.9 1483.5L923.4 1483.5L923.9 1483.5L924.4 1483.5L924.8 1483.5L925.3 1483.5L925.8 1483.5L926.3 1483.5L926.8 1483.5L927.2 1483.5L927.7 1483.5L928.2 1483.5L928.7 1483.5L929.2 1483.5L929.6 1483.5L930.1 1483.5L930.6 1483.5L931.1 1483.5L931.6 1483.5L932.0 1483.5L932.5 1483.5L933.0 1483.5L933.5 1483.5L934.0 1483.5L934.5 1483.5L934.9 1483.5L935.4 1483.5L935.9 1483.5L936.4 1483.5L936.9 1483.5L937.3 1483.5L937.8 1483.5L938.3 1483.5L938.8 1483.5L939.3 1483.5L939.7 1483.5L940.2 1483.5L940.7 1483.5L941.2 1483.5L941.7 1483.5L942.1 1483.5L942.6 1483.5L943.1 1483.5L943.6 1483.5L944.1 1483.5L944.5 1483.5L945.0 1483.5L945.5 1483.5L946.0 1483.5L946.5 1483.5L947.0 1483.5L947.4 1483.5L947.9 1483.5L948.4 1483.5L948.9 1483.5L949.4 1483.5L949.8 1483.5L950.3 1483.5L950.8 1483.5L951.3 1483.5L951.8 1483.5L952.2 1483.5L952.7 1483.5L953.2 1483.5L953.7 1483.5L954.2 1483.5L954.6 1483.5L955.1 1483.5L955.6 1483.5L956.1 1483.5L956.6 1483.5L957.0 1483.5L957.5 1483.5L958.0 1483.5L958.5 1483.5L959.0 1483.5L959.4 1483.5L959.9 1483.5L960.4 1483.5L960.9 1483.5L961.4 1483.5L961.9 1483.5L962.3 1483.5L962.8 1483.5L963.3 1483.5L963.8 1483.5L964.3 1483.5L964.7 1483.5L965.2 1483.5L965.7 1483.5L966.2 1483.5L966.7 1483.5L967.1 1483.5L967.6 1483.5L968.1 1483.5L968.6 1483.5L969.1 1483.5L969.5 1483.5L970.0 1483.5L970.5 1483.5L971.0 1483.5L971.5 1483.5L971.9 1483.5L972.4 1483.5L972.9 1483.5L973.4 1483.5L973.9 1483.5L974.4 1483.5L974.8 1483.5L975.3 1483.5L975.8 1483.5L976.3 1483.5L976.8 1483.5L977.2 1483.5L977.7 1483.5L978.2 1483.5L978.7 1483.5L979.2 1483.5L979.6 1483.5L980.1 1483.5L980.6 1483.5L981.1 1483.5L981.6 1483.5L982.0 1483.5L982.5 1483.5L983.0 1483.5L983.5 1483.5L984.0 1483.5L984.4 1483.5L984.9 1483.5L985.4 1483.5L985.9 1483.5L986.4 1483.5L986.9 1483.5L987.3 1483.5L987.8 1483.5L988.3 1483.5L988.8 1483.5L989.3 1483.5L989.7 1483.5L990.2 1483.5L990.7 1483.5L991.2 1483.5L991.7 1483.5L992.1 1483.5L992.6 1483.5L993.1 1483.5L993.6 1483.5L994.1 1483.5L994.5 1483.5L995.0 1483.5L995.5 1483.5L996.0 1483.5L996.5 1483.5L996.9 1483.5L997.4 1483.5L997.9 1483.5L998.4 1483.5L998.9 1483.5L999.4 1483.5L999.8 1483.5L1000.3 1483.5L1000.8 1483.5L1001.3 1483.5L1001.8 1483.5L1002.2 1483.5L1002.7 1483.5L1003.2 1483.5L1003.7 1483.5L1004.2 1483.5L1004.6 1483.5L1005.1 1483.5L1005.6 1483.5L1006.1 1483.5L1006.6 1483.5L1007.0 1483.5L1007.5 1483.5L1008.0 1483.5L1008.5 1483.5L1009.0 1483.5L1009.4 1483.5L1009.9 1483.5L1010.4 1483.5L1010.9 1483.5L1011.4 1483.5L1011.9 1483.5L1012.3 1483.5L1012.8 1483.5L1013.3 1483.5L1013.8 1483.5L1014.3 1483.5L1014.7 1483.5L1015.2 1483.5L1015.7 1483.5L1016.2 1483.5L1016.7 1483.5L1017.1 1483.5L1017.6 1483.5L1018.1 1483.5L1018.6 1483.5L1019.1 1483.5L1019.5 1483.5L1020.0 1483.5L1020.5 1483.5L1021.0 1483.5L1021.5 1483.5L1021.9 1483.5L1022.4 1483.5L1022.9 1483.5L1023.4 1483.5L1023.9 1483.5L1024.4 1483.5L1024.8 1483.5L1025.3 1483.5L1025.8 1483.5L1026.3 1483.5L1026.8 1483.5L1027.2 1483.5L1027.7 1483.5L1028.2 1483.5L1028.7 1483.5L1029.2 1483.5L1029.6 1483.5L1030.1 1483.5L1030.6 1483.5L1031.1 1483.5L1031.6 1483.5L1032.0 1483.5L1032.5 1483.5L1033.0 1483.5L1033.5 1483.5L1034.0 1483.5L1034.4 1483.5L1034.9 1483.5L1035.4 1483.5L1035.9 1483.5L1036.4 1483.5L1036.9 1483.5L1037.3 1483.5L1037.8 1483.5L1038.3 1483.5L1038.8 1483.5L1039.3 1483.5L1039.7 1483.5L1040.2 1483.5L1040.7 1483.5L1041.2 1483.5L1041.7 1483.5L1042.1 1483.5L1042.6 1483.5L1043.1 1483.5L1043.6 1483.5L1044.1 1483.5L1044.5 1483.5L1045.0 1483.5L1045.5 1483.5L1046.0 1483.5L1046.5 1483.5L1046.9 1483.5L1047.4 1483.5L1047.9 1483.5L1048.4 1483.5L1048.9 1483.5L1049.3 1483.5L1049.8 1483.5L1050.3 1483.5L1050.8 1483.5L1051.3 1483.5L1051.8 1483.5L1052.2 1483.5L1052.7 1483.5L1053.2 1483.5L1053.7 1483.5L1054.2 1483.5L1054.6 1483.5L1055.1 1483.5L1055.6 1483.5L1056.1 1483.5L1056.6 1483.5L1057.0 1483.5L1057.5 1483.5L1058.0 1483.5L1058.5 1483.5L1059.0 1483.5L1059.4 1483.5L1059.9 1483.5L1060.4 1483.5L1060.9 1483.5L1061.4 1483.5L1061.8 1483.5L1062.3 1483.5L1062.8 1483.5L1063.3 1483.5L1063.8 1483.5L1064.3 1483.5L1064.7 1483.5L1065.2 1483.5L1065.7 1483.5L1066.2 1483.5L1066.7 1483.5L1067.1 1483.5L1067.6 1483.5L1068.1 1483.5L1068.6 1483.5L1069.1 1483.5L1069.5 1483.5L1070.0 1483.0L1070.5 1482.4L1071.0 1482.0L1071.5 1482.4L1071.9 1483.0L1072.4 1483.5L1072.9 1483.5L1073.4 1483.5L1073.9 1483.5L1074.3 1483.5L1074.8 1483.5L1075.3 1483.5L1075.8 1483.5L1076.3 1483.5L1076.8 1483.5L1077.2 1483.5L1077.7 1483.5L1078.2 1482.9L1078.7 1482.1L1079.2 1481.5L1079.6 1482.1L1080.1 1482.9L1080.6 1483.5L1081.1 1483.5L1081.6 1483.5L1082.0 1483.5L1082.5 1483.5L1083.0 1483.5L1083.5 1483.5L1084.0 1483.5L1084.4 1483.5L1084.9 1483.5L1085.4 1483.5L1085.9 1483.5L1086.4 1483.5L1086.8 1482.7L1087.3 1481.7L1087.8 1481.0L1088.3 1481.7L1088.8 1482.7L1089.3 1483.5L1089.7 1483.5L1090.2 1483.5L1090.7 1483.5L1091.2 1483.5L1091.7 1483.5L1092.1 1483.5L1092.6 1483.5L1093.1 1482.6L1093.6 1481.4L1094.1 1480.5L1094.5 1481.4L1095.0 1482.6L1095.5 1483.5L1096.0 1483.5L1096.5 1483.5L1096.9 1483.5L1097.4 1483.5L1097.9 1483.5L1098.4 1482.3L1098.9 1480.7L1099.3 1479.5L1099.8 1480.7L1100.3 1482.3L1100.8 1483.5L1101.3 1483.5L1101.8 1483.5L1102.2 1483.5L1102.7 1483.5L1103.2 1473.4L1103.7 1453.2L1104.2 1465.8L1104.6 1479.5L1105.1 1483.5L1105.6 1483.5L1106.1 1483.5L1106.6 1483.5L1107.0 1483.5L1107.5 1483.5L1108.0 1483.5L1108.5 1483.5L1109.0 1483.5L1109.4 1483.5L1109.9 1483.5L1110.4 1483.5L1110.9 1473.4L1111.4 1448.2L1111.8 1473.4L1112.3 1483.5L1112.8 1483.5L1113.3 1483.5L1113.8 1483.5L1114.3 1483.5L1114.7 1483.5L1115.2 1483.5L1115.7 1483.5L1116.2 1483.5L1116.7 1482.6L1117.1 1482.2L1117.6 1481.2L1118.1 1478.5L1118.6 1450.7L1119.1 1478.5L1119.5 1481.2L1120.0 1482.2L1120.5 1482.6L1121.0 1483.5L1121.5 1483.5L1121.9 1483.5L1122.4 1483.5L1122.9 1483.5L1123.4 1483.5L1123.9 1483.5L1124.3 1483.5L1124.8 1480.7L1125.3 1477.4L1125.8 1469.4L1126.3 1450.2L1126.8 979.0L1127.2 1450.2L1127.7 1469.4L1128.2 1477.4L1128.7 1480.7L1129.2 1483.5L1129.6 1483.5L1130.1 1483.5L1130.6 1483.5L1131.1 1483.5L1131.6 1483.5L1132.0 1483.5L1132.5 1483.5L1133.0 1482.0L1133.5 1480.6L1134.0 1477.3L1134.4 1469.1L1134.9 1294.3L1135.4 1469.1L1135.9 1477.3L1136.4 1480.6L1136.8 1482.0L1137.3 1483.5L1137.8 1483.5L1138.3 1483.5L1138.8 1483.5L1139.3 1483.5L1139.7 1483.5L1140.2 1483.5L1140.7 1482.4L1141.2 1481.6L1141.7 1479.8L1142.1 1475.2L1142.6 1395.2L1143.1 1475.2L1143.6 1479.8L1144.1 1481.6L1144.5 1482.4L1145.0 1483.5L1145.5 1483.5L1146.0 1483.5L1146.5 1483.5L1146.9 1483.5L1147.4 1483.5L1147.9 1483.5L1148.4 1483.5L1148.9 1482.6L1149.3 1482.2L1149.8 1481.3L1150.3 1478.7L1150.8 1454.2L1151.3 1478.7L1151.7 1481.3L1152.2 1482.2L1152.7 1482.6L1153.2 1483.5L1153.7 1483.5L1154.2 1483.5L1154.6 1483.5L1155.1 1483.5L1155.6 1483.5L1156.1 1483.5L1156.6 1481.7L1157.0 1479.9L1157.5 1475.6L1158.0 1465.0L1158.5 1226.2L1159.0 1465.0L1159.4 1475.6L1159.9 1479.9L1160.4 1481.7L1160.9 1483.5L1161.4 1483.5L1161.8 1483.5L1162.3 1483.5L1162.8 1483.5L1163.3 1483.5L1163.8 1483.5L1164.2 1481.2L1164.7 1478.7L1165.2 1472.5L1165.7 1457.6L1166.2 1102.1L1166.7 1457.6L1167.1 1472.5L1167.6 1478.7L1168.1 1481.2L1168.6 1483.5L1169.1 1483.5L1169.5 1483.5L1170.0 1483.5L1170.5 1483.5L1171.0 1483.5L1171.5 1483.5L1171.9 1482.0L1172.4 1480.6L1172.9 1477.3L1173.4 1469.3L1173.9 1296.8L1174.3 1469.3L1174.8 1477.3L1175.3 1480.6L1175.8 1482.0L1176.3 1483.5L1176.7 1483.5L1177.2 1483.5L1177.7 1483.5L1178.2 1483.5L1178.7 1483.5L1179.2 1483.5L1179.6 1483.5L1180.1 1478.5L1180.6 1472.4L1181.1 1478.5L1181.6 1483.5L1182.0 1483.5L1182.5 1483.5L1183.0 1483.5L1183.5 1483.5L1184.0 1483.5L1184.4 1483.5L1184.9 1483.5L1185.4 1483.5L1185.9 1483.5L1186.4 1483.5L1186.8 1483.5L1187.3 1483.5L1187.8 1478.5L1188.3 1483.5L1188.8 1478.5L1189.2 1483.5L1189.7 1483.5L1190.2 1483.5L1190.7 1483.5L1191.2 1483.5L1191.7 1483.5L1192.1 1483.5L1192.6 1483.5L1193.1 1482.4L1193.6 1481.0L1194.1 1480.0L1194.5 1481.0L1195.0 1482.4L1195.5 1483.5L1196.0 1483.5L1196.5 1483.5L1196.9 1483.5L1197.4 1482.6L1197.9 1481.4L1198.4 1480.5L1198.9 1481.4L1199.3 1482.6L1199.8 1483.5L1200.3 1483.5L1200.8 1483.5L1201.3 1483.5L1201.7 1483.5L1202.2 1483.5L1202.7 1483.5L1203.2 1482.7L1203.7 1481.7L1204.2 1481.0L1204.6 1481.7L1205.1 1482.7L1205.6 1483.5L1206.1 1483.5L1206.6 1483.5L1207.0 1483.5L1207.5 1483.5L1208.0 1483.5L1208.5 1483.5L1209.0 1483.5L1209.4 1482.9L1209.9 1482.1L1210.4 1481.5L1210.9 1482.1L1211.4 1482.9L1211.8 1483.5L1212.3 1483.5L1212.8 1483.5L1213.3 1483.5L1213.8 1483.5L1214.2 1483.5L1214.7 1483.5L1215.2 1483.5L1215.7 1483.5L1216.2 1483.5L1216.7 1483.0L1217.1 1482.4L1217.6 1482.0L1218.1 1482.4L1218.6 1483.0L1219.1 1483.5L1219.5 1483.5L1220.0 1483.5L1220.5 1483.5L1221.0 1483.5L1221.5 1483.5L1221.9 1483.5L1222.4 1483.5L1222.9 1483.5L1223.4 1483.5L1223.9 1483.5L1224.3 1483.5L1224.8 1483.5L1225.3 1483.5L1225.8 1483.5L1226.3 1483.5L1226.7 1483.5L1227.2 1483.5L1227.7 1483.5L1228.2 1483.5L1228.7 1483.5L1229.2 1483.5L1229.6 1483.5L1230.1 1483.5L1230.6 1483.5L1231.1 1483.5L1231.6 1483.5L1232.0 1483.5L1232.5 1483.5L1233.0 1483.5L1233.5 1483.5L1234.0 1483.5L1234.4 1483.5L1234.9 1483.5L1235.4 1483.5L1235.9 1483.5L1236.4 1483.5L1236.8 1483.5L1237.3 1483.5L1237.8 1483.5L1238.3 1483.5L1238.8 1483.5L1239.2 1483.5L1239.7 1483.5L1240.2 1483.5L1240.7 1483.5L1241.2 1483.5L1241.7 1483.5L1242.1 1483.5L1242.6 1483.5L1243.1 1483.5L1243.6 1483.5L1244.1 1483.5L1244.5 1483.5L1245.0 1483.5L1245.5 1483.5L1246.0 1483.5L1246.5 1483.5L1246.9 1483.5L1247.4 1483.5L1247.9 1483.5L1248.4 1483.5L1248.9 1483.5L1249.3 1483.5L1249.8 1483.5L1250.3 1483.5L1250.8 1483.5L1251.3 1483.5L1251.7 1483.5L1252.2 1483.5L1252.7 1483.5L1253.2 1483.5L1253.7 1483.5L1254.1 1483.5L1254.6 1483.5L1255.1 1483.5L1255.6 1483.5L1256.1 1483.5L1256.6 1483.5L1257.0 1483.5L1257.5 1483.5L1258.0 1483.5L1258.5 1483.5L1259.0 1483.5L1259.4 1483.5L1259.9 1483.5L1260.4 1483.5L1260.9 1483.5L1261.4 1483.5L1261.8 1483.5L1262.3 1483.5L1262.8 1483.5L1263.3 1483.5L1263.8 1483.5L1264.2 1483.5L1264.7 1483.5L1265.2 1483.5L1265.7 1483.5L1266.2 1483.5L1266.6 1483.5L1267.1 1483.5L1267.6 1483.5L1268.1 1483.5L1268.6 1483.5L1269.1 1483.5L1269.5 1483.5L1270.0 1483.5L1270.5 1483.5L1271.0 1483.5L1271.5 1483.5L1271.9 1483.5L1272.4 1483.5L1272.9 1483.5L1273.4 1483.5L1273.9 1483.5L1274.3 1483.5L1274.8 1483.5L1275.3 1483.5L1275.8 1483.5L1276.3 1483.5L1276.7 1483.5L1277.2 1483.5L1277.7 1483.5L1278.2 1483.5L1278.7 1483.5L1279.1 1483.5L1279.6 1483.5L1280.1 1483.5L1280.6 1483.5L1281.1 1483.5L1281.6 1483.5L1282.0 1483.5L1282.5 1483.5L1283.0 1483.5L1283.5 1483.5L1284.0 1483.5L1284.4 1483.5L1284.9 1483.5L1285.4 1483.5L1285.9 1483.5L1286.4 1483.5L1286.8 1483.5L1287.3 1483.5L1287.8 1483.5L1288.3 1483.5L1288.8 1483.5L1289.2 1483.5L1289.7 1483.5L1290.2 1483.5L1290.7 1483.5L1291.2 1483.5L1291.6 1483.5L1292.1 1483.5L1292.6 1483.5L1293.1 1483.5L1293.6 1483.5L1294.1 1483.5L1294.5 1483.5L1295.0 1483.5L1295.5 1483.5L1296.0 1483.5L1296.5 1483.5L1296.9 1483.5L1297.4 1483.5L1297.9 1483.5L1298.4 1483.5L1298.9 1483.5L1299.3 1483.5L1299.8 1483.5L1300.3 1483.5L1300.8 1483.5L1301.3 1483.5L1301.7 1483.5L1302.2 1483.5L1302.7 1483.5L1303.2 1483.5L1303.7 1483.5L1304.1 1483.5L1304.6 1483.5L1305.1 1483.5L1305.6 1483.5L1306.1 1483.5L1306.6 1483.5L1307.0 1483.5L1307.5 1483.5L1308.0 1483.5L1308.5 1483.5L1309.0 1483.5L1309.4 1483.5L1309.9 1483.5L1310.4 1483.5L1310.9 1483.5L1311.4 1483.5L1311.8 1483.5L1312.3 1483.5L1312.8 1483.5L1313.3 1483.5L1313.8 1483.5L1314.2 1483.5L1314.7 1483.5L1315.2 1483.5L1315.7 1483.5L1316.2 1483.5L1316.6 1483.5L1317.1 1483.5L1317.6 1483.5L1318.1 1483.5L1318.6 1483.5L1319.1 1483.5L1319.5 1483.5L1320.0 1483.5L1320.5 1483.5L1321.0 1483.5L1321.5 1483.5L1321.9 1483.5L1322.4 1483.5L1322.9 1483.5L1323.4 1483.5L1323.9 1483.5L1324.3 1483.5L1324.8 1483.5L1325.3 1483.5L1325.8 1483.5L1326.3 1483.5L1326.7 1483.5L1327.2 1483.5L1327.7 1483.5L1328.2 1483.5L1328.7 1483.5L1329.1 1483.5L1329.6 1483.5L1330.1 1483.5L1330.6 1483.5L1331.1 1483.5L1331.6 1483.5L1332.0 1483.5L1332.5 1483.5L1333.0 1483.5L1333.5 1483.5L1334.0 1483.5L1334.4 1483.5L1334.9 1483.5L1335.4 1483.5L1335.9 1483.5L1336.4 1483.5L1336.8 1483.5L1337.3 1483.5L1337.8 1483.5L1338.3 1483.5L1338.8 1483.5L1339.2 1483.5L1339.7 1483.5L1340.2 1483.5L1340.7 1483.5L1341.2 1483.5L1341.6 1483.5L1342.1 1483.5L1342.6 1483.5L1343.1 1483.5L1343.6 1483.5L1344.0 1483.5L1344.5 1483.5L1345.0 1483.5L1345.5 1483.5L1346.0 1483.5L1346.5 1483.5L1346.9 1483.5L1347.4 1483.5L1347.9 1483.5L1348.4 1483.5L1348.9 1483.5L1349.3 1483.5L1349.8 1483.5L1350.3 1483.5L1350.8 1483.5L1351.3 1483.5L1351.7 1483.5L1352.2 1483.5L1352.7 1483.5L1353.2 1483.5L1353.7 1483.5L1354.1 1483.5L1354.6 1483.5L1355.1 1483.5L1355.6 1483.5L1356.1 1483.5L1356.5 1483.5L1357.0 1483.5L1357.5 1483.5L1358.0 1483.5L1358.5 1483.5L1359.0 1483.5L1359.4 1483.5L1359.9 1483.5L1360.4 1483.5L1360.9 1483.5L1361.4 1483.5L1361.8 1483.5L1362.3 1483.5L1362.8 1483.5L1363.3 1483.5L1363.8 1483.5L1364.2 1483.5L1364.7 1483.5L1365.2 1483.5L1365.7 1483.5L1366.2 1483.5L1366.6 1483.5L1367.1 1483.5L1367.6 1483.5L1368.1 1483.5L1368.6 1483.5L1369.0 1483.5L1369.5 1483.5L1370.0 1483.5L1370.5 1483.5L1371.0 1483.5L1371.5 1483.5L1371.9 1483.5L1372.4 1483.5L1372.9 1483.5L1373.4 1483.5L1373.9 1483.5L1374.3 1483.5L1374.8 1483.5L1375.3 1483.5L1375.8 1483.5L1376.3 1483.5L1376.7 1483.5L1377.2 1483.5L1377.7 1483.5L1378.2 1483.5L1378.7 1483.5L1379.1 1483.5L1379.6 1483.5L1380.1 1483.5L1380.6 1483.5L1381.1 1483.5L1381.5 1483.5L1382.0 1483.5L1382.5 1483.5L1383.0 1483.5L1383.5 1483.5L1384.0 1483.5L1384.4 1483.5L1384.9 1483.5L1385.4 1483.5L1385.9 1483.5L1386.4 1483.5L1386.8 1483.5L1387.3 1483.5L1387.8 1483.5L1388.3 1483.5L1388.8 1483.5L1389.2 1483.5L1389.7 1483.5L1390.2 1483.5L1390.7 1483.5L1391.2 1483.5L1391.6 1483.5L1392.1 1483.5L1392.6 1483.5L1393.1 1483.5L1393.6 1483.5L1394.0 1483.5L1394.5 1483.5L1395.0 1483.5L1395.5 1483.5L1396.0 1483.5L1396.5 1483.5L1396.9 1483.5L1397.4 1483.5L1397.9 1483.5L1398.4 1483.5L1398.9 1483.5L1399.3 1483.5L1399.8 1483.5L1400.3 1483.5L1400.8 1483.5L1401.3 1483.5L1401.7 1483.5L1402.2 1483.5L1402.7 1483.5L1403.2 1483.5L1403.7 1483.5L1404.1 1483.5L1404.6 1483.5L1405.1 1483.5L1405.6 1483.5L1406.1 1483.5L1406.5 1483.5L1407.0 1483.5L1407.5 1483.5L1408.0 1483.5L1408.5 1483.5L1409.0 1483.5L1409.4 1483.5L1409.9 1483.5L1410.4 1483.5L1410.9 1483.5L1411.4 1483.5L1411.8 1483.5L1412.3 1483.5L1412.8 1483.5L1413.3 1483.5L1413.8 1483.5L1414.2 1483.5L1414.7 1483.5L1415.2 1483.5L1415.7 1483.5L1416.2 1483.5L1416.6 1483.5L1417.1 1483.5L1417.6 1483.5L1418.1 1483.5L1418.6 1483.5L1419.0 1483.5L1419.5 1483.5L1420.0 1483.5L1420.5 1483.5L1421.0 1483.5L1421.5 1483.5L1421.9 1483.5L1422.4 1483.5L1422.9 1483.5L1423.4 1483.5L1423.9 1483.5L1424.3 1483.5L1424.8 1483.5L1425.3 1483.5L1425.8 1483.5L1426.3 1483.5L1426.7 1483.5L1427.2 1483.5L1427.7 1483.5L1428.2 1483.5L1428.7 1483.5L1429.1 1483.5L1429.6 1483.5L1430.1 1483.5L1430.6 1483.5L1431.1 1483.5L1431.5 1483.5L1432.0 1483.5L1432.5 1483.5L1433.0 1483.5L1433.5 1483.5L1434.0 1483.5L1434.4 1483.5L1434.9 1483.5L1435.4 1483.5L1435.9 1483.5L1436.4 1483.5L1436.8 1483.5L1437.3 1483.5L1437.8 1483.5L1438.3 1483.5L1438.8 1483.5L1439.2 1483.5L1439.7 1483.5L1440.2 1483.5L1440.7 1483.5L1441.2 1483.5L1441.6 1483.5L1442.1 1483.5L1442.6 1483.5L1443.1 1483.5L1443.6 1483.5L1444.0 1483.5L1444.5 1483.5L1445.0 1483.5L1445.5 1483.5L1446.0 1483.5L1446.4 1483.5L1446.9 1483.5L1447.4 1483.5L1447.9 1483.5L1448.4 1483.5L1448.9 1483.5L1449.3 1483.5L1449.8 1483.5L1450.3 1483.5L1450.8 1483.5L1451.3 1483.5L1451.7 1483.5L1452.2 1483.5L1452.7 1483.5L1453.2 1483.5L1453.7 1483.5L1454.1 1483.5L1454.6 1483.5L1455.1 1483.5L1455.6 1483.5L1456.1 1483.5L1456.5 1483.5L1457.0 1483.5L1457.5 1483.5L1458.0 1483.5L1458.5 1483.5L1458.9 1483.5L1459.4 1483.5L1459.9 1483.5L1460.4 1483.5L1460.9 1483.5L1461.4 1483.5L1461.8 1483.5L1462.3 1483.5L1462.8 1483.5L1463.3 1483.5L1463.8 1483.5L1464.2 1483.5L1464.7 1483.5L1465.2 1483.5L1465.7 1483.5L1466.2 1483.5L1466.6 1483.5L1467.1 1483.5L1467.6 1483.5L1468.1 1483.5L1468.6 1483.5L1469.0 1483.5L1469.5 1483.5L1470.0 1483.5L1470.5 1483.5L1471.0 1483.5L1471.4 1483.5L1471.9 1483.5L1472.4 1483.5L1472.9 1483.5L1473.4 1483.5L1473.9 1483.5L1474.3 1483.5L1474.8 1483.5L1475.3 1483.5L1475.8 1483.5L1476.3 1483.5L1476.7 1483.5L1477.2 1483.5L1477.7 1483.5L1478.2 1483.5L1478.7 1483.5L1479.1 1483.5L1479.6 1483.5L1480.1 1483.5L1480.6 1483.5L1481.1 1483.5L1481.5 1483.5L1482.0 1483.5L1482.5 1483.5L1483.0 1483.5L1483.5 1483.5L1483.9 1483.5L1484.4 1483.5L1484.9 1483.5L1485.4 1483.5L1485.9 1483.5L1486.4 1483.5L1486.8 1483.5L1487.3 1483.5L1487.8 1483.5L1488.3 1483.5L1488.8 1483.5L1489.2 1483.5L1489.7 1483.5L1490.2 1483.5L1490.7 1483.5L1491.2 1483.5L1491.6 1483.5L1492.1 1483.5L1492.6 1483.5L1493.1 1483.5L1493.6 1483.5L1494.0 1483.5L1494.5 1483.5L1495.0 1483.5L1495.5 1483.5L1496.0 1483.5L1496.4 1483.5L1496.9 1483.5L1497.4 1483.5L1497.9 1483.5L1498.4 1483.5L1498.9 1483.5L1499.3 1483.5L1499.8 1483.5L1500.3 1483.5L1500.8 1483.5L1501.3 1483.5L1501.7 1483.5L1502.2 1483.5L1502.7 1483.5L1503.2 1483.5L1503.7 1483.5L1504.1 1483.5L1504.6 1483.5L1505.1 1483.5L1505.6 1483.5L1506.1 1483.5L1506.5 1483.5L1507.0 1483.5L1507.5 1483.5L1508.0 1483.5L1508.5 1483.5L1508.9 1483.5L1509.4 1483.5L1509.9 1483.5L1510.4 1483.5L1510.9 1483.5L1511.4 1483.5L1511.8 1483.5L1512.3 1483.5L1512.8 1483.5L1513.3 1483.5L1513.8 1483.5L1514.2 1483.5L1514.7 1483.5L1515.2 1483.5L1515.7 1483.5L1516.2 1483.5L1516.6 1483.5L1517.1 1483.5L1517.6 1483.5L1518.1 1483.5L1518.6 1483.5L1519.0 1483.5L1519.5 1483.5L1520.0 1483.5L1520.5 1483.5L1521.0 1483.5L1521.4 1483.5L1521.9 1483.5L1522.4 1483.5L1522.9 1483.5L1523.4 1483.5L1523.9 1483.5L1524.3 1483.5L1524.8 1483.5L1525.3 1483.5L1525.8 1483.5L1526.3 1483.5L1526.7 1483.5L1527.2 1483.5L1527.7 1483.5L1528.2 1483.5L1528.7 1483.5L1529.1 1483.5L1529.6 1483.5L1530.1 1483.5L1530.6 1483.5L1531.1 1483.5L1531.5 1483.5L1532.0 1483.5L1532.5 1483.5L1533.0 1483.5L1533.5 1483.5L1533.9 1483.5L1534.4 1483.5L1534.9 1483.5L1535.4 1483.5L1535.9 1483.5L1536.3 1483.5L1536.8 1483.5L1537.3 1483.5L1537.8 1483.5L1538.3 1483.5L1538.8 1483.5L1539.2 1483.5L1539.7 1483.5L1540.2 1483.5L1540.7 1483.5L1541.2 1483.5L1541.6 1483.5L1542.1 1483.5L1542.6 1483.5L1543.1 1483.5L1543.6 1483.5L1544.0 1483.5L1544.5 1483.5L1545.0 1483.5L1545.5 1483.5L1546.0 1483.5L1546.4 1483.5L1546.9 1483.5L1547.4 1483.5L1547.9 1483.5L1548.4 1483.5L1548.8 1483.5L1549.3 1483.5L1549.8 1483.5L1550.3 1483.5L1550.8 1483.5L1551.3 1483.5L1551.7 1483.5L1552.2 1483.5L1552.7 1483.5L1553.2 1483.5L1553.7 1483.5L1554.1 1483.5L1554.6 1483.5L1555.1 1483.5L1555.6 1483.5L1556.1 1483.5L1556.5 1483.5L1557.0 1483.5L1557.5 1483.5L1558.0 1483.5L1558.5 1483.5L1558.9 1483.5L1559.4 1483.5L1559.9 1483.5L1560.4 1483.5L1560.9 1483.5L1561.3 1483.5L1561.8 1483.2L1562.3 1482.8L1562.8 1482.5L1563.3 1482.8L1563.8 1483.2L1564.2 1483.5L1564.7 1483.5L1565.2 1483.5L1565.7 1483.5L1566.2 1483.5L1566.6 1483.5L1567.1 1483.5L1567.6 1483.5L1568.1 1483.5L1568.6 1483.5L1569.0 1483.5L1569.5 1483.5L1570.0 1483.5L1570.5 1483.5L1571.0 1483.5L1571.4 1483.5L1571.9 1483.5L1572.4 1482.9L1572.9 1482.1L1573.4 1481.5L1573.8 1482.1L1574.3 1482.9L1574.8 1483.5L1575.3 1483.5L1575.8 1483.5L1576.3 1483.5L1576.7 1483.5L1577.2 1483.5L1577.7 1483.5L1578.2 1483.5L1578.7 1483.0L1579.1 1482.4L1579.6 1482.0L1580.1 1482.4L1580.6 1483.0L1581.1 1483.5L1581.5 1483.5L1582.0 1483.5L1582.5 1483.5L1583.0 1483.5L1583.5 1483.5L1583.9 1483.5L1584.4 1483.5L1584.9 1483.5L1585.4 1483.0L1585.9 1482.4L1586.3 1482.0L1586.8 1482.4L1587.3 1483.0L1587.8 1483.5L1588.3 1483.5L1588.8 1483.5L1589.2 1483.5L1589.7 1483.5L1590.2 1483.5L1590.7 1483.5L1591.2 1483.5L1591.6 1483.5L1592.1 1483.5L1592.6 1483.5L1593.1 1483.5L1593.6 1483.5L1594.0 1483.5L1594.5 1483.5L1595.0 1483.5L1595.5 1483.5L1596.0 1483.5L1596.4 1483.5L1596.9 1483.5L1597.4 1483.5L1597.9 1483.5L1598.4 1483.5L1598.8 1483.5L1599.3 1483.5L1599.8 1483.5L1600.3 1483.5L1600.8 1483.5L1601.3 1483.5L1601.7 1483.5L1602.2 1483.5L1602.7 1483.5L1603.2 1483.5L1603.7 1483.5L1604.1 1483.5L1604.6 1483.5L1605.1 1483.5L1605.6 1483.5L1606.1 1483.5L1606.5 1483.5L1607.0 1483.5L1607.5 1483.5L1608.0 1483.5L1608.5 1483.5L1608.9 1483.5L1609.4 1483.5L1609.9 1483.5L1610.4 1483.5L1610.9 1483.5L1611.3 1483.5L1611.8 1483.5L1612.3 1483.5L1612.8 1483.5L1613.3 1483.5L1613.8 1483.5L1614.2 1483.5L1614.7 1483.5L1615.2 1483.5L1615.7 1483.5L1616.2 1483.5L1616.6 1483.5L1617.1 1483.5L1617.6 1483.5L1618.1 1483.5L1618.6 1483.5L1619.0 1483.5L1619.5 1483.5L1620.0 1483.5L1620.5 1483.5L1621.0 1483.5L1621.4 1483.5L1621.9 1483.5L1622.4 1483.5L1622.9 1483.5L1623.4 1483.5L1623.8 1483.5L1624.3 1483.5L1624.8 1483.5L1625.3 1483.5L1625.8 1483.5L1626.2 1483.5L1626.7 1483.5L1627.2 1483.5L1627.7 1483.5L1628.2 1483.5L1628.7 1483.5L1629.1 1483.5L1629.6 1483.5L1630.1 1483.5L1630.6 1483.5L1631.1 1483.5L1631.5 1483.5L1632.0 1483.5L1632.5 1483.5L1633.0 1483.5L1633.5 1483.5L1633.9 1483.5L1634.4 1483.5L1634.9 1483.5L1635.4 1483.5L1635.9 1483.5L1636.3 1483.5L1636.8 1483.5L1637.3 1483.5L1637.8 1483.5L1638.3 1483.5L1638.7 1483.5L1639.2 1483.5L1639.7 1483.5L1640.2 1483.5L1640.7 1483.5L1641.2 1483.5L1641.6 1483.5L1642.1 1483.5L1642.6 1483.5L1643.1 1483.5L1643.6 1483.5L1644.0 1483.5L1644.5 1483.5L1645.0 1483.5L1645.5 1483.5L1646.0 1483.5L1646.4 1483.5L1646.9 1483.5L1647.4 1483.5L1647.9 1483.5L1648.4 1483.5L1648.8 1483.5L1649.3 1483.5L1649.8 1483.5L1650.3 1483.5L1650.8 1483.5L1651.2 1483.5L1651.7 1483.5L1652.2 1483.5L1652.7 1483.5L1653.2 1483.5L1653.7 1483.5L1654.1 1483.5L1654.6 1483.5L1655.1 1483.5L1655.6 1483.5L1656.1 1483.5L1656.5 1483.5L1657.0 1483.5L1657.5 1483.5L1658.0 1483.5L1658.5 1483.5L1658.9 1483.5L1659.4 1483.5L1659.9 1483.5L1660.4 1483.5L1660.9 1483.5L1661.3 1483.5L1661.8 1483.5L1662.3 1483.5L1662.8 1483.5L1663.3 1483.5L1663.7 1483.5L1664.2 1483.5L1664.7 1483.5L1665.2 1483.5L1665.7 1483.5L1666.2 1483.5L1666.6 1483.5L1667.1 1483.5L1667.6 1483.5L1668.1 1483.5L1668.6 1483.5L1669.0 1483.5L1669.5 1483.5L1670.0 1483.5L1670.5 1483.5L1671.0 1483.5L1671.4 1483.5L1671.9 1483.5L1672.4 1483.5L1672.9 1483.5L1673.4 1483.5L1673.8 1483.5L1674.3 1483.5L1674.8 1483.5L1675.3 1483.5L1675.8 1483.5L1676.2 1483.5L1676.7 1483.5L1677.2 1483.5L1677.7 1483.5L1678.2 1483.5L1678.7 1483.5L1679.1 1483.5L1679.6 1483.5L1680.1 1483.5L1680.6 1483.5L1681.1 1483.5L1681.5 1483.5L1682.0 1483.5L1682.5 1483.5L1683.0 1483.5L1683.5 1483.5L1683.9 1483.5L1684.4 1483.5L1684.9 1483.5L1685.4 1483.5L1685.9 1483.5L1686.3 1483.5L1686.8 1483.5L1687.3 1483.5L1687.8 1483.5L1688.3 1483.5L1688.7 1483.5L1689.2 1483.5L1689.7 1483.5L1690.2 1483.5L1690.7 1483.5L1691.2 1483.5L1691.6 1483.5L1692.1 1483.5L1692.6 1483.5L1693.1 1483.5L1693.6 1483.5L1694.0 1483.5L1694.5 1483.5L1695.0 1483.5L1695.5 1483.5L1696.0 1483.5L1696.4 1483.5L1696.9 1483.5L1697.4 1483.5L1697.9 1483.5L1698.4 1483.5L1698.8 1483.5L1699.3 1483.5L1699.8 1483.5L1700.3 1483.5L1700.8 1483.5L1701.2 1483.5L1701.7 1483.5L1702.2 1483.5L1702.7 1483.5L1703.2 1483.5L1703.7 1483.5L1704.1 1483.5L1704.6 1483.5L1705.1 1483.5L1705.6 1483.5L1706.1 1483.5L1706.5 1483.5L1707.0 1483.5L1707.5 1483.5L1708.0 1483.5L1708.5 1483.5L1708.9 1483.5L1709.4 1483.5L1709.9 1483.5L1710.4 1483.5L1710.9 1483.5L1711.3 1483.5L1711.8 1483.5L1712.3 1483.5L1712.8 1483.5L1713.3 1483.5L1713.7 1483.5L1714.2 1483.5L1714.7 1483.5L1715.2 1483.5L1715.7 1483.5L1716.2 1483.5L1716.6 1483.5L1717.1 1483.5L1717.6 1483.5L1718.1 1483.5L1718.6 1483.5L1719.0 1483.5L1719.5 1483.5L1720.0 1483.5L1720.5 1483.5L1721.0 1483.5L1721.4 1483.5L1721.9 1483.5L1722.4 1483.5L1722.9 1483.5L1723.4 1483.5L1723.8 1483.5L1724.3 1483.5L1724.8 1483.5L1725.3 1483.5L1725.8 1483.5L1726.2 1483.5L1726.7 1483.5L1727.2 1483.5L1727.7 1483.5L1728.2 1483.5L1728.6 1483.5L1729.1 1483.5L1729.6 1483.5L1730.1 1483.5L1730.6 1483.5L1731.1 1483.5L1731.5 1483.5L1732.0 1483.5L1732.5 1483.5L1733.0 1483.5L1733.5 1483.5L1733.9 1483.5L1734.4 1483.5L1734.9 1483.5L1735.4 1483.5L1735.9 1483.5L1736.3 1483.5L1736.8 1483.5L1737.3 1483.5L1737.8 1483.5L1738.3 1483.5L1738.7 1483.5L1739.2 1483.5L1739.7 1483.5L1740.2 1483.5L1740.7 1483.5L1741.1 1483.5L1741.6 1483.5L1742.1 1483.5L1742.6 1483.5L1743.1 1483.5L1743.6 1483.5L1744.0 1483.5L1744.5 1483.5L1745.0 1483.5L1745.5 1483.5L1746.0 1483.5L1746.4 1483.5L1746.9 1483.5L1747.4 1483.5L1747.9 1483.5L1748.4 1483.5L1748.8 1483.5L1749.3 1483.5L1749.8 1483.5L1750.3 1483.5L1750.8 1483.5L1751.2 1483.5L1751.7 1483.5L1752.2 1483.5L1752.7 1483.5L1753.2 1483.5L1753.6 1483.5L1754.1 1483.5L1754.6 1483.5L1755.1 1483.5L1755.6 1483.5L1756.1 1483.5L1756.5 1483.5L1757.0 1483.5L1757.5 1483.5L1758.0 1483.5L1758.5 1483.5L1758.9 1483.5L1759.4 1483.5L1759.9 1483.5L1760.4 1483.5L1760.9 1483.5L1761.3 1483.5L1761.8 1483.5L1762.3 1483.5L1762.8 1483.5L1763.3 1483.5L1763.7 1483.5L1764.2 1483.5L1764.7 1483.5L1765.2 1483.5L1765.7 1483.5L1766.1 1483.5L1766.6 1483.5L1767.1 1483.5L1767.6 1483.5L1768.1 1483.5L1768.6 1483.5L1769.0 1483.5L1769.5 1483.5L1770.0 1483.5L1770.5 1483.5L1771.0 1483.5L1771.4 1483.5L1771.9 1483.5L1772.4 1483.5L1772.9 1483.5L1773.4 1483.5L1773.8 1483.5L1774.3 1483.5L1774.8 1483.5L1775.3 1483.5L1775.8 1483.5L1776.2 1483.5L1776.7 1483.5L1777.2 1483.5L1777.7 1483.5L1778.2 1483.5L1778.6 1483.5L1779.1 1483.5L1779.6 1483.5L1780.1 1483.5L1780.6 1483.5L1781.1 1483.5L1781.5 1483.5L1782.0 1483.5L1782.5 1483.5L1783.0 1483.5L1783.5 1483.5L1783.9 1483.5L1784.4 1483.5L1784.9 1483.5L1785.4 1483.5L1785.9 1483.5L1786.3 1483.5L1786.8 1483.5L1787.3 1483.5L1787.8 1483.5L1788.3 1483.5L1788.7 1483.5L1789.2 1483.5L1789.7 1483.5L1790.2 1483.5L1790.7 1483.5L1791.1 1483.5L1791.6 1483.5L1792.1 1483.5L1792.6 1483.5L1793.1 1483.5L1793.6 1483.5L1794.0 1483.5L1794.5 1483.5L1795.0 1483.5L1795.5 1483.5L1796.0 1483.5L1796.4 1483.5L1796.9 1483.5L1797.4 1483.5L1797.9 1483.5L1798.4 1483.5L1798.8 1483.5L1799.3 1483.5L1799.8 1483.5L1800.3 1483.5L1800.8 1483.5L1801.2 1483.5L1801.7 1483.5L1802.2 1483.5L1802.7 1483.5L1803.2 1483.5L1803.6 1483.5L1804.1 1483.5L1804.6 1483.5L1805.1 1483.5L1805.6 1483.5L1806.1 1483.5L1806.5 1483.5L1807.0 1483.5L1807.5 1483.5L1808.0 1483.5L1808.5 1483.5L1808.9 1483.5L1809.4 1483.5L1809.9 1483.5L1810.4 1483.5L1810.9 1483.5L1811.3 1483.5L1811.8 1483.5L1812.3 1483.5L1812.8 1483.5L1813.3 1483.5L1813.7 1483.5L1814.2 1483.5L1814.7 1483.5L1815.2 1483.5L1815.7 1483.5L1816.1 1483.5L1816.6 1483.5L1817.1 1483.5L1817.6 1483.5L1818.1 1483.5L1818.5 1483.5L1819.0 1483.5L1819.5 1483.5L1820.0 1483.5L1820.5 1483.5L1821.0 1483.5L1821.4 1483.5L1821.9 1483.5L1822.4 1483.5L1822.9 1483.5L1823.4 1483.5L1823.8 1483.5L1824.3 1483.5L1824.8 1483.5L1825.3 1483.5L1825.8 1483.5L1826.2 1483.5L1826.7 1483.5L1827.2 1483.5L1827.7 1483.5L1828.2 1483.5L1828.6 1483.5L1829.1 1483.5L1829.6 1483.5L1830.1 1483.5L1830.6 1483.5L1831.0 1483.5L1831.5 1483.5L1832.0 1483.5L1832.5 1483.5L1833.0 1483.5L1833.5 1483.5L1833.9 1483.5L1834.4 1483.5L1834.9 1483.5L1835.4 1483.5L1835.9 1483.5L1836.3 1483.5L1836.8 1483.5L1837.3 1483.5L1837.8 1483.5L1838.3 1483.5L1838.7 1483.5L1839.2 1483.5L1839.7 1483.5L1840.2 1483.5L1840.7 1483.5L1841.1 1483.5L1841.6 1483.5L1842.1 1483.5L1842.6 1483.5L1843.1 1483.5L1843.5 1483.5L1844.0 1483.5L1844.5 1483.5L1845.0 1483.5L1845.5 1483.5L1846.0 1483.5L1846.4 1483.5L1846.9 1483.5L1847.4 1483.5L1847.9 1483.5L1848.4 1483.5L1848.8 1483.5L1849.3 1483.5L1849.8 1483.5L1850.3 1483.5L1850.8 1483.5L1851.2 1483.5L1851.7 1483.5L1852.2 1483.5L1852.7 1483.5L1853.2 1483.5L1853.6 1483.5L1854.1 1483.5L1854.6 1483.5L1855.1 1483.5L1855.6 1483.5L1856.0 1483.5L1856.5 1483.5L1857.0 1483.5L1857.5 1483.5L1858.0 1483.5L1858.5 1483.5L1858.9 1483.5L1859.4 1483.5L1859.9 1483.5L1860.4 1483.5L1860.9 1483.5L1861.3 1483.5L1861.8 1483.5L1862.3 1483.5L1862.8 1483.5L1863.3 1483.5L1863.7 1483.5L1864.2 1483.5L1864.7 1483.5L1865.2 1483.5L1865.7 1483.5L1866.1 1483.5L1866.6 1483.5L1867.1 1483.5L1867.6 1483.5L1868.1 1483.5L1868.5 1483.5L1869.0 1483.5L1869.5 1483.5L1870.0 1483.5L1870.5 1483.5L1871.0 1483.5L1871.4 1483.5L1871.9 1483.5L1872.4 1483.5L1872.9 1483.5L1873.4 1483.5L1873.8 1483.5L1874.3 1483.5L1874.8 1483.5L1875.3 1483.5L1875.8 1483.5L1876.2 1483.5L1876.7 1483.5L1877.2 1483.5L1877.7 1483.5L1878.2 1483.5L1878.6 1483.5L1879.1 1483.5L1879.6 1483.5L1880.1 1483.5L1880.6 1483.5L1881.0 1483.5L1881.5 1483.5L1882.0 1483.5L1882.5 1483.5L1883.0 1483.5L1883.5 1483.5L1883.9 1483.5L1884.4 1483.5L1884.9 1483.5L1885.4 1483.5L1885.9 1483.5L1886.3 1483.5L1886.8 1483.5L1887.3 1483.5L1887.8 1483.5L1888.3 1483.5L1888.7 1483.5L1889.2 1483.5L1889.7 1483.5L1890.2 1483.5L1890.7 1483.5L1891.1 1483.5L1891.6 1483.5L1892.1 1483.5L1892.6 1483.5L1893.1 1483.5L1893.5 1483.5L1894.0 1483.5L1894.5 1483.5L1895.0 1483.5L1895.5 1483.5L1896.0 1483.5L1896.4 1483.5L1896.9 1483.5L1897.4 1483.5L1897.9 1483.5L1898.4 1483.5L1898.8 1483.5L1899.3 1483.5L1899.8 1483.5L1900.3 1483.5L1900.8 1483.5L1901.2 1483.5L1901.7 1483.5L1902.2 1483.5L1902.7 1483.5L1903.2 1483.5L1903.6 1483.5L1904.1 1483.5L1904.6 1483.5L1905.1 1483.5L1905.6 1483.5L1906.0 1483.5L1906.5 1483.5L1907.0 1483.5L1907.5 1483.5L1908.0 1483.5L1908.5 1483.5L1908.9 1483.5L1909.4 1483.5L1909.9 1483.5L1910.4 1483.5L1910.9 1483.5L1911.3 1483.5L1911.8 1483.5L1912.3 1483.5L1912.8 1483.5L1913.3 1483.5L1913.7 1483.5L1914.2 1483.5L1914.7 1483.5L1915.2 1483.5L1915.7 1483.5L1916.1 1483.5L1916.6 1483.5L1917.1 1483.5L1917.6 1483.5L1918.1 1483.5L1918.5 1483.5L1919.0 1483.5L1919.5 1483.5L1920.0 1483.5L1920.5 1483.5L1920.9 1483.5L1921.4 1483.5L1921.9 1483.5L1922.4 1483.5L1922.9 1483.5L1923.4 1483.5L1923.8 1483.5L1924.3 1483.5L1924.8 1483.5L1925.3 1483.5L1925.8 1483.5L1926.2 1483.5L1926.7 1483.5L1927.2 1483.5L1927.7 1483.5L1928.2 1483.5L1928.6 1483.5L1929.1 1483.5L1929.6 1483.5L1930.1 1483.5L1930.6 1483.5L1931.0 1483.5L1931.5 1483.5L1932.0 1483.5L1932.5 1483.5L1933.0 1483.5L1933.4 1483.5L1933.9 1483.5L1934.4 1483.5L1934.9 1483.5L1935.4 1483.5L1935.9 1483.5L1936.3 1483.5L1936.8 1483.5L1937.3 1483.5L1937.8 1483.5L1938.3 1483.5L1938.7 1483.5L1939.2 1483.5L1939.7 1483.5L1940.2 1483.5L1940.7 1483.5L1941.1 1483.5L1941.6 1483.5L1942.1 1483.5L1942.6 1483.5L1943.1 1483.5L1943.5 1483.5L1944.0 1483.5L1944.5 1483.5L1945.0 1483.5L1945.5 1483.5L1945.9 1483.5L1946.4 1483.5L1946.9 1483.5L1947.4 1483.5L1947.9 1483.5L1948.4 1483.5L1948.8 1483.5L1949.3 1483.5L1949.8 1483.5L1950.3 1483.5L1950.8 1483.5L1951.2 1483.5L1951.7 1483.5L1952.2 1483.5L1952.7 1483.5L1953.2 1483.5L1953.6 1483.5L1954.1 1483.5L1954.6 1483.5L1955.1 1483.5L1955.6 1483.5L1956.0 1483.5L1956.5 1483.5L1957.0 1483.5L1957.5 1483.5L1958.0 1483.5L1958.4 1483.5L1958.9 1483.5L1959.4 1483.5L1959.9 1483.5L1960.4 1483.5L1960.9 1483.5L1961.3 1483.5L1961.8 1483.5L1962.3 1483.5L1962.8 1483.5L1963.3 1483.5L1963.7 1483.5L1964.2 1483.5L1964.7 1483.5L1965.2 1483.5L1965.7 1483.5L1966.1 1483.5L1966.6 1483.5L1967.1 1483.5L1967.6 1483.5L1968.1 1483.5L1968.5 1483.5L1969.0 1483.5L1969.5 1483.5L1970.0 1483.5L1970.5 1483.5L1970.9 1483.5L1971.4 1483.5L1971.9 1483.5L1972.4 1483.5L1972.9 1483.5L1973.4 1483.5L1973.8 1483.5L1974.3 1483.5L1974.8 1483.5L1975.3 1483.5L1975.8 1483.5L1976.2 1483.5L1976.7 1483.5L1977.2 1483.5L1977.7 1483.5L1978.2 1483.5L1978.6 1483.5L1979.1 1483.5L1979.6 1483.5L1980.1 1483.5L1980.6 1483.5L1981.0 1483.5L1981.5 1483.5L1982.0 1483.5L1982.5 1483.5L1983.0 1483.5L1983.4 1483.5L1983.9 1483.5L1984.4 1483.5L1984.9 1483.5L1985.4 1483.5L1985.9 1483.5L1986.3 1483.5L1986.8 1483.5L1987.3 1483.5L1987.8 1483.5L1988.3 1483.5L1988.7 1483.5L1989.2 1483.5L1989.7 1483.5L1990.2 1483.5L1990.7 1483.5L1991.1 1483.5L1991.6 1483.5L1992.1 1483.5L1992.6 1483.5L1993.1 1483.5L1993.5 1483.5L1994.0 1483.5L1994.5 1483.5L1995.0 1483.5L1995.5 1483.5L1995.9 1483.5L1996.4 1483.5L1996.9 1483.5L1997.4 1483.5L1997.9 1483.5L1998.4 1483.5L1998.8 1483.5L1999.3 1483.5L1999.8 1483.5L2000.3 1483.5L2000.8 1483.5L2001.2 1483.5L2001.7 1483.5L2002.2 1483.5L2002.7 1483.5L2003.2 1483.5L2003.6 1483.5L2004.1 1483.5L2004.6 1483.5L2005.1 1483.5L2005.6 1483.5L2006.0 1483.5L2006.5 1483.5L2007.0 1483.5L2007.5 1483.5L2008.0 1483.5L2008.4 1483.5L2008.9 1483.5L2009.4 1483.5L2009.9 1483.5L2010.4 1483.5L2010.8 1483.5L2011.3 1483.5L2011.8 1483.5L2012.3 1483.5L2012.8 1483.5L2013.3 1483.5L2013.7 1483.5L2014.2 1483.5L2014.7 1483.5L2015.2 1483.5L2015.7 1483.5L2016.1 1483.5L2016.6 1483.5L2017.1 1483.5L2017.6 1483.5L2018.1 1483.5L2018.5 1483.5L2019.0 1483.5L2019.5 1483.5L2020.0 1483.5L2020.5 1483.5L2020.9 1483.5L2021.4 1483.5L2021.9 1483.5L2022.4 1483.5L2022.9 1483.5L2023.3 1483.5L2023.8 1483.5L2024.3 1483.5L2024.8 1483.5L2025.3 1483.5L2025.8 1483.5L2026.2 1483.5L2026.7 1483.5L2027.2 1483.5L2027.7 1483.5L2028.2 1483.5L2028.6 1483.5L2029.1 1483.5L2029.6 1483.5L2030.1 1483.5L2030.6 1483.5L2031.0 1483.5L2031.5 1483.5L2032.0 1483.5L2032.5 1483.5L2033.0 1483.5L2033.4 1483.5L2033.9 1483.5L2034.4 1483.5L2034.9 1483.5L2035.4 1483.5L2035.8 1483.5L2036.3 1483.5L2036.8 1483.5L2037.3 1483.5L2037.8 1483.5L2038.3 1483.5L2038.7 1483.5L2039.2 1483.5L2039.7 1483.5L2040.2 1483.5L2040.7 1483.5L2041.1 1483.5L2041.6 1483.5L2042.1 1483.5L2042.6 1483.5L2043.1 1483.5L2043.5 1483.5L2044.0 1483.5L2044.5 1483.5L2045.0 1483.5L2045.5 1483.5L2045.9 1483.5L2046.4 1483.5L2046.9 1483.5L2047.4 1483.5L2047.9 1483.5L2048.3 1483.5L2048.8 1483.5L2049.3 1483.5L2049.8 1483.5L2050.3 1483.5L2050.8 1483.5L2051.2 1483.5L2051.7 1483.5L2052.2 1483.5L2052.7 1483.5L2053.2 1483.5L2053.6 1483.5L2054.1 1483.5L2054.6 1483.5L2055.1 1483.5L2055.6 1483.5L2056.0 1483.5L2056.5 1483.5L2057.0 1483.5L2057.5 1483.5L2058.0 1483.5L2058.4 1483.5L2058.9 1483.5L2059.4 1483.5L2059.9 1483.5L2060.4 1483.5L2060.8 1483.5L2061.3 1483.5L2061.8 1483.5L2062.3 1483.5L2062.8 1483.5L2063.3 1483.5L2063.7 1483.5L2064.2 1483.5L2064.7 1483.5L2065.2 1483.5L2065.7 1483.5L2066.1 1483.5L2066.6 1483.5L2067.1 1483.5L2067.6 1483.5L2068.1 1483.5L2068.5 1483.5L2069.0 1483.5L2069.5 1483.5L2070.0 1483.5L2070.5 1483.5L2070.9 1483.5L2071.4 1483.5L2071.9 1483.5L2072.4 1483.5L2072.9 1483.5L2073.3 1483.5L2073.8 1483.5L2074.3 1483.5L2074.8 1483.5L2075.3 1483.5L2075.8 1483.5L2076.2 1483.5L2076.7 1483.5L2077.2 1483.5L2077.7 1483.5L2078.2 1483.5L2078.6 1483.5L2079.1 1483.5L2079.6 1483.5L2080.1 1483.5L2080.6 1483.5L2081.0 1483.5L2081.5 1483.5L2082.0 1483.5L2082.5 1483.5L2083.0 1483.5L2083.4 1483.5L2083.9 1483.5L2084.4 1483.5L2084.9 1483.5L2085.4 1483.5L2085.8 1483.5L2086.3 1483.5L2086.8 1483.5L2087.3 1483.5L2087.8 1483.5L2088.3 1483.5L2088.7 1483.5L2089.2 1483.5L2089.7 1483.5L2090.2 1483.5L2090.7 1483.5L2091.1 1483.5L2091.6 1483.5L2092.1 1483.5L2092.6 1483.5L2093.1 1483.5L2093.5 1483.5L2094.0 1483.5L2094.5 1483.5L2095.0 1483.5L2095.5 1483.5L2095.9 1483.5L2096.4 1483.5L2096.9 1483.5L2097.4 1483.5L2097.9 1483.5L2098.3 1483.5L2098.8 1483.5L2099.3 1483.5L2099.8 1483.5L2100.3 1483.5L2100.8 1483.5L2101.2 1483.5L2101.7 1483.5L2102.2 1483.5L2102.7 1483.5L2103.2 1483.5L2103.6 1483.5L2104.1 1483.5L2104.6 1483.5L2105.1 1483.5L2105.6 1483.5L2106.0 1483.5L2106.5 1483.5L2107.0 1483.5" stroke="#7f1416" stroke-width="7" fill="none" stroke-linejoin="round"/>
<circle cx="1118.6" cy="1450.7" r="11.2" fill="none" stroke="#7f1416" stroke-width="7.3"/>
<circle cx="1126.8" cy="979.0" r="11.2" fill="none" stroke="#7f1416" stroke-width="7.3"/>
<circle cx="1134.9" cy="1294.3" r="11.2" fill="none" stroke="#7f1416" stroke-width="7.3"/>
<circle cx="1142.6" cy="1395.2" r="11.2" fill="none" stroke="#7f1416" stroke-width="7.3"/>
<circle cx="1150.8" cy="1454.2" r="11.2" fill="none" stroke="#7f1416" stroke-width="7.3"/>
<circle cx="1158.5" cy="1226.2" r="11.2" fill="none" stroke="#7f1416" stroke-width="7.3"/>
<circle cx="1166.2" cy="1102.1" r="11.2" fill="none" stroke="#7f1416" stroke-width="7.3"/>
<circle cx="1173.9" cy="1296.8" r="11.2" fill="none" stroke="#7f1416" stroke-width="7.3"/>
<rect x="1103" y="977" width="88.70000000000005" height="509" fill="none" stroke="#000" stroke-width="8.3"/>
<rect x="424.0" y="1001.0" width="598.0" height="159.5" fill="#fff"/>
<rect x="424.0" y="1001.0" width="598.0" height="159.5" fill="none" stroke="#262626" stroke-width="8"/><path d="M545.54 1160.5V1150.50M545.54 1001.0V1011.00M869.66 1160.5V1150.50M869.66 1001.0V1011.00M424.0 1080.75H434.00M1022.0 1080.75H1012.00" stroke="#262626" stroke-width="8" fill="none"/>
<path d="M419.1 1160.5L422.4 1160.5L425.6 1160.5L428.9 1160.5L432.1 1160.5L435.3 1160.5L438.6 1160.5L441.8 1160.5L445.1 1160.5L448.3 1160.5L451.6 1160.5L454.8 1160.5L458.0 1160.5L461.3 1160.5L464.5 1160.5L467.8 1160.5L471.0 1160.5L474.2 1160.5L477.5 1160.5L480.7 1160.5L484.0 1160.5L487.2 1160.5L490.4 1160.5L493.7 1160.5L496.9 1160.5L500.2 1160.5L503.4 1160.5L506.7 1160.5L509.9 1160.5L513.1 1160.5L516.4 1160.5L519.6 1160.5L522.9 1160.5L526.1 1080.8L529.3 1160.5L532.6 1160.5L535.8 1160.5L539.1 1160.5L542.3 1160.5L545.5 1160.5L548.8 1160.5L552.0 1160.5L555.3 1160.5L558.5 1160.5L561.8 1160.5L565.0 1160.5L568.2 1160.5L571.5 1160.5L574.7 1160.5L578.0 1160.5L581.2 1001.0L584.4 1160.5L587.7 1160.5L590.9 1160.5L594.2 1160.5L597.4 1160.5L600.6 1160.5L603.9 1160.5L607.1 1160.5L610.4 1160.5L613.6 1160.5L616.9 1160.5L620.1 1160.5L623.3 1160.5L626.6 1160.5L629.8 1160.5L633.1 1160.5L636.3 1080.8L639.5 1160.5L642.8 1160.5L646.0 1160.5L649.3 1160.5L652.5 1160.5L655.7 1160.5L659.0 1160.5L662.2 1160.5L665.5 1160.5L668.7 1160.5L672.0 1160.5L675.2 1160.5L678.4 1160.5L681.7 1160.5L684.9 1160.5L688.2 1120.6L691.4 1160.5L694.6 1160.5L697.9 1160.5L701.1 1160.5L704.4 1160.5L707.6 1160.5L710.8 1160.5L714.1 1160.5L717.3 1160.5L720.6 1160.5L723.8 1160.5L727.1 1160.5L730.3 1160.5L733.5 1160.5L736.8 1160.5L740.0 1160.5L743.3 1120.6L746.5 1160.5L749.7 1160.5L753.0 1160.5L756.2 1160.5L759.5 1160.5L762.7 1160.5L765.9 1160.5L769.2 1160.5L772.4 1160.5L775.7 1160.5L778.9 1160.5L782.2 1160.5L785.4 1160.5L788.6 1160.5L791.9 1160.5L795.1 1080.8L798.4 1160.5L801.6 1160.5L804.8 1160.5L808.1 1160.5L811.3 1160.5L814.6 1160.5L817.8 1160.5L821.0 1160.5L824.3 1160.5L827.5 1160.5L830.8 1160.5L834.0 1160.5L837.3 1160.5L840.5 1160.5L843.7 1160.5L847.0 1001.0L850.2 1160.5L853.5 1160.5L856.7 1160.5L859.9 1160.5L863.2 1160.5L866.4 1160.5L869.7 1160.5L872.9 1160.5L876.1 1160.5L879.4 1160.5L882.6 1160.5L885.9 1160.5L889.1 1160.5L892.4 1160.5L895.6 1160.5L898.8 1080.8L902.1 1160.5L905.3 1160.5L908.6 1160.5L911.8 1160.5L915.0 1160.5L918.3 1160.5L921.5 1160.5L924.8 1160.5L928.0 1160.5L931.2 1160.5L934.5 1160.5L937.7 1160.5L941.0 1160.5L944.2 1160.5L947.5 1160.5L950.7 1160.5L953.9 1160.5L957.2 1160.5L960.4 1160.5L963.7 1160.5L966.9 1160.5L970.1 1160.5L973.4 1160.5L976.6 1160.5L979.9 1160.5L983.1 1160.5L986.3 1160.5L989.6 1160.5L992.8 1160.5L996.1 1160.5L999.3 1160.5L1002.6 1160.5L1005.8 1160.5L1009.0 1160.5L1012.3 1160.5L1015.5 1160.5L1018.8 1160.5L1022.0 1160.5" stroke="#1f6ab5" stroke-width="7" fill="none" stroke-linejoin="round" clip-path="url(#cib)"/>
<rect x="517.5" y="1072.2" width="17.2" height="17.2" fill="none" stroke="#1f6ab5" stroke-width="7.0"/>
<rect x="572.6" y="992.4" width="17.2" height="17.2" fill="none" stroke="#1f6ab5" stroke-width="7.0"/>
<rect x="627.7" y="1072.2" width="17.2" height="17.2" fill="none" stroke="#1f6ab5" stroke-width="7.0"/>
<rect x="679.6" y="1112.0" width="17.2" height="17.2" fill="none" stroke="#1f6ab5" stroke-width="7.0"/>
<rect x="734.7" y="1112.0" width="17.2" height="17.2" fill="none" stroke="#1f6ab5" stroke-width="7.0"/>
<rect x="786.5" y="1072.2" width="17.2" height="17.2" fill="none" stroke="#1f6ab5" stroke-width="7.0"/>
<rect x="838.4" y="992.4" width="17.2" height="17.2" fill="none" stroke="#1f6ab5" stroke-width="7.0"/>
<rect x="890.2" y="1072.2" width="17.2" height="17.2" fill="none" stroke="#1f6ab5" stroke-width="7.0"/>
<path d="M419.1 1160.5L422.4 1157.3L425.6 1150.9L428.9 1154.9L432.1 1159.2L435.3 1160.5L438.6 1160.5L441.8 1160.5L445.1 1160.5L448.3 1160.5L451.6 1160.5L454.8 1160.5L458.0 1160.5L461.3 1160.5L464.5 1160.5L467.8 1160.5L471.0 1160.5L474.2 1157.3L477.5 1149.3L480.7 1157.3L484.0 1160.5L487.2 1160.5L490.4 1160.5L493.7 1160.5L496.9 1160.5L500.2 1160.5L503.4 1160.5L506.7 1160.5L509.9 1160.5L513.1 1160.2L516.4 1160.1L519.6 1159.8L522.9 1158.9L526.1 1150.1L529.3 1158.9L532.6 1159.8L535.8 1160.1L539.1 1160.2L542.3 1160.5L545.5 1160.5L548.8 1160.5L552.0 1160.5L555.3 1160.5L558.5 1160.5L561.8 1160.5L565.0 1160.5L568.2 1159.6L571.5 1158.6L574.7 1156.0L578.0 1150.0L581.2 1001.0L584.4 1150.0L587.7 1156.0L590.9 1158.6L594.2 1159.6L597.4 1160.5L600.6 1160.5L603.9 1160.5L607.1 1160.5L610.4 1160.5L613.6 1160.5L616.9 1160.5L620.1 1160.5L623.3 1160.0L626.6 1159.6L629.8 1158.5L633.1 1156.0L636.3 1100.7L639.5 1156.0L642.8 1158.5L646.0 1159.6L649.3 1160.0L652.5 1160.5L655.7 1160.5L659.0 1160.5L662.2 1160.5L665.5 1160.5L668.7 1160.5L672.0 1160.5L675.2 1160.1L678.4 1159.9L681.7 1159.3L684.9 1157.9L688.2 1132.6L691.4 1157.9L694.6 1159.3L697.9 1159.9L701.1 1160.1L704.4 1160.5L707.6 1160.5L710.8 1160.5L714.1 1160.5L717.3 1160.5L720.6 1160.5L723.8 1160.5L727.1 1160.5L730.3 1160.2L733.5 1160.1L736.8 1159.8L740.0 1159.0L743.3 1151.2L746.5 1159.0L749.7 1159.8L753.0 1160.1L756.2 1160.2L759.5 1160.5L762.7 1160.5L765.9 1160.5L769.2 1160.5L772.4 1160.5L775.7 1160.5L778.9 1160.5L782.2 1159.9L785.4 1159.4L788.6 1158.0L791.9 1154.7L795.1 1079.2L798.4 1154.7L801.6 1158.0L804.8 1159.4L808.1 1159.9L811.3 1160.5L814.6 1160.5L817.8 1160.5L821.0 1160.5L824.3 1160.5L827.5 1160.5L830.8 1160.5L834.0 1159.8L837.3 1159.0L840.5 1157.0L843.7 1152.3L847.0 1039.9L850.2 1152.3L853.5 1157.0L856.7 1159.0L859.9 1159.8L863.2 1160.5L866.4 1160.5L869.7 1160.5L872.9 1160.5L876.1 1160.5L879.4 1160.5L882.6 1160.5L885.9 1160.0L889.1 1159.6L892.4 1158.5L895.6 1156.0L898.8 1101.5L902.1 1156.0L905.3 1158.5L908.6 1159.6L911.8 1160.0L915.0 1160.5L918.3 1160.5L921.5 1160.5L924.8 1160.5L928.0 1160.5L931.2 1160.5L934.5 1160.5L937.7 1160.5L941.0 1158.9L944.2 1157.0L947.5 1158.9L950.7 1160.5L953.9 1160.5L957.2 1160.5L960.4 1160.5L963.7 1160.5L966.9 1160.5L970.1 1160.5L973.4 1160.5L976.6 1160.5L979.9 1160.5L983.1 1160.5L986.3 1160.5L989.6 1160.5L992.8 1158.9L996.1 1160.5L999.3 1158.9L1002.6 1160.5L1005.8 1160.5L1009.0 1160.5L1012.3 1160.5L1015.5 1160.5L1018.8 1160.5L1022.0 1160.5" stroke="#7f1416" stroke-width="7" fill="none" stroke-linejoin="round" clip-path="url(#cib)"/>
<circle cx="526.1" cy="1150.1" r="11.2" fill="none" stroke="#7f1416" stroke-width="7.3"/>
<circle cx="581.2" cy="1001.0" r="11.2" fill="none" stroke="#7f1416" stroke-width="7.3"/>
<circle cx="636.3" cy="1100.7" r="11.2" fill="none" stroke="#7f1416" stroke-width="7.3"/>
<circle cx="688.2" cy="1132.6" r="11.2" fill="none" stroke="#7f1416" stroke-width="7.3"/>
<circle cx="743.3" cy="1151.2" r="11.2" fill="none" stroke="#7f1416" stroke-width="7.3"/>
<circle cx="795.1" cy="1079.2" r="11.2" fill="none" stroke="#7f1416" stroke-width="7.3"/>
<circle cx="847.0" cy="1039.9" r="11.2" fill="none" stroke="#7f1416" stroke-width="7.3"/>
<circle cx="898.8" cy="1101.5" r="11.2" fill="none" stroke="#7f1416" stroke-width="7.3"/>
<text x="547.04" y="1253.00" text-anchor="middle" fill="#262626">1950</text>
<text x="869.96" y="1253.00" text-anchor="middle" fill="#262626">2050</text>
<text x="395.50" y="1105.30" text-anchor="end" fill="#262626">0.5</text>
<path d="M1094.0 979.6L1058.5 989.7" stroke="#000" stroke-width="8.0" stroke-dasharray="5.6 12.10" stroke-dashoffset="10.10" fill="none"/><path d="M1021.9 1000.2L1057.4 966.7Q1056.0 978.8 1058.5 989.7Q1062.2 1000.4 1069.7 1009.9Z" fill="#000"/><circle cx="1094.0" cy="979.6" r="10.8" fill="#000"/>
<path d="M1100.4 1477.2L1032.0 1198.4" stroke="#000" stroke-width="8.0" stroke-dasharray="5.6 12.10" stroke-dashoffset="10.10" fill="none"/><path d="M1022.9 1161.4L1055.1 1198.1Q1043.0 1196.3 1032.0 1198.4Q1021.2 1201.7 1011.4 1208.8Z" fill="#000"/><circle cx="1100.4" cy="1477.2" r="10.8" fill="#000"/>
<path d="M1238.2 1065.5H1416.9" stroke="#1f6ab5" stroke-width="7"/>
<rect x="1319.0" y="1057.4" width="17.2" height="17.2" fill="none" stroke="#1f6ab5" stroke-width="7.0"/>
<path d="M1238.2 1153.5H1416.9" stroke="#7f1416" stroke-width="7"/>
<circle cx="1327.6" cy="1153.5" r="11.2" fill="none" stroke="#7f1416" stroke-width="7.3"/>
<text x="1427.60" y="1090.00" text-anchor="start" fill="#000" font-size="71.25">Clean line spectra</text>
<text x="1428.40" y="1178.20" text-anchor="start" fill="#000" font-size="71.05">Denoised line spectra</text>
<g font-size="71.8"><text x="184.80" y="1576.30" text-anchor="middle" fill="#262626">0</text><text x="425.18" y="1576.30" text-anchor="middle" fill="#262626">500</text><text x="665.55" y="1576.30" text-anchor="middle" fill="#262626">1000</text><text x="905.92" y="1576.30" text-anchor="middle" fill="#262626">1500</text><text x="1146.30" y="1576.30" text-anchor="middle" fill="#262626">2000</text><text x="1386.67" y="1576.30" text-anchor="middle" fill="#262626">2500</text><text x="1627.05" y="1576.30" text-anchor="middle" fill="#262626">3000</text><text x="1867.42" y="1576.30" text-anchor="middle" fill="#262626">3500</text><text x="2107.80" y="1576.30" text-anchor="middle" fill="#262626">4000</text><text x="158.80" y="1508.30" text-anchor="end" fill="#262626">0</text><text x="158.80" y="1003.30" text-anchor="end" fill="#262626">1</text></g>
<text x="1143.50" y="1666.40" text-anchor="middle" fill="#262626">Doppler Units</text>
<text x="1145.00" y="1751.20" text-anchor="middle" fill="#262626">(b)</text>
<text transform="translate(88 1231.5) rotate(-90)" text-anchor="middle" font-size="71.6" fill="#262626">Normalized Amplitude</text>
</g>
</svg>
</body></html>
